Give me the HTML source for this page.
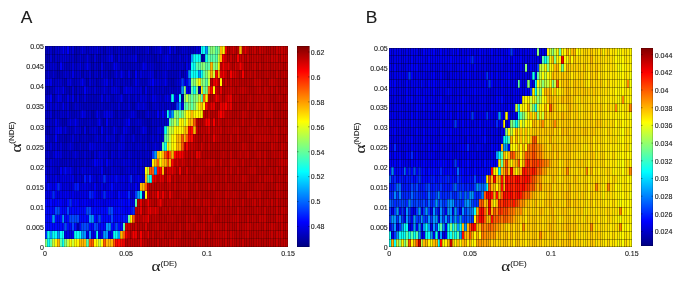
<!DOCTYPE html><html><head><meta charset="utf-8"><style>
*{margin:0;padding:0;box-sizing:border-box}
html,body{width:685px;height:282px;overflow:hidden;background:#fff}
body{position:relative}
.abs{position:absolute}
.txt{position:absolute;left:0;top:0;filter:grayscale(1);font-family:"Liberation Sans",sans-serif;fill:#1a1a1a;stroke:#1a1a1a;stroke-width:0.12px}
</style></head><body><div class="abs hm" style="left:45px;top:46px"><svg width="243.00" height="201.00" viewBox="0 0 243.00 201.00" shape-rendering="crispEdges" style="display:block"><rect x="0.00" y="0.00" width="3.13" height="8.74" fill="#0000b7"/><rect x="2.43" y="0.00" width="5.56" height="8.74" fill="#0000c7"/><rect x="7.29" y="0.00" width="3.13" height="8.74" fill="#0000b7"/><rect x="9.72" y="0.00" width="3.13" height="8.74" fill="#0000c7"/><rect x="12.15" y="0.00" width="3.13" height="8.74" fill="#0000d7"/><rect x="14.58" y="0.00" width="3.13" height="8.74" fill="#0000c7"/><rect x="17.01" y="0.00" width="3.13" height="8.74" fill="#0000f7"/><rect x="19.44" y="0.00" width="3.13" height="8.74" fill="#0000d7"/><rect x="21.87" y="0.00" width="3.13" height="8.74" fill="#0000f7"/><rect x="24.30" y="0.00" width="3.13" height="8.74" fill="#0000c7"/><rect x="26.73" y="0.00" width="3.13" height="8.74" fill="#0000d7"/><rect x="29.16" y="0.00" width="5.56" height="8.74" fill="#0000b7"/><rect x="34.02" y="0.00" width="3.13" height="8.74" fill="#0000c7"/><rect x="36.45" y="0.00" width="3.13" height="8.74" fill="#0000e7"/><rect x="38.88" y="0.00" width="7.99" height="8.74" fill="#0000c7"/><rect x="46.17" y="0.00" width="3.13" height="8.74" fill="#0000d7"/><rect x="48.60" y="0.00" width="3.13" height="8.74" fill="#0000c7"/><rect x="51.03" y="0.00" width="3.13" height="8.74" fill="#0000e7"/><rect x="53.46" y="0.00" width="5.56" height="8.74" fill="#0000c7"/><rect x="58.32" y="0.00" width="3.13" height="8.74" fill="#0000b7"/><rect x="60.75" y="0.00" width="3.13" height="8.74" fill="#0000c7"/><rect x="63.18" y="0.00" width="3.13" height="8.74" fill="#0000d7"/><rect x="65.61" y="0.00" width="3.13" height="8.74" fill="#0000c7"/><rect x="68.04" y="0.00" width="3.13" height="8.74" fill="#0000b7"/><rect x="70.47" y="0.00" width="12.85" height="8.74" fill="#0000c7"/><rect x="82.62" y="0.00" width="3.13" height="8.74" fill="#0000b7"/><rect x="85.05" y="0.00" width="3.13" height="8.74" fill="#0000c7"/><rect x="87.48" y="0.00" width="3.13" height="8.74" fill="#0000b7"/><rect x="89.91" y="0.00" width="5.56" height="8.74" fill="#0000c7"/><rect x="94.77" y="0.00" width="3.13" height="8.74" fill="#0000b7"/><rect x="97.20" y="0.00" width="5.56" height="8.74" fill="#0000c7"/><rect x="102.06" y="0.00" width="3.13" height="8.74" fill="#0000e7"/><rect x="104.49" y="0.00" width="5.56" height="8.74" fill="#0000b7"/><rect x="109.35" y="0.00" width="3.13" height="8.74" fill="#0000d7"/><rect x="111.78" y="0.00" width="3.13" height="8.74" fill="#0000c7"/><rect x="114.21" y="0.00" width="3.13" height="8.74" fill="#0000f7"/><rect x="116.64" y="0.00" width="3.13" height="8.74" fill="#0000b7"/><rect x="119.07" y="0.00" width="3.13" height="8.74" fill="#0000c7"/><rect x="121.50" y="0.00" width="3.13" height="8.74" fill="#0000d7"/><rect x="123.93" y="0.00" width="3.13" height="8.74" fill="#0000f7"/><rect x="126.36" y="0.00" width="3.13" height="8.74" fill="#0000c7"/><rect x="128.79" y="0.00" width="3.13" height="8.74" fill="#0000d7"/><rect x="131.22" y="0.00" width="5.56" height="8.74" fill="#0000b7"/><rect x="136.08" y="0.00" width="5.56" height="8.74" fill="#0000d7"/><rect x="140.94" y="0.00" width="5.56" height="8.74" fill="#0000c7"/><rect x="145.80" y="0.00" width="3.13" height="8.74" fill="#0000b7"/><rect x="148.23" y="0.00" width="3.13" height="8.74" fill="#0000c7"/><rect x="150.66" y="0.00" width="5.56" height="8.74" fill="#0000d7"/><rect x="155.52" y="0.00" width="5.56" height="8.74" fill="#08fff7"/><rect x="160.38" y="0.00" width="3.13" height="8.74" fill="#0097ff"/><rect x="162.81" y="0.00" width="3.13" height="8.74" fill="#58ffa7"/><rect x="165.24" y="0.00" width="5.56" height="8.74" fill="#87ff78"/><rect x="170.10" y="0.00" width="3.13" height="8.74" fill="#58ffa7"/><rect x="172.53" y="0.00" width="3.13" height="8.74" fill="#87ff78"/><rect x="174.96" y="0.00" width="3.13" height="8.74" fill="#ffb700"/><rect x="177.39" y="0.00" width="3.13" height="8.74" fill="#fff700"/><rect x="179.82" y="0.00" width="3.13" height="8.74" fill="#e70000"/><rect x="182.25" y="0.00" width="5.56" height="8.74" fill="#b70000"/><rect x="187.11" y="0.00" width="3.13" height="8.74" fill="#d70000"/><rect x="189.54" y="0.00" width="5.56" height="8.74" fill="#b70000"/><rect x="194.40" y="0.00" width="3.13" height="8.74" fill="#ffb700"/><rect x="196.83" y="0.00" width="3.13" height="8.74" fill="#b70000"/><rect x="199.26" y="0.00" width="3.13" height="8.74" fill="#e70000"/><rect x="201.69" y="0.00" width="5.56" height="8.74" fill="#b70000"/><rect x="206.55" y="0.00" width="5.56" height="8.74" fill="#c70000"/><rect x="211.41" y="0.00" width="3.13" height="8.74" fill="#b70000"/><rect x="213.84" y="0.00" width="5.56" height="8.74" fill="#c70000"/><rect x="218.70" y="0.00" width="12.85" height="8.74" fill="#b70000"/><rect x="230.85" y="0.00" width="10.42" height="8.74" fill="#c70000"/><rect x="240.57" y="0.00" width="3.13" height="8.74" fill="#b70000"/><rect x="0.00" y="8.04" width="5.56" height="8.74" fill="#0000b7"/><rect x="4.86" y="8.04" width="3.13" height="8.74" fill="#0000d7"/><rect x="7.29" y="8.04" width="3.13" height="8.74" fill="#0000b7"/><rect x="9.72" y="8.04" width="7.99" height="8.74" fill="#0000c7"/><rect x="17.01" y="8.04" width="5.56" height="8.74" fill="#0000d7"/><rect x="21.87" y="8.04" width="7.99" height="8.74" fill="#0000c7"/><rect x="29.16" y="8.04" width="5.56" height="8.74" fill="#0000b7"/><rect x="34.02" y="8.04" width="3.13" height="8.74" fill="#0000d7"/><rect x="36.45" y="8.04" width="3.13" height="8.74" fill="#0000c7"/><rect x="38.88" y="8.04" width="3.13" height="8.74" fill="#0000b7"/><rect x="41.31" y="8.04" width="3.13" height="8.74" fill="#0000e7"/><rect x="43.74" y="8.04" width="5.56" height="8.74" fill="#0000b7"/><rect x="48.60" y="8.04" width="3.13" height="8.74" fill="#0000d7"/><rect x="51.03" y="8.04" width="3.13" height="8.74" fill="#0000c7"/><rect x="53.46" y="8.04" width="3.13" height="8.74" fill="#0000b7"/><rect x="55.89" y="8.04" width="7.99" height="8.74" fill="#0000c7"/><rect x="63.18" y="8.04" width="5.56" height="8.74" fill="#0000e7"/><rect x="68.04" y="8.04" width="3.13" height="8.74" fill="#0000c7"/><rect x="70.47" y="8.04" width="3.13" height="8.74" fill="#0000b7"/><rect x="72.90" y="8.04" width="3.13" height="8.74" fill="#0000d7"/><rect x="75.33" y="8.04" width="10.42" height="8.74" fill="#0000c7"/><rect x="85.05" y="8.04" width="5.56" height="8.74" fill="#0000d7"/><rect x="89.91" y="8.04" width="3.13" height="8.74" fill="#0000e7"/><rect x="92.34" y="8.04" width="5.56" height="8.74" fill="#0000b7"/><rect x="97.20" y="8.04" width="10.42" height="8.74" fill="#0000c7"/><rect x="106.92" y="8.04" width="5.56" height="8.74" fill="#0000b7"/><rect x="111.78" y="8.04" width="7.99" height="8.74" fill="#0000c7"/><rect x="119.07" y="8.04" width="3.13" height="8.74" fill="#0000e7"/><rect x="121.50" y="8.04" width="3.13" height="8.74" fill="#0000f7"/><rect x="123.93" y="8.04" width="5.56" height="8.74" fill="#0000c7"/><rect x="128.79" y="8.04" width="3.13" height="8.74" fill="#0000b7"/><rect x="131.22" y="8.04" width="3.13" height="8.74" fill="#0000c7"/><rect x="133.65" y="8.04" width="3.13" height="8.74" fill="#0000d7"/><rect x="136.08" y="8.04" width="3.13" height="8.74" fill="#0000c7"/><rect x="138.51" y="8.04" width="5.56" height="8.74" fill="#0000d7"/><rect x="143.37" y="8.04" width="3.13" height="8.74" fill="#0000c7"/><rect x="145.80" y="8.04" width="3.13" height="8.74" fill="#0097ff"/><rect x="148.23" y="8.04" width="7.99" height="8.74" fill="#08fff7"/><rect x="155.52" y="8.04" width="5.56" height="8.74" fill="#0000a7"/><rect x="160.38" y="8.04" width="3.13" height="8.74" fill="#08fff7"/><rect x="162.81" y="8.04" width="10.42" height="8.74" fill="#58ffa7"/><rect x="172.53" y="8.04" width="3.13" height="8.74" fill="#c7ff38"/><rect x="174.96" y="8.04" width="3.13" height="8.74" fill="#ffb700"/><rect x="177.39" y="8.04" width="3.13" height="8.74" fill="#f70000"/><rect x="179.82" y="8.04" width="3.13" height="8.74" fill="#c70000"/><rect x="182.25" y="8.04" width="3.13" height="8.74" fill="#b70000"/><rect x="184.68" y="8.04" width="3.13" height="8.74" fill="#c70000"/><rect x="187.11" y="8.04" width="5.56" height="8.74" fill="#b70000"/><rect x="191.97" y="8.04" width="3.13" height="8.74" fill="#f70000"/><rect x="194.40" y="8.04" width="5.56" height="8.74" fill="#c70000"/><rect x="199.26" y="8.04" width="3.13" height="8.74" fill="#b70000"/><rect x="201.69" y="8.04" width="3.13" height="8.74" fill="#c70000"/><rect x="204.12" y="8.04" width="3.13" height="8.74" fill="#b70000"/><rect x="206.55" y="8.04" width="3.13" height="8.74" fill="#c70000"/><rect x="208.98" y="8.04" width="3.13" height="8.74" fill="#b70000"/><rect x="211.41" y="8.04" width="3.13" height="8.74" fill="#c70000"/><rect x="213.84" y="8.04" width="7.99" height="8.74" fill="#b70000"/><rect x="221.13" y="8.04" width="3.13" height="8.74" fill="#c70000"/><rect x="223.56" y="8.04" width="3.13" height="8.74" fill="#b70000"/><rect x="225.99" y="8.04" width="7.99" height="8.74" fill="#c70000"/><rect x="233.28" y="8.04" width="3.13" height="8.74" fill="#b70000"/><rect x="235.71" y="8.04" width="7.99" height="8.74" fill="#c70000"/><rect x="0.00" y="16.08" width="7.99" height="8.74" fill="#0000c7"/><rect x="7.29" y="16.08" width="3.13" height="8.74" fill="#0000d7"/><rect x="9.72" y="16.08" width="3.13" height="8.74" fill="#0000c7"/><rect x="12.15" y="16.08" width="3.13" height="8.74" fill="#0000b7"/><rect x="14.58" y="16.08" width="3.13" height="8.74" fill="#0000f7"/><rect x="17.01" y="16.08" width="3.13" height="8.74" fill="#0000d7"/><rect x="19.44" y="16.08" width="3.13" height="8.74" fill="#0000c7"/><rect x="21.87" y="16.08" width="3.13" height="8.74" fill="#0000b7"/><rect x="24.30" y="16.08" width="3.13" height="8.74" fill="#0000c7"/><rect x="26.73" y="16.08" width="3.13" height="8.74" fill="#0000d7"/><rect x="29.16" y="16.08" width="5.56" height="8.74" fill="#0000c7"/><rect x="34.02" y="16.08" width="3.13" height="8.74" fill="#0000e7"/><rect x="36.45" y="16.08" width="5.56" height="8.74" fill="#0000c7"/><rect x="41.31" y="16.08" width="3.13" height="8.74" fill="#0000f7"/><rect x="43.74" y="16.08" width="3.13" height="8.74" fill="#0000c7"/><rect x="46.17" y="16.08" width="3.13" height="8.74" fill="#0000b7"/><rect x="48.60" y="16.08" width="5.56" height="8.74" fill="#0000c7"/><rect x="53.46" y="16.08" width="3.13" height="8.74" fill="#0000b7"/><rect x="55.89" y="16.08" width="3.13" height="8.74" fill="#0000e7"/><rect x="58.32" y="16.08" width="3.13" height="8.74" fill="#0000c7"/><rect x="60.75" y="16.08" width="3.13" height="8.74" fill="#0000b7"/><rect x="63.18" y="16.08" width="3.13" height="8.74" fill="#0000c7"/><rect x="65.61" y="16.08" width="3.13" height="8.74" fill="#0000b7"/><rect x="68.04" y="16.08" width="3.13" height="8.74" fill="#0000f7"/><rect x="70.47" y="16.08" width="3.13" height="8.74" fill="#0000e7"/><rect x="72.90" y="16.08" width="5.56" height="8.74" fill="#0000c7"/><rect x="77.76" y="16.08" width="3.13" height="8.74" fill="#0000b7"/><rect x="80.19" y="16.08" width="3.13" height="8.74" fill="#0000c7"/><rect x="82.62" y="16.08" width="3.13" height="8.74" fill="#0000b7"/><rect x="85.05" y="16.08" width="10.42" height="8.74" fill="#0000c7"/><rect x="94.77" y="16.08" width="3.13" height="8.74" fill="#0000b7"/><rect x="97.20" y="16.08" width="3.13" height="8.74" fill="#0000f7"/><rect x="99.63" y="16.08" width="3.13" height="8.74" fill="#0000d7"/><rect x="102.06" y="16.08" width="3.13" height="8.74" fill="#0000c7"/><rect x="104.49" y="16.08" width="3.13" height="8.74" fill="#0000d7"/><rect x="106.92" y="16.08" width="5.56" height="8.74" fill="#0000c7"/><rect x="111.78" y="16.08" width="3.13" height="8.74" fill="#0000b7"/><rect x="114.21" y="16.08" width="5.56" height="8.74" fill="#0000c7"/><rect x="119.07" y="16.08" width="3.13" height="8.74" fill="#0000d7"/><rect x="121.50" y="16.08" width="3.13" height="8.74" fill="#0000e7"/><rect x="123.93" y="16.08" width="12.85" height="8.74" fill="#0000c7"/><rect x="136.08" y="16.08" width="3.13" height="8.74" fill="#0000d7"/><rect x="138.51" y="16.08" width="3.13" height="8.74" fill="#0000b7"/><rect x="140.94" y="16.08" width="3.13" height="8.74" fill="#0000e7"/><rect x="143.37" y="16.08" width="3.13" height="8.74" fill="#0000d7"/><rect x="145.80" y="16.08" width="5.56" height="8.74" fill="#08fff7"/><rect x="150.66" y="16.08" width="5.56" height="8.74" fill="#58ffa7"/><rect x="155.52" y="16.08" width="5.56" height="8.74" fill="#87ff78"/><rect x="160.38" y="16.08" width="5.56" height="8.74" fill="#58ffa7"/><rect x="165.24" y="16.08" width="3.13" height="8.74" fill="#ffb700"/><rect x="167.67" y="16.08" width="5.56" height="8.74" fill="#87ff78"/><rect x="172.53" y="16.08" width="3.13" height="8.74" fill="#fff700"/><rect x="174.96" y="16.08" width="3.13" height="8.74" fill="#b70000"/><rect x="177.39" y="16.08" width="3.13" height="8.74" fill="#f70000"/><rect x="179.82" y="16.08" width="3.13" height="8.74" fill="#c70000"/><rect x="182.25" y="16.08" width="3.13" height="8.74" fill="#e70000"/><rect x="184.68" y="16.08" width="5.56" height="8.74" fill="#b70000"/><rect x="189.54" y="16.08" width="3.13" height="8.74" fill="#d70000"/><rect x="191.97" y="16.08" width="3.13" height="8.74" fill="#b70000"/><rect x="194.40" y="16.08" width="3.13" height="8.74" fill="#f70000"/><rect x="196.83" y="16.08" width="3.13" height="8.74" fill="#c70000"/><rect x="199.26" y="16.08" width="7.99" height="8.74" fill="#b70000"/><rect x="206.55" y="16.08" width="5.56" height="8.74" fill="#c70000"/><rect x="211.41" y="16.08" width="3.13" height="8.74" fill="#b70000"/><rect x="213.84" y="16.08" width="3.13" height="8.74" fill="#c70000"/><rect x="216.27" y="16.08" width="5.56" height="8.74" fill="#b70000"/><rect x="221.13" y="16.08" width="3.13" height="8.74" fill="#c70000"/><rect x="223.56" y="16.08" width="5.56" height="8.74" fill="#b70000"/><rect x="228.42" y="16.08" width="3.13" height="8.74" fill="#c70000"/><rect x="230.85" y="16.08" width="3.13" height="8.74" fill="#b70000"/><rect x="233.28" y="16.08" width="3.13" height="8.74" fill="#c70000"/><rect x="235.71" y="16.08" width="5.56" height="8.74" fill="#b70000"/><rect x="240.57" y="16.08" width="3.13" height="8.74" fill="#c70000"/><rect x="0.00" y="24.12" width="3.13" height="8.74" fill="#0000b7"/><rect x="2.43" y="24.12" width="3.13" height="8.74" fill="#0000d7"/><rect x="4.86" y="24.12" width="3.13" height="8.74" fill="#0000b7"/><rect x="7.29" y="24.12" width="3.13" height="8.74" fill="#0000d7"/><rect x="9.72" y="24.12" width="7.99" height="8.74" fill="#0000b7"/><rect x="17.01" y="24.12" width="3.13" height="8.74" fill="#0000c7"/><rect x="19.44" y="24.12" width="3.13" height="8.74" fill="#0000d7"/><rect x="21.87" y="24.12" width="5.56" height="8.74" fill="#0000c7"/><rect x="26.73" y="24.12" width="3.13" height="8.74" fill="#0000e7"/><rect x="29.16" y="24.12" width="5.56" height="8.74" fill="#0000c7"/><rect x="34.02" y="24.12" width="3.13" height="8.74" fill="#0000d7"/><rect x="36.45" y="24.12" width="3.13" height="8.74" fill="#0000b7"/><rect x="38.88" y="24.12" width="5.56" height="8.74" fill="#0000c7"/><rect x="43.74" y="24.12" width="3.13" height="8.74" fill="#0000d7"/><rect x="46.17" y="24.12" width="3.13" height="8.74" fill="#0000b7"/><rect x="48.60" y="24.12" width="3.13" height="8.74" fill="#0000c7"/><rect x="51.03" y="24.12" width="3.13" height="8.74" fill="#0000d7"/><rect x="53.46" y="24.12" width="3.13" height="8.74" fill="#0000b7"/><rect x="55.89" y="24.12" width="3.13" height="8.74" fill="#0000d7"/><rect x="58.32" y="24.12" width="5.56" height="8.74" fill="#0000c7"/><rect x="63.18" y="24.12" width="5.56" height="8.74" fill="#0000b7"/><rect x="68.04" y="24.12" width="3.13" height="8.74" fill="#0000c7"/><rect x="70.47" y="24.12" width="3.13" height="8.74" fill="#0000e7"/><rect x="72.90" y="24.12" width="3.13" height="8.74" fill="#0000b7"/><rect x="75.33" y="24.12" width="3.13" height="8.74" fill="#0000f7"/><rect x="77.76" y="24.12" width="5.56" height="8.74" fill="#0000c7"/><rect x="82.62" y="24.12" width="3.13" height="8.74" fill="#0000e7"/><rect x="85.05" y="24.12" width="3.13" height="8.74" fill="#0000c7"/><rect x="87.48" y="24.12" width="3.13" height="8.74" fill="#0000b7"/><rect x="89.91" y="24.12" width="3.13" height="8.74" fill="#0000f7"/><rect x="92.34" y="24.12" width="3.13" height="8.74" fill="#0000c7"/><rect x="94.77" y="24.12" width="5.56" height="8.74" fill="#0000d7"/><rect x="99.63" y="24.12" width="3.13" height="8.74" fill="#0000c7"/><rect x="102.06" y="24.12" width="3.13" height="8.74" fill="#0000d7"/><rect x="104.49" y="24.12" width="3.13" height="8.74" fill="#0000e7"/><rect x="106.92" y="24.12" width="3.13" height="8.74" fill="#0000d7"/><rect x="109.35" y="24.12" width="3.13" height="8.74" fill="#0000b7"/><rect x="111.78" y="24.12" width="7.99" height="8.74" fill="#0000c7"/><rect x="119.07" y="24.12" width="3.13" height="8.74" fill="#0000e7"/><rect x="121.50" y="24.12" width="3.13" height="8.74" fill="#0000c7"/><rect x="123.93" y="24.12" width="3.13" height="8.74" fill="#0000b7"/><rect x="126.36" y="24.12" width="3.13" height="8.74" fill="#0000c7"/><rect x="128.79" y="24.12" width="3.13" height="8.74" fill="#0000b7"/><rect x="131.22" y="24.12" width="3.13" height="8.74" fill="#0000c7"/><rect x="133.65" y="24.12" width="3.13" height="8.74" fill="#0000d7"/><rect x="136.08" y="24.12" width="3.13" height="8.74" fill="#0000b7"/><rect x="138.51" y="24.12" width="3.13" height="8.74" fill="#0000c7"/><rect x="140.94" y="24.12" width="3.13" height="8.74" fill="#0000d7"/><rect x="143.37" y="24.12" width="3.13" height="8.74" fill="#0097ff"/><rect x="145.80" y="24.12" width="7.99" height="8.74" fill="#08fff7"/><rect x="153.09" y="24.12" width="3.13" height="8.74" fill="#0097ff"/><rect x="155.52" y="24.12" width="3.13" height="8.74" fill="#08fff7"/><rect x="157.95" y="24.12" width="3.13" height="8.74" fill="#58ffa7"/><rect x="160.38" y="24.12" width="3.13" height="8.74" fill="#87ff78"/><rect x="162.81" y="24.12" width="3.13" height="8.74" fill="#c7ff38"/><rect x="165.24" y="24.12" width="3.13" height="8.74" fill="#ffb700"/><rect x="167.67" y="24.12" width="3.13" height="8.74" fill="#c7ff38"/><rect x="170.10" y="24.12" width="3.13" height="8.74" fill="#ff0800"/><rect x="172.53" y="24.12" width="3.13" height="8.74" fill="#ffb700"/><rect x="174.96" y="24.12" width="3.13" height="8.74" fill="#d70000"/><rect x="177.39" y="24.12" width="3.13" height="8.74" fill="#f70000"/><rect x="179.82" y="24.12" width="3.13" height="8.74" fill="#c70000"/><rect x="182.25" y="24.12" width="3.13" height="8.74" fill="#b70000"/><rect x="184.68" y="24.12" width="3.13" height="8.74" fill="#f70000"/><rect x="187.11" y="24.12" width="5.56" height="8.74" fill="#d70000"/><rect x="191.97" y="24.12" width="5.56" height="8.74" fill="#b70000"/><rect x="196.83" y="24.12" width="3.13" height="8.74" fill="#f70000"/><rect x="199.26" y="24.12" width="5.56" height="8.74" fill="#b70000"/><rect x="204.12" y="24.12" width="3.13" height="8.74" fill="#c70000"/><rect x="206.55" y="24.12" width="3.13" height="8.74" fill="#b70000"/><rect x="208.98" y="24.12" width="3.13" height="8.74" fill="#c70000"/><rect x="211.41" y="24.12" width="10.42" height="8.74" fill="#b70000"/><rect x="221.13" y="24.12" width="3.13" height="8.74" fill="#c70000"/><rect x="223.56" y="24.12" width="7.99" height="8.74" fill="#b70000"/><rect x="230.85" y="24.12" width="3.13" height="8.74" fill="#c70000"/><rect x="233.28" y="24.12" width="5.56" height="8.74" fill="#b70000"/><rect x="238.14" y="24.12" width="3.13" height="8.74" fill="#c70000"/><rect x="240.57" y="24.12" width="3.13" height="8.74" fill="#b70000"/><rect x="0.00" y="32.16" width="3.13" height="8.74" fill="#0000d7"/><rect x="2.43" y="32.16" width="5.56" height="8.74" fill="#0000e7"/><rect x="7.29" y="32.16" width="5.56" height="8.74" fill="#0000c7"/><rect x="12.15" y="32.16" width="3.13" height="8.74" fill="#0000d7"/><rect x="14.58" y="32.16" width="5.56" height="8.74" fill="#0000c7"/><rect x="19.44" y="32.16" width="3.13" height="8.74" fill="#0000b7"/><rect x="21.87" y="32.16" width="3.13" height="8.74" fill="#0000d7"/><rect x="24.30" y="32.16" width="3.13" height="8.74" fill="#0000e7"/><rect x="26.73" y="32.16" width="3.13" height="8.74" fill="#0000b7"/><rect x="29.16" y="32.16" width="5.56" height="8.74" fill="#0000c7"/><rect x="34.02" y="32.16" width="3.13" height="8.74" fill="#0000d7"/><rect x="36.45" y="32.16" width="3.13" height="8.74" fill="#0000f7"/><rect x="38.88" y="32.16" width="3.13" height="8.74" fill="#0000c7"/><rect x="41.31" y="32.16" width="3.13" height="8.74" fill="#0000b7"/><rect x="43.74" y="32.16" width="3.13" height="8.74" fill="#0000d7"/><rect x="46.17" y="32.16" width="5.56" height="8.74" fill="#0000c7"/><rect x="51.03" y="32.16" width="3.13" height="8.74" fill="#0000b7"/><rect x="53.46" y="32.16" width="5.56" height="8.74" fill="#0000c7"/><rect x="58.32" y="32.16" width="5.56" height="8.74" fill="#0000e7"/><rect x="63.18" y="32.16" width="3.13" height="8.74" fill="#0000c7"/><rect x="65.61" y="32.16" width="3.13" height="8.74" fill="#0000d7"/><rect x="68.04" y="32.16" width="3.13" height="8.74" fill="#0000b7"/><rect x="70.47" y="32.16" width="3.13" height="8.74" fill="#0000d7"/><rect x="72.90" y="32.16" width="12.85" height="8.74" fill="#0000c7"/><rect x="85.05" y="32.16" width="3.13" height="8.74" fill="#0000b7"/><rect x="87.48" y="32.16" width="3.13" height="8.74" fill="#0000c7"/><rect x="89.91" y="32.16" width="3.13" height="8.74" fill="#0000e7"/><rect x="92.34" y="32.16" width="3.13" height="8.74" fill="#0000d7"/><rect x="94.77" y="32.16" width="3.13" height="8.74" fill="#0000b7"/><rect x="97.20" y="32.16" width="3.13" height="8.74" fill="#0000c7"/><rect x="99.63" y="32.16" width="3.13" height="8.74" fill="#0000b7"/><rect x="102.06" y="32.16" width="3.13" height="8.74" fill="#0000d7"/><rect x="104.49" y="32.16" width="3.13" height="8.74" fill="#0000e7"/><rect x="106.92" y="32.16" width="3.13" height="8.74" fill="#0000f7"/><rect x="109.35" y="32.16" width="7.99" height="8.74" fill="#0000d7"/><rect x="116.64" y="32.16" width="3.13" height="8.74" fill="#0000c7"/><rect x="119.07" y="32.16" width="3.13" height="8.74" fill="#0000f7"/><rect x="121.50" y="32.16" width="3.13" height="8.74" fill="#0000c7"/><rect x="123.93" y="32.16" width="7.99" height="8.74" fill="#0000b7"/><rect x="131.22" y="32.16" width="5.56" height="8.74" fill="#0000d7"/><rect x="136.08" y="32.16" width="3.13" height="8.74" fill="#0038ff"/><rect x="138.51" y="32.16" width="5.56" height="8.74" fill="#0000e7"/><rect x="143.37" y="32.16" width="3.13" height="8.74" fill="#0038ff"/><rect x="145.80" y="32.16" width="5.56" height="8.74" fill="#87ff78"/><rect x="150.66" y="32.16" width="3.13" height="8.74" fill="#c7ff38"/><rect x="153.09" y="32.16" width="3.13" height="8.74" fill="#fff700"/><rect x="155.52" y="32.16" width="5.56" height="8.74" fill="#87ff78"/><rect x="160.38" y="32.16" width="3.13" height="8.74" fill="#58ffa7"/><rect x="162.81" y="32.16" width="3.13" height="8.74" fill="#c7ff38"/><rect x="165.24" y="32.16" width="3.13" height="8.74" fill="#b70000"/><rect x="167.67" y="32.16" width="3.13" height="8.74" fill="#e70000"/><rect x="170.10" y="32.16" width="3.13" height="8.74" fill="#f70000"/><rect x="172.53" y="32.16" width="3.13" height="8.74" fill="#b70000"/><rect x="174.96" y="32.16" width="3.13" height="8.74" fill="#fff700"/><rect x="177.39" y="32.16" width="3.13" height="8.74" fill="#b70000"/><rect x="179.82" y="32.16" width="3.13" height="8.74" fill="#c70000"/><rect x="182.25" y="32.16" width="3.13" height="8.74" fill="#b70000"/><rect x="184.68" y="32.16" width="3.13" height="8.74" fill="#c70000"/><rect x="187.11" y="32.16" width="3.13" height="8.74" fill="#b70000"/><rect x="189.54" y="32.16" width="3.13" height="8.74" fill="#c70000"/><rect x="191.97" y="32.16" width="17.71" height="8.74" fill="#b70000"/><rect x="208.98" y="32.16" width="7.99" height="8.74" fill="#c70000"/><rect x="216.27" y="32.16" width="7.99" height="8.74" fill="#b70000"/><rect x="223.56" y="32.16" width="7.99" height="8.74" fill="#c70000"/><rect x="230.85" y="32.16" width="12.85" height="8.74" fill="#b70000"/><rect x="0.00" y="40.20" width="7.99" height="8.74" fill="#0000b7"/><rect x="7.29" y="40.20" width="3.13" height="8.74" fill="#0000c7"/><rect x="9.72" y="40.20" width="3.13" height="8.74" fill="#0000d7"/><rect x="12.15" y="40.20" width="3.13" height="8.74" fill="#0000e7"/><rect x="14.58" y="40.20" width="3.13" height="8.74" fill="#0000c7"/><rect x="17.01" y="40.20" width="3.13" height="8.74" fill="#0000f7"/><rect x="19.44" y="40.20" width="3.13" height="8.74" fill="#0000c7"/><rect x="21.87" y="40.20" width="5.56" height="8.74" fill="#0000b7"/><rect x="26.73" y="40.20" width="3.13" height="8.74" fill="#0000d7"/><rect x="29.16" y="40.20" width="3.13" height="8.74" fill="#0000b7"/><rect x="31.59" y="40.20" width="7.99" height="8.74" fill="#0000c7"/><rect x="38.88" y="40.20" width="3.13" height="8.74" fill="#0000f7"/><rect x="41.31" y="40.20" width="3.13" height="8.74" fill="#0000d7"/><rect x="43.74" y="40.20" width="5.56" height="8.74" fill="#0000c7"/><rect x="48.60" y="40.20" width="3.13" height="8.74" fill="#0000d7"/><rect x="51.03" y="40.20" width="7.99" height="8.74" fill="#0000c7"/><rect x="58.32" y="40.20" width="3.13" height="8.74" fill="#0000e7"/><rect x="60.75" y="40.20" width="5.56" height="8.74" fill="#0000c7"/><rect x="65.61" y="40.20" width="3.13" height="8.74" fill="#0000d7"/><rect x="68.04" y="40.20" width="5.56" height="8.74" fill="#0000e7"/><rect x="72.90" y="40.20" width="3.13" height="8.74" fill="#0000c7"/><rect x="75.33" y="40.20" width="3.13" height="8.74" fill="#0000b7"/><rect x="77.76" y="40.20" width="3.13" height="8.74" fill="#0000d7"/><rect x="80.19" y="40.20" width="3.13" height="8.74" fill="#0000f7"/><rect x="82.62" y="40.20" width="3.13" height="8.74" fill="#0000d7"/><rect x="85.05" y="40.20" width="3.13" height="8.74" fill="#0000e7"/><rect x="87.48" y="40.20" width="10.42" height="8.74" fill="#0000d7"/><rect x="97.20" y="40.20" width="3.13" height="8.74" fill="#0000b7"/><rect x="99.63" y="40.20" width="3.13" height="8.74" fill="#0000e7"/><rect x="102.06" y="40.20" width="5.56" height="8.74" fill="#0000c7"/><rect x="106.92" y="40.20" width="3.13" height="8.74" fill="#0000d7"/><rect x="109.35" y="40.20" width="20.14" height="8.74" fill="#0000c7"/><rect x="128.79" y="40.20" width="3.13" height="8.74" fill="#0000b7"/><rect x="131.22" y="40.20" width="3.13" height="8.74" fill="#0000d7"/><rect x="133.65" y="40.20" width="3.13" height="8.74" fill="#0000c7"/><rect x="136.08" y="40.20" width="3.13" height="8.74" fill="#0097ff"/><rect x="138.51" y="40.20" width="3.13" height="8.74" fill="#87ff78"/><rect x="140.94" y="40.20" width="5.56" height="8.74" fill="#0000e7"/><rect x="145.80" y="40.20" width="3.13" height="8.74" fill="#58ffa7"/><rect x="148.23" y="40.20" width="3.13" height="8.74" fill="#08fff7"/><rect x="150.66" y="40.20" width="3.13" height="8.74" fill="#87ff78"/><rect x="153.09" y="40.20" width="3.13" height="8.74" fill="#0000a7"/><rect x="155.52" y="40.20" width="3.13" height="8.74" fill="#fff700"/><rect x="157.95" y="40.20" width="3.13" height="8.74" fill="#58ffa7"/><rect x="160.38" y="40.20" width="3.13" height="8.74" fill="#87ff78"/><rect x="162.81" y="40.20" width="3.13" height="8.74" fill="#ff5800"/><rect x="165.24" y="40.20" width="3.13" height="8.74" fill="#ff0800"/><rect x="167.67" y="40.20" width="3.13" height="8.74" fill="#fff700"/><rect x="170.10" y="40.20" width="3.13" height="8.74" fill="#d70000"/><rect x="172.53" y="40.20" width="3.13" height="8.74" fill="#b70000"/><rect x="174.96" y="40.20" width="3.13" height="8.74" fill="#e70000"/><rect x="177.39" y="40.20" width="5.56" height="8.74" fill="#b70000"/><rect x="182.25" y="40.20" width="7.99" height="8.74" fill="#c70000"/><rect x="189.54" y="40.20" width="5.56" height="8.74" fill="#b70000"/><rect x="194.40" y="40.20" width="7.99" height="8.74" fill="#c70000"/><rect x="201.69" y="40.20" width="10.42" height="8.74" fill="#b70000"/><rect x="211.41" y="40.20" width="5.56" height="8.74" fill="#c70000"/><rect x="216.27" y="40.20" width="3.13" height="8.74" fill="#b70000"/><rect x="218.70" y="40.20" width="5.56" height="8.74" fill="#c70000"/><rect x="223.56" y="40.20" width="3.13" height="8.74" fill="#b70000"/><rect x="225.99" y="40.20" width="3.13" height="8.74" fill="#c70000"/><rect x="228.42" y="40.20" width="3.13" height="8.74" fill="#b70000"/><rect x="230.85" y="40.20" width="3.13" height="8.74" fill="#c70000"/><rect x="233.28" y="40.20" width="5.56" height="8.74" fill="#b70000"/><rect x="238.14" y="40.20" width="3.13" height="8.74" fill="#c70000"/><rect x="240.57" y="40.20" width="3.13" height="8.74" fill="#b70000"/><rect x="0.00" y="48.24" width="3.13" height="8.74" fill="#0000c7"/><rect x="2.43" y="48.24" width="3.13" height="8.74" fill="#0000d7"/><rect x="4.86" y="48.24" width="3.13" height="8.74" fill="#0000f7"/><rect x="7.29" y="48.24" width="3.13" height="8.74" fill="#0000b7"/><rect x="9.72" y="48.24" width="3.13" height="8.74" fill="#0000c7"/><rect x="12.15" y="48.24" width="3.13" height="8.74" fill="#0000f7"/><rect x="14.58" y="48.24" width="3.13" height="8.74" fill="#0000d7"/><rect x="17.01" y="48.24" width="5.56" height="8.74" fill="#0000c7"/><rect x="21.87" y="48.24" width="3.13" height="8.74" fill="#0000e7"/><rect x="24.30" y="48.24" width="3.13" height="8.74" fill="#0000c7"/><rect x="26.73" y="48.24" width="3.13" height="8.74" fill="#0000e7"/><rect x="29.16" y="48.24" width="3.13" height="8.74" fill="#0000b7"/><rect x="31.59" y="48.24" width="3.13" height="8.74" fill="#0000d7"/><rect x="34.02" y="48.24" width="3.13" height="8.74" fill="#0000b7"/><rect x="36.45" y="48.24" width="3.13" height="8.74" fill="#0000c7"/><rect x="38.88" y="48.24" width="3.13" height="8.74" fill="#0000d7"/><rect x="41.31" y="48.24" width="3.13" height="8.74" fill="#0000c7"/><rect x="43.74" y="48.24" width="3.13" height="8.74" fill="#0000b7"/><rect x="46.17" y="48.24" width="3.13" height="8.74" fill="#0000c7"/><rect x="48.60" y="48.24" width="3.13" height="8.74" fill="#0000b7"/><rect x="51.03" y="48.24" width="5.56" height="8.74" fill="#0000c7"/><rect x="55.89" y="48.24" width="3.13" height="8.74" fill="#0000e7"/><rect x="58.32" y="48.24" width="3.13" height="8.74" fill="#0000c7"/><rect x="60.75" y="48.24" width="5.56" height="8.74" fill="#0000d7"/><rect x="65.61" y="48.24" width="3.13" height="8.74" fill="#0000b7"/><rect x="68.04" y="48.24" width="3.13" height="8.74" fill="#0000c7"/><rect x="70.47" y="48.24" width="3.13" height="8.74" fill="#0000d7"/><rect x="72.90" y="48.24" width="3.13" height="8.74" fill="#0000c7"/><rect x="75.33" y="48.24" width="3.13" height="8.74" fill="#0000f7"/><rect x="77.76" y="48.24" width="3.13" height="8.74" fill="#0000b7"/><rect x="80.19" y="48.24" width="3.13" height="8.74" fill="#0000c7"/><rect x="82.62" y="48.24" width="3.13" height="8.74" fill="#0000d7"/><rect x="85.05" y="48.24" width="5.56" height="8.74" fill="#0000c7"/><rect x="89.91" y="48.24" width="3.13" height="8.74" fill="#0000d7"/><rect x="92.34" y="48.24" width="3.13" height="8.74" fill="#0000c7"/><rect x="94.77" y="48.24" width="7.99" height="8.74" fill="#0000d7"/><rect x="102.06" y="48.24" width="5.56" height="8.74" fill="#0000c7"/><rect x="106.92" y="48.24" width="5.56" height="8.74" fill="#0000e7"/><rect x="111.78" y="48.24" width="3.13" height="8.74" fill="#0000c7"/><rect x="114.21" y="48.24" width="3.13" height="8.74" fill="#0000d7"/><rect x="116.64" y="48.24" width="3.13" height="8.74" fill="#0000b7"/><rect x="119.07" y="48.24" width="3.13" height="8.74" fill="#0000e7"/><rect x="121.50" y="48.24" width="3.13" height="8.74" fill="#0000f7"/><rect x="123.93" y="48.24" width="3.13" height="8.74" fill="#0000c7"/><rect x="126.36" y="48.24" width="3.13" height="8.74" fill="#08fff7"/><rect x="128.79" y="48.24" width="5.56" height="8.74" fill="#0000e7"/><rect x="133.65" y="48.24" width="3.13" height="8.74" fill="#08fff7"/><rect x="136.08" y="48.24" width="3.13" height="8.74" fill="#0000a7"/><rect x="138.51" y="48.24" width="3.13" height="8.74" fill="#87ff78"/><rect x="140.94" y="48.24" width="3.13" height="8.74" fill="#c7ff38"/><rect x="143.37" y="48.24" width="3.13" height="8.74" fill="#87ff78"/><rect x="145.80" y="48.24" width="3.13" height="8.74" fill="#58ffa7"/><rect x="148.23" y="48.24" width="5.56" height="8.74" fill="#87ff78"/><rect x="153.09" y="48.24" width="3.13" height="8.74" fill="#c7ff38"/><rect x="155.52" y="48.24" width="3.13" height="8.74" fill="#58ffa7"/><rect x="157.95" y="48.24" width="3.13" height="8.74" fill="#ff5800"/><rect x="160.38" y="48.24" width="3.13" height="8.74" fill="#fff700"/><rect x="162.81" y="48.24" width="7.99" height="8.74" fill="#b70000"/><rect x="170.10" y="48.24" width="3.13" height="8.74" fill="#f70000"/><rect x="172.53" y="48.24" width="3.13" height="8.74" fill="#d70000"/><rect x="174.96" y="48.24" width="3.13" height="8.74" fill="#c70000"/><rect x="177.39" y="48.24" width="3.13" height="8.74" fill="#b70000"/><rect x="179.82" y="48.24" width="3.13" height="8.74" fill="#c70000"/><rect x="182.25" y="48.24" width="5.56" height="8.74" fill="#e70000"/><rect x="187.11" y="48.24" width="3.13" height="8.74" fill="#b70000"/><rect x="189.54" y="48.24" width="3.13" height="8.74" fill="#c70000"/><rect x="191.97" y="48.24" width="12.85" height="8.74" fill="#b70000"/><rect x="204.12" y="48.24" width="3.13" height="8.74" fill="#c70000"/><rect x="206.55" y="48.24" width="5.56" height="8.74" fill="#b70000"/><rect x="211.41" y="48.24" width="3.13" height="8.74" fill="#c70000"/><rect x="213.84" y="48.24" width="3.13" height="8.74" fill="#b70000"/><rect x="216.27" y="48.24" width="3.13" height="8.74" fill="#c70000"/><rect x="218.70" y="48.24" width="3.13" height="8.74" fill="#b70000"/><rect x="221.13" y="48.24" width="3.13" height="8.74" fill="#c70000"/><rect x="223.56" y="48.24" width="10.42" height="8.74" fill="#b70000"/><rect x="233.28" y="48.24" width="3.13" height="8.74" fill="#c70000"/><rect x="235.71" y="48.24" width="5.56" height="8.74" fill="#b70000"/><rect x="240.57" y="48.24" width="3.13" height="8.74" fill="#c70000"/><rect x="0.00" y="56.28" width="3.13" height="8.74" fill="#0000e7"/><rect x="2.43" y="56.28" width="3.13" height="8.74" fill="#0000c7"/><rect x="4.86" y="56.28" width="3.13" height="8.74" fill="#0000d7"/><rect x="7.29" y="56.28" width="3.13" height="8.74" fill="#0000c7"/><rect x="9.72" y="56.28" width="5.56" height="8.74" fill="#0000d7"/><rect x="14.58" y="56.28" width="3.13" height="8.74" fill="#0000b7"/><rect x="17.01" y="56.28" width="3.13" height="8.74" fill="#0000f7"/><rect x="19.44" y="56.28" width="3.13" height="8.74" fill="#0000c7"/><rect x="21.87" y="56.28" width="3.13" height="8.74" fill="#0000d7"/><rect x="24.30" y="56.28" width="5.56" height="8.74" fill="#0000b7"/><rect x="29.16" y="56.28" width="3.13" height="8.74" fill="#0000d7"/><rect x="31.59" y="56.28" width="7.99" height="8.74" fill="#0000c7"/><rect x="38.88" y="56.28" width="3.13" height="8.74" fill="#0000b7"/><rect x="41.31" y="56.28" width="3.13" height="8.74" fill="#0000c7"/><rect x="43.74" y="56.28" width="3.13" height="8.74" fill="#0000b7"/><rect x="46.17" y="56.28" width="3.13" height="8.74" fill="#0000c7"/><rect x="48.60" y="56.28" width="3.13" height="8.74" fill="#0000b7"/><rect x="51.03" y="56.28" width="10.42" height="8.74" fill="#0000c7"/><rect x="60.75" y="56.28" width="3.13" height="8.74" fill="#0000b7"/><rect x="63.18" y="56.28" width="10.42" height="8.74" fill="#0000c7"/><rect x="72.90" y="56.28" width="3.13" height="8.74" fill="#0000d7"/><rect x="75.33" y="56.28" width="7.99" height="8.74" fill="#0000c7"/><rect x="82.62" y="56.28" width="3.13" height="8.74" fill="#0000d7"/><rect x="85.05" y="56.28" width="3.13" height="8.74" fill="#0000c7"/><rect x="87.48" y="56.28" width="3.13" height="8.74" fill="#0000b7"/><rect x="89.91" y="56.28" width="3.13" height="8.74" fill="#0000c7"/><rect x="92.34" y="56.28" width="3.13" height="8.74" fill="#0000e7"/><rect x="94.77" y="56.28" width="3.13" height="8.74" fill="#0000c7"/><rect x="97.20" y="56.28" width="3.13" height="8.74" fill="#0000e7"/><rect x="99.63" y="56.28" width="5.56" height="8.74" fill="#0000c7"/><rect x="104.49" y="56.28" width="3.13" height="8.74" fill="#0000b7"/><rect x="106.92" y="56.28" width="3.13" height="8.74" fill="#0000c7"/><rect x="109.35" y="56.28" width="3.13" height="8.74" fill="#0000d7"/><rect x="111.78" y="56.28" width="10.42" height="8.74" fill="#0000c7"/><rect x="121.50" y="56.28" width="3.13" height="8.74" fill="#0000d7"/><rect x="123.93" y="56.28" width="5.56" height="8.74" fill="#0000c7"/><rect x="128.79" y="56.28" width="3.13" height="8.74" fill="#0000b7"/><rect x="131.22" y="56.28" width="3.13" height="8.74" fill="#0038ff"/><rect x="133.65" y="56.28" width="3.13" height="8.74" fill="#0097ff"/><rect x="136.08" y="56.28" width="3.13" height="8.74" fill="#0000e7"/><rect x="138.51" y="56.28" width="5.56" height="8.74" fill="#58ffa7"/><rect x="143.37" y="56.28" width="3.13" height="8.74" fill="#87ff78"/><rect x="145.80" y="56.28" width="3.13" height="8.74" fill="#58ffa7"/><rect x="148.23" y="56.28" width="3.13" height="8.74" fill="#87ff78"/><rect x="150.66" y="56.28" width="3.13" height="8.74" fill="#c7ff38"/><rect x="153.09" y="56.28" width="3.13" height="8.74" fill="#fff700"/><rect x="155.52" y="56.28" width="3.13" height="8.74" fill="#ffb700"/><rect x="157.95" y="56.28" width="3.13" height="8.74" fill="#fff700"/><rect x="160.38" y="56.28" width="3.13" height="8.74" fill="#ff0800"/><rect x="162.81" y="56.28" width="3.13" height="8.74" fill="#b70000"/><rect x="165.24" y="56.28" width="5.56" height="8.74" fill="#e70000"/><rect x="170.10" y="56.28" width="5.56" height="8.74" fill="#b70000"/><rect x="174.96" y="56.28" width="5.56" height="8.74" fill="#e70000"/><rect x="179.82" y="56.28" width="3.13" height="8.74" fill="#f70000"/><rect x="182.25" y="56.28" width="3.13" height="8.74" fill="#d70000"/><rect x="184.68" y="56.28" width="3.13" height="8.74" fill="#e70000"/><rect x="187.11" y="56.28" width="15.28" height="8.74" fill="#b70000"/><rect x="201.69" y="56.28" width="3.13" height="8.74" fill="#c70000"/><rect x="204.12" y="56.28" width="7.99" height="8.74" fill="#b70000"/><rect x="211.41" y="56.28" width="3.13" height="8.74" fill="#c70000"/><rect x="213.84" y="56.28" width="5.56" height="8.74" fill="#b70000"/><rect x="218.70" y="56.28" width="5.56" height="8.74" fill="#c70000"/><rect x="223.56" y="56.28" width="3.13" height="8.74" fill="#b70000"/><rect x="225.99" y="56.28" width="3.13" height="8.74" fill="#c70000"/><rect x="228.42" y="56.28" width="10.42" height="8.74" fill="#b70000"/><rect x="238.14" y="56.28" width="5.56" height="8.74" fill="#c70000"/><rect x="0.00" y="64.32" width="5.56" height="8.74" fill="#0000c7"/><rect x="4.86" y="64.32" width="3.13" height="8.74" fill="#0000d7"/><rect x="7.29" y="64.32" width="3.13" height="8.74" fill="#0000b7"/><rect x="9.72" y="64.32" width="7.99" height="8.74" fill="#0000c7"/><rect x="17.01" y="64.32" width="3.13" height="8.74" fill="#0000d7"/><rect x="19.44" y="64.32" width="3.13" height="8.74" fill="#0000c7"/><rect x="21.87" y="64.32" width="3.13" height="8.74" fill="#0000d7"/><rect x="24.30" y="64.32" width="3.13" height="8.74" fill="#0000c7"/><rect x="26.73" y="64.32" width="3.13" height="8.74" fill="#0000b7"/><rect x="29.16" y="64.32" width="7.99" height="8.74" fill="#0000c7"/><rect x="36.45" y="64.32" width="3.13" height="8.74" fill="#0000f7"/><rect x="38.88" y="64.32" width="3.13" height="8.74" fill="#0000d7"/><rect x="41.31" y="64.32" width="5.56" height="8.74" fill="#0000c7"/><rect x="46.17" y="64.32" width="5.56" height="8.74" fill="#0000b7"/><rect x="51.03" y="64.32" width="3.13" height="8.74" fill="#0000f7"/><rect x="53.46" y="64.32" width="3.13" height="8.74" fill="#0000d7"/><rect x="55.89" y="64.32" width="3.13" height="8.74" fill="#0000b7"/><rect x="58.32" y="64.32" width="7.99" height="8.74" fill="#0000e7"/><rect x="65.61" y="64.32" width="3.13" height="8.74" fill="#0000d7"/><rect x="68.04" y="64.32" width="3.13" height="8.74" fill="#0000c7"/><rect x="70.47" y="64.32" width="3.13" height="8.74" fill="#0000b7"/><rect x="72.90" y="64.32" width="5.56" height="8.74" fill="#0000c7"/><rect x="77.76" y="64.32" width="3.13" height="8.74" fill="#0000b7"/><rect x="80.19" y="64.32" width="5.56" height="8.74" fill="#0000c7"/><rect x="85.05" y="64.32" width="5.56" height="8.74" fill="#0000e7"/><rect x="89.91" y="64.32" width="3.13" height="8.74" fill="#0000c7"/><rect x="92.34" y="64.32" width="7.99" height="8.74" fill="#0000b7"/><rect x="99.63" y="64.32" width="3.13" height="8.74" fill="#0000c7"/><rect x="102.06" y="64.32" width="3.13" height="8.74" fill="#0000e7"/><rect x="104.49" y="64.32" width="7.99" height="8.74" fill="#0000c7"/><rect x="111.78" y="64.32" width="3.13" height="8.74" fill="#0000f7"/><rect x="114.21" y="64.32" width="3.13" height="8.74" fill="#0000c7"/><rect x="116.64" y="64.32" width="3.13" height="8.74" fill="#0000f7"/><rect x="119.07" y="64.32" width="3.13" height="8.74" fill="#0000d7"/><rect x="121.50" y="64.32" width="3.13" height="8.74" fill="#08fff7"/><rect x="123.93" y="64.32" width="3.13" height="8.74" fill="#0038ff"/><rect x="126.36" y="64.32" width="3.13" height="8.74" fill="#0097ff"/><rect x="128.79" y="64.32" width="5.56" height="8.74" fill="#87ff78"/><rect x="133.65" y="64.32" width="3.13" height="8.74" fill="#58ffa7"/><rect x="136.08" y="64.32" width="3.13" height="8.74" fill="#87ff78"/><rect x="138.51" y="64.32" width="3.13" height="8.74" fill="#c7ff38"/><rect x="140.94" y="64.32" width="5.56" height="8.74" fill="#fff700"/><rect x="145.80" y="64.32" width="3.13" height="8.74" fill="#ffb700"/><rect x="148.23" y="64.32" width="10.42" height="8.74" fill="#fff700"/><rect x="157.95" y="64.32" width="5.56" height="8.74" fill="#b70000"/><rect x="162.81" y="64.32" width="3.13" height="8.74" fill="#c70000"/><rect x="165.24" y="64.32" width="7.99" height="8.74" fill="#b70000"/><rect x="172.53" y="64.32" width="3.13" height="8.74" fill="#e70000"/><rect x="174.96" y="64.32" width="3.13" height="8.74" fill="#f70000"/><rect x="177.39" y="64.32" width="3.13" height="8.74" fill="#e70000"/><rect x="179.82" y="64.32" width="3.13" height="8.74" fill="#b70000"/><rect x="182.25" y="64.32" width="3.13" height="8.74" fill="#c70000"/><rect x="184.68" y="64.32" width="12.85" height="8.74" fill="#b70000"/><rect x="196.83" y="64.32" width="5.56" height="8.74" fill="#c70000"/><rect x="201.69" y="64.32" width="7.99" height="8.74" fill="#b70000"/><rect x="208.98" y="64.32" width="3.13" height="8.74" fill="#c70000"/><rect x="211.41" y="64.32" width="7.99" height="8.74" fill="#b70000"/><rect x="218.70" y="64.32" width="10.42" height="8.74" fill="#c70000"/><rect x="228.42" y="64.32" width="15.28" height="8.74" fill="#b70000"/><rect x="0.00" y="72.36" width="10.42" height="8.74" fill="#0000c7"/><rect x="9.72" y="72.36" width="3.13" height="8.74" fill="#0000e7"/><rect x="12.15" y="72.36" width="3.13" height="8.74" fill="#0000d7"/><rect x="14.58" y="72.36" width="7.99" height="8.74" fill="#0000b7"/><rect x="21.87" y="72.36" width="3.13" height="8.74" fill="#0000c7"/><rect x="24.30" y="72.36" width="3.13" height="8.74" fill="#0000e7"/><rect x="26.73" y="72.36" width="3.13" height="8.74" fill="#0000c7"/><rect x="29.16" y="72.36" width="3.13" height="8.74" fill="#0000f7"/><rect x="31.59" y="72.36" width="7.99" height="8.74" fill="#0000c7"/><rect x="38.88" y="72.36" width="3.13" height="8.74" fill="#0000b7"/><rect x="41.31" y="72.36" width="7.99" height="8.74" fill="#0000c7"/><rect x="48.60" y="72.36" width="3.13" height="8.74" fill="#0000b7"/><rect x="51.03" y="72.36" width="3.13" height="8.74" fill="#0000d7"/><rect x="53.46" y="72.36" width="3.13" height="8.74" fill="#0000f7"/><rect x="55.89" y="72.36" width="5.56" height="8.74" fill="#0000b7"/><rect x="60.75" y="72.36" width="3.13" height="8.74" fill="#0000f7"/><rect x="63.18" y="72.36" width="17.71" height="8.74" fill="#0000c7"/><rect x="80.19" y="72.36" width="3.13" height="8.74" fill="#0000e7"/><rect x="82.62" y="72.36" width="3.13" height="8.74" fill="#0000f7"/><rect x="85.05" y="72.36" width="7.99" height="8.74" fill="#0000c7"/><rect x="92.34" y="72.36" width="3.13" height="8.74" fill="#0000d7"/><rect x="94.77" y="72.36" width="5.56" height="8.74" fill="#0000c7"/><rect x="99.63" y="72.36" width="7.99" height="8.74" fill="#0000b7"/><rect x="106.92" y="72.36" width="15.28" height="8.74" fill="#0000c7"/><rect x="121.50" y="72.36" width="3.13" height="8.74" fill="#0000e7"/><rect x="123.93" y="72.36" width="3.13" height="8.74" fill="#58ffa7"/><rect x="126.36" y="72.36" width="3.13" height="8.74" fill="#87ff78"/><rect x="128.79" y="72.36" width="3.13" height="8.74" fill="#c7ff38"/><rect x="131.22" y="72.36" width="3.13" height="8.74" fill="#87ff78"/><rect x="133.65" y="72.36" width="5.56" height="8.74" fill="#fff700"/><rect x="138.51" y="72.36" width="3.13" height="8.74" fill="#c7ff38"/><rect x="140.94" y="72.36" width="3.13" height="8.74" fill="#fff700"/><rect x="143.37" y="72.36" width="5.56" height="8.74" fill="#ffb700"/><rect x="148.23" y="72.36" width="3.13" height="8.74" fill="#ff5800"/><rect x="150.66" y="72.36" width="10.42" height="8.74" fill="#b70000"/><rect x="160.38" y="72.36" width="5.56" height="8.74" fill="#f70000"/><rect x="165.24" y="72.36" width="3.13" height="8.74" fill="#b70000"/><rect x="167.67" y="72.36" width="3.13" height="8.74" fill="#f70000"/><rect x="170.10" y="72.36" width="3.13" height="8.74" fill="#b70000"/><rect x="172.53" y="72.36" width="3.13" height="8.74" fill="#d70000"/><rect x="174.96" y="72.36" width="7.99" height="8.74" fill="#b70000"/><rect x="182.25" y="72.36" width="3.13" height="8.74" fill="#c70000"/><rect x="184.68" y="72.36" width="5.56" height="8.74" fill="#b70000"/><rect x="189.54" y="72.36" width="3.13" height="8.74" fill="#c70000"/><rect x="191.97" y="72.36" width="5.56" height="8.74" fill="#b70000"/><rect x="196.83" y="72.36" width="3.13" height="8.74" fill="#c70000"/><rect x="199.26" y="72.36" width="7.99" height="8.74" fill="#b70000"/><rect x="206.55" y="72.36" width="5.56" height="8.74" fill="#c70000"/><rect x="211.41" y="72.36" width="7.99" height="8.74" fill="#b70000"/><rect x="218.70" y="72.36" width="3.13" height="8.74" fill="#c70000"/><rect x="221.13" y="72.36" width="5.56" height="8.74" fill="#b70000"/><rect x="225.99" y="72.36" width="3.13" height="8.74" fill="#c70000"/><rect x="228.42" y="72.36" width="15.28" height="8.74" fill="#b70000"/><rect x="0.00" y="80.40" width="5.56" height="8.74" fill="#0000b7"/><rect x="4.86" y="80.40" width="5.56" height="8.74" fill="#0000c7"/><rect x="9.72" y="80.40" width="3.13" height="8.74" fill="#0000e7"/><rect x="12.15" y="80.40" width="3.13" height="8.74" fill="#0000f7"/><rect x="14.58" y="80.40" width="3.13" height="8.74" fill="#0000e7"/><rect x="17.01" y="80.40" width="3.13" height="8.74" fill="#0000c7"/><rect x="19.44" y="80.40" width="3.13" height="8.74" fill="#0000e7"/><rect x="21.87" y="80.40" width="3.13" height="8.74" fill="#0000b7"/><rect x="24.30" y="80.40" width="3.13" height="8.74" fill="#0000c7"/><rect x="26.73" y="80.40" width="3.13" height="8.74" fill="#0000b7"/><rect x="29.16" y="80.40" width="3.13" height="8.74" fill="#0000e7"/><rect x="31.59" y="80.40" width="3.13" height="8.74" fill="#0000c7"/><rect x="34.02" y="80.40" width="3.13" height="8.74" fill="#0000d7"/><rect x="36.45" y="80.40" width="3.13" height="8.74" fill="#0000b7"/><rect x="38.88" y="80.40" width="3.13" height="8.74" fill="#0000e7"/><rect x="41.31" y="80.40" width="3.13" height="8.74" fill="#0000b7"/><rect x="43.74" y="80.40" width="3.13" height="8.74" fill="#0000c7"/><rect x="46.17" y="80.40" width="7.99" height="8.74" fill="#0000d7"/><rect x="53.46" y="80.40" width="3.13" height="8.74" fill="#0000b7"/><rect x="55.89" y="80.40" width="3.13" height="8.74" fill="#0000f7"/><rect x="58.32" y="80.40" width="3.13" height="8.74" fill="#0000c7"/><rect x="60.75" y="80.40" width="3.13" height="8.74" fill="#0000d7"/><rect x="63.18" y="80.40" width="3.13" height="8.74" fill="#0000c7"/><rect x="65.61" y="80.40" width="3.13" height="8.74" fill="#0000b7"/><rect x="68.04" y="80.40" width="3.13" height="8.74" fill="#0000f7"/><rect x="70.47" y="80.40" width="3.13" height="8.74" fill="#0000d7"/><rect x="72.90" y="80.40" width="3.13" height="8.74" fill="#0000b7"/><rect x="75.33" y="80.40" width="3.13" height="8.74" fill="#0000c7"/><rect x="77.76" y="80.40" width="5.56" height="8.74" fill="#0000e7"/><rect x="82.62" y="80.40" width="5.56" height="8.74" fill="#0000c7"/><rect x="87.48" y="80.40" width="3.13" height="8.74" fill="#0000b7"/><rect x="89.91" y="80.40" width="7.99" height="8.74" fill="#0000c7"/><rect x="97.20" y="80.40" width="3.13" height="8.74" fill="#0000f7"/><rect x="99.63" y="80.40" width="3.13" height="8.74" fill="#0000d7"/><rect x="102.06" y="80.40" width="5.56" height="8.74" fill="#0000b7"/><rect x="106.92" y="80.40" width="5.56" height="8.74" fill="#0000c7"/><rect x="111.78" y="80.40" width="3.13" height="8.74" fill="#0000d7"/><rect x="114.21" y="80.40" width="3.13" height="8.74" fill="#0000e7"/><rect x="116.64" y="80.40" width="3.13" height="8.74" fill="#0000c7"/><rect x="119.07" y="80.40" width="3.13" height="8.74" fill="#08fff7"/><rect x="121.50" y="80.40" width="3.13" height="8.74" fill="#87ff78"/><rect x="123.93" y="80.40" width="5.56" height="8.74" fill="#c7ff38"/><rect x="128.79" y="80.40" width="10.42" height="8.74" fill="#fff700"/><rect x="138.51" y="80.40" width="5.56" height="8.74" fill="#ffb700"/><rect x="143.37" y="80.40" width="5.56" height="8.74" fill="#ff0800"/><rect x="148.23" y="80.40" width="3.13" height="8.74" fill="#ffb700"/><rect x="150.66" y="80.40" width="3.13" height="8.74" fill="#c70000"/><rect x="153.09" y="80.40" width="3.13" height="8.74" fill="#b70000"/><rect x="155.52" y="80.40" width="3.13" height="8.74" fill="#c70000"/><rect x="157.95" y="80.40" width="3.13" height="8.74" fill="#b70000"/><rect x="160.38" y="80.40" width="3.13" height="8.74" fill="#c70000"/><rect x="162.81" y="80.40" width="3.13" height="8.74" fill="#d70000"/><rect x="165.24" y="80.40" width="3.13" height="8.74" fill="#b70000"/><rect x="167.67" y="80.40" width="10.42" height="8.74" fill="#c70000"/><rect x="177.39" y="80.40" width="5.56" height="8.74" fill="#b70000"/><rect x="182.25" y="80.40" width="3.13" height="8.74" fill="#c70000"/><rect x="184.68" y="80.40" width="3.13" height="8.74" fill="#b70000"/><rect x="187.11" y="80.40" width="7.99" height="8.74" fill="#c70000"/><rect x="194.40" y="80.40" width="10.42" height="8.74" fill="#b70000"/><rect x="204.12" y="80.40" width="5.56" height="8.74" fill="#c70000"/><rect x="208.98" y="80.40" width="3.13" height="8.74" fill="#b70000"/><rect x="211.41" y="80.40" width="3.13" height="8.74" fill="#c70000"/><rect x="213.84" y="80.40" width="3.13" height="8.74" fill="#b70000"/><rect x="216.27" y="80.40" width="3.13" height="8.74" fill="#c70000"/><rect x="218.70" y="80.40" width="3.13" height="8.74" fill="#b70000"/><rect x="221.13" y="80.40" width="3.13" height="8.74" fill="#c70000"/><rect x="223.56" y="80.40" width="5.56" height="8.74" fill="#b70000"/><rect x="228.42" y="80.40" width="5.56" height="8.74" fill="#c70000"/><rect x="233.28" y="80.40" width="5.56" height="8.74" fill="#b70000"/><rect x="238.14" y="80.40" width="3.13" height="8.74" fill="#c70000"/><rect x="240.57" y="80.40" width="3.13" height="8.74" fill="#b70000"/><rect x="0.00" y="88.44" width="3.13" height="8.74" fill="#0000d7"/><rect x="2.43" y="88.44" width="3.13" height="8.74" fill="#0000c7"/><rect x="4.86" y="88.44" width="3.13" height="8.74" fill="#0000b7"/><rect x="7.29" y="88.44" width="3.13" height="8.74" fill="#0000c7"/><rect x="9.72" y="88.44" width="3.13" height="8.74" fill="#0000f7"/><rect x="12.15" y="88.44" width="3.13" height="8.74" fill="#0000c7"/><rect x="14.58" y="88.44" width="3.13" height="8.74" fill="#0000b7"/><rect x="17.01" y="88.44" width="3.13" height="8.74" fill="#0000c7"/><rect x="19.44" y="88.44" width="5.56" height="8.74" fill="#0000b7"/><rect x="24.30" y="88.44" width="3.13" height="8.74" fill="#0000c7"/><rect x="26.73" y="88.44" width="3.13" height="8.74" fill="#0000d7"/><rect x="29.16" y="88.44" width="5.56" height="8.74" fill="#0000c7"/><rect x="34.02" y="88.44" width="3.13" height="8.74" fill="#0000b7"/><rect x="36.45" y="88.44" width="7.99" height="8.74" fill="#0000c7"/><rect x="43.74" y="88.44" width="3.13" height="8.74" fill="#0000b7"/><rect x="46.17" y="88.44" width="5.56" height="8.74" fill="#0000c7"/><rect x="51.03" y="88.44" width="3.13" height="8.74" fill="#0000e7"/><rect x="53.46" y="88.44" width="3.13" height="8.74" fill="#0000c7"/><rect x="55.89" y="88.44" width="3.13" height="8.74" fill="#0000d7"/><rect x="58.32" y="88.44" width="3.13" height="8.74" fill="#0000c7"/><rect x="60.75" y="88.44" width="3.13" height="8.74" fill="#0000e7"/><rect x="63.18" y="88.44" width="3.13" height="8.74" fill="#0000d7"/><rect x="65.61" y="88.44" width="3.13" height="8.74" fill="#0000c7"/><rect x="68.04" y="88.44" width="3.13" height="8.74" fill="#0000e7"/><rect x="70.47" y="88.44" width="5.56" height="8.74" fill="#0000b7"/><rect x="75.33" y="88.44" width="3.13" height="8.74" fill="#0000e7"/><rect x="77.76" y="88.44" width="3.13" height="8.74" fill="#0000d7"/><rect x="80.19" y="88.44" width="7.99" height="8.74" fill="#0000c7"/><rect x="87.48" y="88.44" width="3.13" height="8.74" fill="#0000e7"/><rect x="89.91" y="88.44" width="3.13" height="8.74" fill="#0000b7"/><rect x="92.34" y="88.44" width="10.42" height="8.74" fill="#0000c7"/><rect x="102.06" y="88.44" width="3.13" height="8.74" fill="#0000b7"/><rect x="104.49" y="88.44" width="3.13" height="8.74" fill="#0000c7"/><rect x="106.92" y="88.44" width="3.13" height="8.74" fill="#0000d7"/><rect x="109.35" y="88.44" width="3.13" height="8.74" fill="#0000c7"/><rect x="111.78" y="88.44" width="3.13" height="8.74" fill="#0000d7"/><rect x="114.21" y="88.44" width="5.56" height="8.74" fill="#0000c7"/><rect x="119.07" y="88.44" width="3.13" height="8.74" fill="#58ffa7"/><rect x="121.50" y="88.44" width="3.13" height="8.74" fill="#87ff78"/><rect x="123.93" y="88.44" width="3.13" height="8.74" fill="#c7ff38"/><rect x="126.36" y="88.44" width="5.56" height="8.74" fill="#fff700"/><rect x="131.22" y="88.44" width="5.56" height="8.74" fill="#ffb700"/><rect x="136.08" y="88.44" width="3.13" height="8.74" fill="#ff5800"/><rect x="138.51" y="88.44" width="3.13" height="8.74" fill="#ffb700"/><rect x="140.94" y="88.44" width="3.13" height="8.74" fill="#ff5800"/><rect x="143.37" y="88.44" width="5.56" height="8.74" fill="#ff0800"/><rect x="148.23" y="88.44" width="3.13" height="8.74" fill="#c70000"/><rect x="150.66" y="88.44" width="7.99" height="8.74" fill="#b70000"/><rect x="157.95" y="88.44" width="3.13" height="8.74" fill="#c70000"/><rect x="160.38" y="88.44" width="3.13" height="8.74" fill="#b70000"/><rect x="162.81" y="88.44" width="3.13" height="8.74" fill="#c70000"/><rect x="165.24" y="88.44" width="3.13" height="8.74" fill="#b70000"/><rect x="167.67" y="88.44" width="3.13" height="8.74" fill="#e70000"/><rect x="170.10" y="88.44" width="5.56" height="8.74" fill="#c70000"/><rect x="174.96" y="88.44" width="10.42" height="8.74" fill="#b70000"/><rect x="184.68" y="88.44" width="3.13" height="8.74" fill="#c70000"/><rect x="187.11" y="88.44" width="5.56" height="8.74" fill="#b70000"/><rect x="191.97" y="88.44" width="3.13" height="8.74" fill="#c70000"/><rect x="194.40" y="88.44" width="15.28" height="8.74" fill="#b70000"/><rect x="208.98" y="88.44" width="17.71" height="8.74" fill="#c70000"/><rect x="225.99" y="88.44" width="3.13" height="8.74" fill="#b70000"/><rect x="228.42" y="88.44" width="5.56" height="8.74" fill="#c70000"/><rect x="233.28" y="88.44" width="7.99" height="8.74" fill="#b70000"/><rect x="240.57" y="88.44" width="3.13" height="8.74" fill="#c70000"/><rect x="0.00" y="96.48" width="5.56" height="8.74" fill="#0000c7"/><rect x="4.86" y="96.48" width="3.13" height="8.74" fill="#0000d7"/><rect x="7.29" y="96.48" width="3.13" height="8.74" fill="#0000c7"/><rect x="9.72" y="96.48" width="3.13" height="8.74" fill="#0000d7"/><rect x="12.15" y="96.48" width="3.13" height="8.74" fill="#0000c7"/><rect x="14.58" y="96.48" width="3.13" height="8.74" fill="#0000d7"/><rect x="17.01" y="96.48" width="7.99" height="8.74" fill="#0000c7"/><rect x="24.30" y="96.48" width="3.13" height="8.74" fill="#0000e7"/><rect x="26.73" y="96.48" width="5.56" height="8.74" fill="#0000c7"/><rect x="31.59" y="96.48" width="3.13" height="8.74" fill="#0000b7"/><rect x="34.02" y="96.48" width="3.13" height="8.74" fill="#0000d7"/><rect x="36.45" y="96.48" width="7.99" height="8.74" fill="#0000c7"/><rect x="43.74" y="96.48" width="5.56" height="8.74" fill="#0000e7"/><rect x="48.60" y="96.48" width="12.85" height="8.74" fill="#0000d7"/><rect x="60.75" y="96.48" width="7.99" height="8.74" fill="#0000c7"/><rect x="68.04" y="96.48" width="3.13" height="8.74" fill="#0000d7"/><rect x="70.47" y="96.48" width="3.13" height="8.74" fill="#0000c7"/><rect x="72.90" y="96.48" width="3.13" height="8.74" fill="#0000d7"/><rect x="75.33" y="96.48" width="3.13" height="8.74" fill="#0000e7"/><rect x="77.76" y="96.48" width="3.13" height="8.74" fill="#0000d7"/><rect x="80.19" y="96.48" width="5.56" height="8.74" fill="#0000c7"/><rect x="85.05" y="96.48" width="3.13" height="8.74" fill="#0000d7"/><rect x="87.48" y="96.48" width="5.56" height="8.74" fill="#0000c7"/><rect x="92.34" y="96.48" width="3.13" height="8.74" fill="#0000d7"/><rect x="94.77" y="96.48" width="5.56" height="8.74" fill="#0000c7"/><rect x="99.63" y="96.48" width="3.13" height="8.74" fill="#0000d7"/><rect x="102.06" y="96.48" width="7.99" height="8.74" fill="#0000c7"/><rect x="109.35" y="96.48" width="3.13" height="8.74" fill="#0000e7"/><rect x="111.78" y="96.48" width="3.13" height="8.74" fill="#0000c7"/><rect x="114.21" y="96.48" width="3.13" height="8.74" fill="#0000d7"/><rect x="116.64" y="96.48" width="3.13" height="8.74" fill="#58ffa7"/><rect x="119.07" y="96.48" width="3.13" height="8.74" fill="#08fff7"/><rect x="121.50" y="96.48" width="3.13" height="8.74" fill="#fff700"/><rect x="123.93" y="96.48" width="3.13" height="8.74" fill="#c7ff38"/><rect x="126.36" y="96.48" width="5.56" height="8.74" fill="#fff700"/><rect x="131.22" y="96.48" width="5.56" height="8.74" fill="#ffb700"/><rect x="136.08" y="96.48" width="3.13" height="8.74" fill="#ff5800"/><rect x="138.51" y="96.48" width="3.13" height="8.74" fill="#c70000"/><rect x="140.94" y="96.48" width="3.13" height="8.74" fill="#f70000"/><rect x="143.37" y="96.48" width="7.99" height="8.74" fill="#c70000"/><rect x="150.66" y="96.48" width="5.56" height="8.74" fill="#b70000"/><rect x="155.52" y="96.48" width="3.13" height="8.74" fill="#d70000"/><rect x="157.95" y="96.48" width="5.56" height="8.74" fill="#b70000"/><rect x="162.81" y="96.48" width="3.13" height="8.74" fill="#c70000"/><rect x="165.24" y="96.48" width="32.29" height="8.74" fill="#b70000"/><rect x="196.83" y="96.48" width="5.56" height="8.74" fill="#c70000"/><rect x="201.69" y="96.48" width="7.99" height="8.74" fill="#b70000"/><rect x="208.98" y="96.48" width="3.13" height="8.74" fill="#c70000"/><rect x="211.41" y="96.48" width="15.28" height="8.74" fill="#b70000"/><rect x="225.99" y="96.48" width="5.56" height="8.74" fill="#c70000"/><rect x="230.85" y="96.48" width="5.56" height="8.74" fill="#b70000"/><rect x="235.71" y="96.48" width="5.56" height="8.74" fill="#c70000"/><rect x="240.57" y="96.48" width="3.13" height="8.74" fill="#b70000"/><rect x="0.00" y="104.52" width="3.13" height="8.74" fill="#0000c7"/><rect x="2.43" y="104.52" width="3.13" height="8.74" fill="#0000d7"/><rect x="4.86" y="104.52" width="3.13" height="8.74" fill="#0000b7"/><rect x="7.29" y="104.52" width="3.13" height="8.74" fill="#0000d7"/><rect x="9.72" y="104.52" width="5.56" height="8.74" fill="#0000e7"/><rect x="14.58" y="104.52" width="3.13" height="8.74" fill="#0000d7"/><rect x="17.01" y="104.52" width="12.85" height="8.74" fill="#0000c7"/><rect x="29.16" y="104.52" width="3.13" height="8.74" fill="#0000e7"/><rect x="31.59" y="104.52" width="7.99" height="8.74" fill="#0000c7"/><rect x="38.88" y="104.52" width="3.13" height="8.74" fill="#0000d7"/><rect x="41.31" y="104.52" width="5.56" height="8.74" fill="#0000c7"/><rect x="46.17" y="104.52" width="3.13" height="8.74" fill="#0000b7"/><rect x="48.60" y="104.52" width="3.13" height="8.74" fill="#0000d7"/><rect x="51.03" y="104.52" width="3.13" height="8.74" fill="#0000c7"/><rect x="53.46" y="104.52" width="3.13" height="8.74" fill="#0000e7"/><rect x="55.89" y="104.52" width="7.99" height="8.74" fill="#0000d7"/><rect x="63.18" y="104.52" width="3.13" height="8.74" fill="#0000b7"/><rect x="65.61" y="104.52" width="5.56" height="8.74" fill="#0000d7"/><rect x="70.47" y="104.52" width="3.13" height="8.74" fill="#0000c7"/><rect x="72.90" y="104.52" width="5.56" height="8.74" fill="#0000d7"/><rect x="77.76" y="104.52" width="5.56" height="8.74" fill="#0000c7"/><rect x="82.62" y="104.52" width="5.56" height="8.74" fill="#0000d7"/><rect x="87.48" y="104.52" width="15.28" height="8.74" fill="#0000c7"/><rect x="102.06" y="104.52" width="3.13" height="8.74" fill="#0000d7"/><rect x="104.49" y="104.52" width="3.13" height="8.74" fill="#0000c7"/><rect x="106.92" y="104.52" width="3.13" height="8.74" fill="#0038ff"/><rect x="109.35" y="104.52" width="3.13" height="8.74" fill="#0097ff"/><rect x="111.78" y="104.52" width="3.13" height="8.74" fill="#ffb700"/><rect x="114.21" y="104.52" width="3.13" height="8.74" fill="#fff700"/><rect x="116.64" y="104.52" width="3.13" height="8.74" fill="#ffb700"/><rect x="119.07" y="104.52" width="3.13" height="8.74" fill="#ff5800"/><rect x="121.50" y="104.52" width="3.13" height="8.74" fill="#ff0800"/><rect x="123.93" y="104.52" width="3.13" height="8.74" fill="#ff5800"/><rect x="126.36" y="104.52" width="3.13" height="8.74" fill="#ffb700"/><rect x="128.79" y="104.52" width="3.13" height="8.74" fill="#ff0800"/><rect x="131.22" y="104.52" width="7.99" height="8.74" fill="#f70000"/><rect x="138.51" y="104.52" width="5.56" height="8.74" fill="#c70000"/><rect x="143.37" y="104.52" width="3.13" height="8.74" fill="#b70000"/><rect x="145.80" y="104.52" width="3.13" height="8.74" fill="#c70000"/><rect x="148.23" y="104.52" width="3.13" height="8.74" fill="#b70000"/><rect x="150.66" y="104.52" width="5.56" height="8.74" fill="#e70000"/><rect x="155.52" y="104.52" width="22.57" height="8.74" fill="#b70000"/><rect x="177.39" y="104.52" width="3.13" height="8.74" fill="#c70000"/><rect x="179.82" y="104.52" width="5.56" height="8.74" fill="#b70000"/><rect x="184.68" y="104.52" width="3.13" height="8.74" fill="#c70000"/><rect x="187.11" y="104.52" width="7.99" height="8.74" fill="#b70000"/><rect x="194.40" y="104.52" width="3.13" height="8.74" fill="#c70000"/><rect x="196.83" y="104.52" width="3.13" height="8.74" fill="#b70000"/><rect x="199.26" y="104.52" width="5.56" height="8.74" fill="#c70000"/><rect x="204.12" y="104.52" width="7.99" height="8.74" fill="#b70000"/><rect x="211.41" y="104.52" width="5.56" height="8.74" fill="#c70000"/><rect x="216.27" y="104.52" width="3.13" height="8.74" fill="#b70000"/><rect x="218.70" y="104.52" width="3.13" height="8.74" fill="#c70000"/><rect x="221.13" y="104.52" width="7.99" height="8.74" fill="#b70000"/><rect x="228.42" y="104.52" width="3.13" height="8.74" fill="#c70000"/><rect x="230.85" y="104.52" width="3.13" height="8.74" fill="#b70000"/><rect x="233.28" y="104.52" width="5.56" height="8.74" fill="#c70000"/><rect x="238.14" y="104.52" width="5.56" height="8.74" fill="#b70000"/><rect x="0.00" y="112.56" width="5.56" height="8.74" fill="#0000c7"/><rect x="4.86" y="112.56" width="5.56" height="8.74" fill="#0000d7"/><rect x="9.72" y="112.56" width="3.13" height="8.74" fill="#0000c7"/><rect x="12.15" y="112.56" width="3.13" height="8.74" fill="#0000d7"/><rect x="14.58" y="112.56" width="3.13" height="8.74" fill="#0000b7"/><rect x="17.01" y="112.56" width="22.57" height="8.74" fill="#0000c7"/><rect x="38.88" y="112.56" width="3.13" height="8.74" fill="#0000d7"/><rect x="41.31" y="112.56" width="5.56" height="8.74" fill="#0000c7"/><rect x="46.17" y="112.56" width="3.13" height="8.74" fill="#0000d7"/><rect x="48.60" y="112.56" width="5.56" height="8.74" fill="#0000f7"/><rect x="53.46" y="112.56" width="5.56" height="8.74" fill="#0000e7"/><rect x="58.32" y="112.56" width="3.13" height="8.74" fill="#0000c7"/><rect x="60.75" y="112.56" width="3.13" height="8.74" fill="#0000f7"/><rect x="63.18" y="112.56" width="5.56" height="8.74" fill="#0000d7"/><rect x="68.04" y="112.56" width="3.13" height="8.74" fill="#0000c7"/><rect x="70.47" y="112.56" width="3.13" height="8.74" fill="#0000d7"/><rect x="72.90" y="112.56" width="3.13" height="8.74" fill="#0000c7"/><rect x="75.33" y="112.56" width="12.85" height="8.74" fill="#0000d7"/><rect x="87.48" y="112.56" width="3.13" height="8.74" fill="#0000c7"/><rect x="89.91" y="112.56" width="3.13" height="8.74" fill="#0000d7"/><rect x="92.34" y="112.56" width="3.13" height="8.74" fill="#0000c7"/><rect x="94.77" y="112.56" width="3.13" height="8.74" fill="#0000d7"/><rect x="97.20" y="112.56" width="10.42" height="8.74" fill="#0000c7"/><rect x="106.92" y="112.56" width="3.13" height="8.74" fill="#fff700"/><rect x="109.35" y="112.56" width="3.13" height="8.74" fill="#ffb700"/><rect x="111.78" y="112.56" width="3.13" height="8.74" fill="#ff5800"/><rect x="114.21" y="112.56" width="3.13" height="8.74" fill="#fff700"/><rect x="116.64" y="112.56" width="5.56" height="8.74" fill="#ffb700"/><rect x="121.50" y="112.56" width="3.13" height="8.74" fill="#ff5800"/><rect x="123.93" y="112.56" width="3.13" height="8.74" fill="#ffb700"/><rect x="126.36" y="112.56" width="3.13" height="8.74" fill="#ff0800"/><rect x="128.79" y="112.56" width="3.13" height="8.74" fill="#b70000"/><rect x="131.22" y="112.56" width="3.13" height="8.74" fill="#d70000"/><rect x="133.65" y="112.56" width="3.13" height="8.74" fill="#b70000"/><rect x="136.08" y="112.56" width="3.13" height="8.74" fill="#d70000"/><rect x="138.51" y="112.56" width="3.13" height="8.74" fill="#c70000"/><rect x="140.94" y="112.56" width="5.56" height="8.74" fill="#b70000"/><rect x="145.80" y="112.56" width="3.13" height="8.74" fill="#c70000"/><rect x="148.23" y="112.56" width="5.56" height="8.74" fill="#b70000"/><rect x="153.09" y="112.56" width="5.56" height="8.74" fill="#c70000"/><rect x="157.95" y="112.56" width="3.13" height="8.74" fill="#b70000"/><rect x="160.38" y="112.56" width="10.42" height="8.74" fill="#c70000"/><rect x="170.10" y="112.56" width="5.56" height="8.74" fill="#b70000"/><rect x="174.96" y="112.56" width="3.13" height="8.74" fill="#c70000"/><rect x="177.39" y="112.56" width="7.99" height="8.74" fill="#b70000"/><rect x="184.68" y="112.56" width="7.99" height="8.74" fill="#c70000"/><rect x="191.97" y="112.56" width="5.56" height="8.74" fill="#b70000"/><rect x="196.83" y="112.56" width="3.13" height="8.74" fill="#c70000"/><rect x="199.26" y="112.56" width="7.99" height="8.74" fill="#b70000"/><rect x="206.55" y="112.56" width="3.13" height="8.74" fill="#c70000"/><rect x="208.98" y="112.56" width="5.56" height="8.74" fill="#b70000"/><rect x="213.84" y="112.56" width="3.13" height="8.74" fill="#c70000"/><rect x="216.27" y="112.56" width="3.13" height="8.74" fill="#b70000"/><rect x="218.70" y="112.56" width="3.13" height="8.74" fill="#c70000"/><rect x="221.13" y="112.56" width="12.85" height="8.74" fill="#b70000"/><rect x="233.28" y="112.56" width="10.42" height="8.74" fill="#c70000"/><rect x="0.00" y="120.60" width="3.13" height="8.74" fill="#0000d7"/><rect x="2.43" y="120.60" width="3.13" height="8.74" fill="#0000c7"/><rect x="4.86" y="120.60" width="5.56" height="8.74" fill="#0000d7"/><rect x="9.72" y="120.60" width="5.56" height="8.74" fill="#0000c7"/><rect x="14.58" y="120.60" width="3.13" height="8.74" fill="#0000f7"/><rect x="17.01" y="120.60" width="3.13" height="8.74" fill="#0000d7"/><rect x="19.44" y="120.60" width="3.13" height="8.74" fill="#0008ff"/><rect x="21.87" y="120.60" width="3.13" height="8.74" fill="#0000d7"/><rect x="24.30" y="120.60" width="3.13" height="8.74" fill="#0000f7"/><rect x="26.73" y="120.60" width="5.56" height="8.74" fill="#0000c7"/><rect x="31.59" y="120.60" width="3.13" height="8.74" fill="#0000d7"/><rect x="34.02" y="120.60" width="3.13" height="8.74" fill="#0000c7"/><rect x="36.45" y="120.60" width="3.13" height="8.74" fill="#0000e7"/><rect x="38.88" y="120.60" width="10.42" height="8.74" fill="#0000d7"/><rect x="48.60" y="120.60" width="3.13" height="8.74" fill="#0000c7"/><rect x="51.03" y="120.60" width="5.56" height="8.74" fill="#0000d7"/><rect x="55.89" y="120.60" width="3.13" height="8.74" fill="#0000f7"/><rect x="58.32" y="120.60" width="7.99" height="8.74" fill="#0000c7"/><rect x="65.61" y="120.60" width="7.99" height="8.74" fill="#0000d7"/><rect x="72.90" y="120.60" width="7.99" height="8.74" fill="#0000c7"/><rect x="80.19" y="120.60" width="12.85" height="8.74" fill="#0000d7"/><rect x="92.34" y="120.60" width="3.13" height="8.74" fill="#0000c7"/><rect x="94.77" y="120.60" width="5.56" height="8.74" fill="#0000d7"/><rect x="99.63" y="120.60" width="3.13" height="8.74" fill="#fff700"/><rect x="102.06" y="120.60" width="3.13" height="8.74" fill="#c7ff38"/><rect x="104.49" y="120.60" width="5.56" height="8.74" fill="#ff5800"/><rect x="109.35" y="120.60" width="3.13" height="8.74" fill="#0097ff"/><rect x="111.78" y="120.60" width="5.56" height="8.74" fill="#ff0800"/><rect x="116.64" y="120.60" width="3.13" height="8.74" fill="#ffb700"/><rect x="119.07" y="120.60" width="3.13" height="8.74" fill="#b70000"/><rect x="121.50" y="120.60" width="3.13" height="8.74" fill="#e70000"/><rect x="123.93" y="120.60" width="3.13" height="8.74" fill="#d70000"/><rect x="126.36" y="120.60" width="3.13" height="8.74" fill="#e70000"/><rect x="128.79" y="120.60" width="3.13" height="8.74" fill="#c70000"/><rect x="131.22" y="120.60" width="3.13" height="8.74" fill="#b70000"/><rect x="133.65" y="120.60" width="3.13" height="8.74" fill="#f70000"/><rect x="136.08" y="120.60" width="5.56" height="8.74" fill="#b70000"/><rect x="140.94" y="120.60" width="3.13" height="8.74" fill="#d70000"/><rect x="143.37" y="120.60" width="7.99" height="8.74" fill="#b70000"/><rect x="150.66" y="120.60" width="7.99" height="8.74" fill="#c70000"/><rect x="157.95" y="120.60" width="22.57" height="8.74" fill="#b70000"/><rect x="179.82" y="120.60" width="3.13" height="8.74" fill="#c70000"/><rect x="182.25" y="120.60" width="3.13" height="8.74" fill="#b70000"/><rect x="184.68" y="120.60" width="3.13" height="8.74" fill="#c70000"/><rect x="187.11" y="120.60" width="5.56" height="8.74" fill="#b70000"/><rect x="191.97" y="120.60" width="3.13" height="8.74" fill="#c70000"/><rect x="194.40" y="120.60" width="10.42" height="8.74" fill="#b70000"/><rect x="204.12" y="120.60" width="7.99" height="8.74" fill="#c70000"/><rect x="211.41" y="120.60" width="12.85" height="8.74" fill="#b70000"/><rect x="223.56" y="120.60" width="3.13" height="8.74" fill="#c70000"/><rect x="225.99" y="120.60" width="5.56" height="8.74" fill="#b70000"/><rect x="230.85" y="120.60" width="3.13" height="8.74" fill="#c70000"/><rect x="233.28" y="120.60" width="3.13" height="8.74" fill="#b70000"/><rect x="235.71" y="120.60" width="3.13" height="8.74" fill="#c70000"/><rect x="238.14" y="120.60" width="5.56" height="8.74" fill="#b70000"/><rect x="0.00" y="128.64" width="3.13" height="8.74" fill="#0000f7"/><rect x="2.43" y="128.64" width="3.13" height="8.74" fill="#0000c7"/><rect x="4.86" y="128.64" width="5.56" height="8.74" fill="#0000d7"/><rect x="9.72" y="128.64" width="3.13" height="8.74" fill="#0000e7"/><rect x="12.15" y="128.64" width="5.56" height="8.74" fill="#0000d7"/><rect x="17.01" y="128.64" width="5.56" height="8.74" fill="#0000e7"/><rect x="21.87" y="128.64" width="3.13" height="8.74" fill="#0000d7"/><rect x="24.30" y="128.64" width="5.56" height="8.74" fill="#0000e7"/><rect x="29.16" y="128.64" width="3.13" height="8.74" fill="#0000c7"/><rect x="31.59" y="128.64" width="5.56" height="8.74" fill="#0000d7"/><rect x="36.45" y="128.64" width="3.13" height="8.74" fill="#0000c7"/><rect x="38.88" y="128.64" width="3.13" height="8.74" fill="#0018ff"/><rect x="41.31" y="128.64" width="3.13" height="8.74" fill="#0000e7"/><rect x="43.74" y="128.64" width="3.13" height="8.74" fill="#0018ff"/><rect x="46.17" y="128.64" width="3.13" height="8.74" fill="#0000e7"/><rect x="48.60" y="128.64" width="3.13" height="8.74" fill="#0000d7"/><rect x="51.03" y="128.64" width="3.13" height="8.74" fill="#0000c7"/><rect x="53.46" y="128.64" width="3.13" height="8.74" fill="#0000e7"/><rect x="55.89" y="128.64" width="3.13" height="8.74" fill="#0000d7"/><rect x="58.32" y="128.64" width="3.13" height="8.74" fill="#0028ff"/><rect x="60.75" y="128.64" width="3.13" height="8.74" fill="#0000d7"/><rect x="63.18" y="128.64" width="7.99" height="8.74" fill="#0000e7"/><rect x="70.47" y="128.64" width="3.13" height="8.74" fill="#0008ff"/><rect x="72.90" y="128.64" width="3.13" height="8.74" fill="#0000d7"/><rect x="75.33" y="128.64" width="5.56" height="8.74" fill="#0000e7"/><rect x="80.19" y="128.64" width="3.13" height="8.74" fill="#0000d7"/><rect x="82.62" y="128.64" width="3.13" height="8.74" fill="#0000e7"/><rect x="85.05" y="128.64" width="3.13" height="8.74" fill="#0028ff"/><rect x="87.48" y="128.64" width="5.56" height="8.74" fill="#0000d7"/><rect x="92.34" y="128.64" width="3.13" height="8.74" fill="#0000f7"/><rect x="94.77" y="128.64" width="5.56" height="8.74" fill="#0000d7"/><rect x="99.63" y="128.64" width="3.13" height="8.74" fill="#ffb700"/><rect x="102.06" y="128.64" width="3.13" height="8.74" fill="#58ffa7"/><rect x="104.49" y="128.64" width="3.13" height="8.74" fill="#08fff7"/><rect x="106.92" y="128.64" width="5.56" height="8.74" fill="#e70000"/><rect x="111.78" y="128.64" width="3.13" height="8.74" fill="#b70000"/><rect x="114.21" y="128.64" width="3.13" height="8.74" fill="#e70000"/><rect x="116.64" y="128.64" width="3.13" height="8.74" fill="#d70000"/><rect x="119.07" y="128.64" width="3.13" height="8.74" fill="#b70000"/><rect x="121.50" y="128.64" width="5.56" height="8.74" fill="#e70000"/><rect x="126.36" y="128.64" width="3.13" height="8.74" fill="#b70000"/><rect x="128.79" y="128.64" width="3.13" height="8.74" fill="#c70000"/><rect x="131.22" y="128.64" width="5.56" height="8.74" fill="#b70000"/><rect x="136.08" y="128.64" width="7.99" height="8.74" fill="#c70000"/><rect x="143.37" y="128.64" width="3.13" height="8.74" fill="#b70000"/><rect x="145.80" y="128.64" width="3.13" height="8.74" fill="#c70000"/><rect x="148.23" y="128.64" width="22.57" height="8.74" fill="#b70000"/><rect x="170.10" y="128.64" width="3.13" height="8.74" fill="#c70000"/><rect x="172.53" y="128.64" width="7.99" height="8.74" fill="#b70000"/><rect x="179.82" y="128.64" width="3.13" height="8.74" fill="#c70000"/><rect x="182.25" y="128.64" width="7.99" height="8.74" fill="#b70000"/><rect x="189.54" y="128.64" width="3.13" height="8.74" fill="#c70000"/><rect x="191.97" y="128.64" width="5.56" height="8.74" fill="#b70000"/><rect x="196.83" y="128.64" width="5.56" height="8.74" fill="#c70000"/><rect x="201.69" y="128.64" width="12.85" height="8.74" fill="#b70000"/><rect x="213.84" y="128.64" width="3.13" height="8.74" fill="#c70000"/><rect x="216.27" y="128.64" width="3.13" height="8.74" fill="#b70000"/><rect x="218.70" y="128.64" width="10.42" height="8.74" fill="#c70000"/><rect x="228.42" y="128.64" width="5.56" height="8.74" fill="#b70000"/><rect x="233.28" y="128.64" width="3.13" height="8.74" fill="#c70000"/><rect x="235.71" y="128.64" width="5.56" height="8.74" fill="#b70000"/><rect x="240.57" y="128.64" width="3.13" height="8.74" fill="#c70000"/><rect x="0.00" y="136.68" width="3.13" height="8.74" fill="#0000d7"/><rect x="2.43" y="136.68" width="3.13" height="8.74" fill="#0008ff"/><rect x="4.86" y="136.68" width="5.56" height="8.74" fill="#0000e7"/><rect x="9.72" y="136.68" width="3.13" height="8.74" fill="#0000f7"/><rect x="12.15" y="136.68" width="3.13" height="8.74" fill="#0028ff"/><rect x="14.58" y="136.68" width="3.13" height="8.74" fill="#0000e7"/><rect x="17.01" y="136.68" width="3.13" height="8.74" fill="#0000d7"/><rect x="19.44" y="136.68" width="3.13" height="8.74" fill="#0000e7"/><rect x="21.87" y="136.68" width="7.99" height="8.74" fill="#0000d7"/><rect x="29.16" y="136.68" width="5.56" height="8.74" fill="#0018ff"/><rect x="34.02" y="136.68" width="3.13" height="8.74" fill="#0000d7"/><rect x="36.45" y="136.68" width="7.99" height="8.74" fill="#0000e7"/><rect x="43.74" y="136.68" width="5.56" height="8.74" fill="#0000d7"/><rect x="48.60" y="136.68" width="3.13" height="8.74" fill="#0000f7"/><rect x="51.03" y="136.68" width="5.56" height="8.74" fill="#0000d7"/><rect x="55.89" y="136.68" width="3.13" height="8.74" fill="#0000e7"/><rect x="58.32" y="136.68" width="5.56" height="8.74" fill="#0000d7"/><rect x="63.18" y="136.68" width="3.13" height="8.74" fill="#0000e7"/><rect x="65.61" y="136.68" width="3.13" height="8.74" fill="#0008ff"/><rect x="68.04" y="136.68" width="5.56" height="8.74" fill="#0000e7"/><rect x="72.90" y="136.68" width="3.13" height="8.74" fill="#0000d7"/><rect x="75.33" y="136.68" width="3.13" height="8.74" fill="#0000e7"/><rect x="77.76" y="136.68" width="5.56" height="8.74" fill="#0000d7"/><rect x="82.62" y="136.68" width="5.56" height="8.74" fill="#0000e7"/><rect x="87.48" y="136.68" width="3.13" height="8.74" fill="#0000d7"/><rect x="89.91" y="136.68" width="3.13" height="8.74" fill="#0000f7"/><rect x="92.34" y="136.68" width="3.13" height="8.74" fill="#0000d7"/><rect x="94.77" y="136.68" width="5.56" height="8.74" fill="#ffb700"/><rect x="99.63" y="136.68" width="3.13" height="8.74" fill="#ff5800"/><rect x="102.06" y="136.68" width="3.13" height="8.74" fill="#c70000"/><rect x="104.49" y="136.68" width="10.42" height="8.74" fill="#b70000"/><rect x="114.21" y="136.68" width="3.13" height="8.74" fill="#c70000"/><rect x="116.64" y="136.68" width="5.56" height="8.74" fill="#b70000"/><rect x="121.50" y="136.68" width="5.56" height="8.74" fill="#c70000"/><rect x="126.36" y="136.68" width="3.13" height="8.74" fill="#b70000"/><rect x="128.79" y="136.68" width="3.13" height="8.74" fill="#c70000"/><rect x="131.22" y="136.68" width="5.56" height="8.74" fill="#b70000"/><rect x="136.08" y="136.68" width="7.99" height="8.74" fill="#c70000"/><rect x="143.37" y="136.68" width="7.99" height="8.74" fill="#b70000"/><rect x="150.66" y="136.68" width="3.13" height="8.74" fill="#c70000"/><rect x="153.09" y="136.68" width="10.42" height="8.74" fill="#b70000"/><rect x="162.81" y="136.68" width="3.13" height="8.74" fill="#c70000"/><rect x="165.24" y="136.68" width="3.13" height="8.74" fill="#b70000"/><rect x="167.67" y="136.68" width="3.13" height="8.74" fill="#c70000"/><rect x="170.10" y="136.68" width="12.85" height="8.74" fill="#b70000"/><rect x="182.25" y="136.68" width="3.13" height="8.74" fill="#c70000"/><rect x="184.68" y="136.68" width="27.43" height="8.74" fill="#b70000"/><rect x="211.41" y="136.68" width="3.13" height="8.74" fill="#c70000"/><rect x="213.84" y="136.68" width="3.13" height="8.74" fill="#b70000"/><rect x="216.27" y="136.68" width="3.13" height="8.74" fill="#c70000"/><rect x="218.70" y="136.68" width="12.85" height="8.74" fill="#b70000"/><rect x="230.85" y="136.68" width="5.56" height="8.74" fill="#c70000"/><rect x="235.71" y="136.68" width="7.99" height="8.74" fill="#b70000"/><rect x="0.00" y="144.72" width="7.99" height="8.74" fill="#0000e7"/><rect x="7.29" y="144.72" width="3.13" height="8.74" fill="#0028ff"/><rect x="9.72" y="144.72" width="10.42" height="8.74" fill="#0000e7"/><rect x="19.44" y="144.72" width="3.13" height="8.74" fill="#0000f7"/><rect x="21.87" y="144.72" width="10.42" height="8.74" fill="#0000e7"/><rect x="31.59" y="144.72" width="3.13" height="8.74" fill="#0000d7"/><rect x="34.02" y="144.72" width="10.42" height="8.74" fill="#0000e7"/><rect x="43.74" y="144.72" width="3.13" height="8.74" fill="#0028ff"/><rect x="46.17" y="144.72" width="3.13" height="8.74" fill="#0018ff"/><rect x="48.60" y="144.72" width="3.13" height="8.74" fill="#0000f7"/><rect x="51.03" y="144.72" width="3.13" height="8.74" fill="#0000e7"/><rect x="53.46" y="144.72" width="3.13" height="8.74" fill="#0000d7"/><rect x="55.89" y="144.72" width="3.13" height="8.74" fill="#0000e7"/><rect x="58.32" y="144.72" width="3.13" height="8.74" fill="#0028ff"/><rect x="60.75" y="144.72" width="3.13" height="8.74" fill="#0000e7"/><rect x="63.18" y="144.72" width="3.13" height="8.74" fill="#0000f7"/><rect x="65.61" y="144.72" width="5.56" height="8.74" fill="#0000e7"/><rect x="70.47" y="144.72" width="3.13" height="8.74" fill="#0000d7"/><rect x="72.90" y="144.72" width="3.13" height="8.74" fill="#0008ff"/><rect x="75.33" y="144.72" width="3.13" height="8.74" fill="#0000f7"/><rect x="77.76" y="144.72" width="3.13" height="8.74" fill="#0000e7"/><rect x="80.19" y="144.72" width="3.13" height="8.74" fill="#0000f7"/><rect x="82.62" y="144.72" width="3.13" height="8.74" fill="#0028ff"/><rect x="85.05" y="144.72" width="5.56" height="8.74" fill="#0000d7"/><rect x="89.91" y="144.72" width="3.13" height="8.74" fill="#0038ff"/><rect x="92.34" y="144.72" width="3.13" height="8.74" fill="#0097ff"/><rect x="94.77" y="144.72" width="3.13" height="8.74" fill="#08fff7"/><rect x="97.20" y="144.72" width="3.13" height="8.74" fill="#0000a7"/><rect x="99.63" y="144.72" width="3.13" height="8.74" fill="#fff700"/><rect x="102.06" y="144.72" width="3.13" height="8.74" fill="#d70000"/><rect x="104.49" y="144.72" width="3.13" height="8.74" fill="#b70000"/><rect x="106.92" y="144.72" width="5.56" height="8.74" fill="#c70000"/><rect x="111.78" y="144.72" width="3.13" height="8.74" fill="#f70000"/><rect x="114.21" y="144.72" width="3.13" height="8.74" fill="#c70000"/><rect x="116.64" y="144.72" width="3.13" height="8.74" fill="#e70000"/><rect x="119.07" y="144.72" width="3.13" height="8.74" fill="#c70000"/><rect x="121.50" y="144.72" width="3.13" height="8.74" fill="#b70000"/><rect x="123.93" y="144.72" width="3.13" height="8.74" fill="#e70000"/><rect x="126.36" y="144.72" width="3.13" height="8.74" fill="#c70000"/><rect x="128.79" y="144.72" width="7.99" height="8.74" fill="#b70000"/><rect x="136.08" y="144.72" width="7.99" height="8.74" fill="#c70000"/><rect x="143.37" y="144.72" width="10.42" height="8.74" fill="#b70000"/><rect x="153.09" y="144.72" width="3.13" height="8.74" fill="#c70000"/><rect x="155.52" y="144.72" width="15.28" height="8.74" fill="#b70000"/><rect x="170.10" y="144.72" width="5.56" height="8.74" fill="#c70000"/><rect x="174.96" y="144.72" width="5.56" height="8.74" fill="#b70000"/><rect x="179.82" y="144.72" width="5.56" height="8.74" fill="#c70000"/><rect x="184.68" y="144.72" width="3.13" height="8.74" fill="#b70000"/><rect x="187.11" y="144.72" width="5.56" height="8.74" fill="#c70000"/><rect x="191.97" y="144.72" width="10.42" height="8.74" fill="#b70000"/><rect x="201.69" y="144.72" width="7.99" height="8.74" fill="#c70000"/><rect x="208.98" y="144.72" width="3.13" height="8.74" fill="#b70000"/><rect x="211.41" y="144.72" width="5.56" height="8.74" fill="#c70000"/><rect x="216.27" y="144.72" width="7.99" height="8.74" fill="#b70000"/><rect x="223.56" y="144.72" width="3.13" height="8.74" fill="#c70000"/><rect x="225.99" y="144.72" width="5.56" height="8.74" fill="#b70000"/><rect x="230.85" y="144.72" width="5.56" height="8.74" fill="#c70000"/><rect x="235.71" y="144.72" width="7.99" height="8.74" fill="#b70000"/><rect x="0.00" y="152.76" width="3.13" height="8.74" fill="#0008ff"/><rect x="2.43" y="152.76" width="3.13" height="8.74" fill="#0000f7"/><rect x="4.86" y="152.76" width="3.13" height="8.74" fill="#0008ff"/><rect x="7.29" y="152.76" width="5.56" height="8.74" fill="#0000f7"/><rect x="12.15" y="152.76" width="3.13" height="8.74" fill="#0008ff"/><rect x="14.58" y="152.76" width="5.56" height="8.74" fill="#0000f7"/><rect x="19.44" y="152.76" width="3.13" height="8.74" fill="#0000e7"/><rect x="21.87" y="152.76" width="3.13" height="8.74" fill="#0008ff"/><rect x="24.30" y="152.76" width="3.13" height="8.74" fill="#0028ff"/><rect x="26.73" y="152.76" width="3.13" height="8.74" fill="#0000e7"/><rect x="29.16" y="152.76" width="3.13" height="8.74" fill="#0008ff"/><rect x="31.59" y="152.76" width="3.13" height="8.74" fill="#0000f7"/><rect x="34.02" y="152.76" width="3.13" height="8.74" fill="#0000e7"/><rect x="36.45" y="152.76" width="7.99" height="8.74" fill="#0000f7"/><rect x="43.74" y="152.76" width="5.56" height="8.74" fill="#0000e7"/><rect x="48.60" y="152.76" width="7.99" height="8.74" fill="#0000f7"/><rect x="55.89" y="152.76" width="7.99" height="8.74" fill="#0000e7"/><rect x="63.18" y="152.76" width="3.13" height="8.74" fill="#0000f7"/><rect x="65.61" y="152.76" width="3.13" height="8.74" fill="#0000e7"/><rect x="68.04" y="152.76" width="7.99" height="8.74" fill="#0000f7"/><rect x="75.33" y="152.76" width="3.13" height="8.74" fill="#0008ff"/><rect x="77.76" y="152.76" width="5.56" height="8.74" fill="#0000f7"/><rect x="82.62" y="152.76" width="3.13" height="8.74" fill="#0008ff"/><rect x="85.05" y="152.76" width="5.56" height="8.74" fill="#0000e7"/><rect x="89.91" y="152.76" width="3.13" height="8.74" fill="#58ffa7"/><rect x="92.34" y="152.76" width="3.13" height="8.74" fill="#b70000"/><rect x="94.77" y="152.76" width="3.13" height="8.74" fill="#e70000"/><rect x="97.20" y="152.76" width="5.56" height="8.74" fill="#b70000"/><rect x="102.06" y="152.76" width="3.13" height="8.74" fill="#f70000"/><rect x="104.49" y="152.76" width="3.13" height="8.74" fill="#c70000"/><rect x="106.92" y="152.76" width="5.56" height="8.74" fill="#b70000"/><rect x="111.78" y="152.76" width="3.13" height="8.74" fill="#c70000"/><rect x="114.21" y="152.76" width="3.13" height="8.74" fill="#f70000"/><rect x="116.64" y="152.76" width="5.56" height="8.74" fill="#b70000"/><rect x="121.50" y="152.76" width="3.13" height="8.74" fill="#c70000"/><rect x="123.93" y="152.76" width="3.13" height="8.74" fill="#b70000"/><rect x="126.36" y="152.76" width="3.13" height="8.74" fill="#c70000"/><rect x="128.79" y="152.76" width="3.13" height="8.74" fill="#b70000"/><rect x="131.22" y="152.76" width="5.56" height="8.74" fill="#c70000"/><rect x="136.08" y="152.76" width="10.42" height="8.74" fill="#b70000"/><rect x="145.80" y="152.76" width="3.13" height="8.74" fill="#c70000"/><rect x="148.23" y="152.76" width="3.13" height="8.74" fill="#b70000"/><rect x="150.66" y="152.76" width="5.56" height="8.74" fill="#c70000"/><rect x="155.52" y="152.76" width="3.13" height="8.74" fill="#b70000"/><rect x="157.95" y="152.76" width="7.99" height="8.74" fill="#c70000"/><rect x="165.24" y="152.76" width="5.56" height="8.74" fill="#b70000"/><rect x="170.10" y="152.76" width="5.56" height="8.74" fill="#c70000"/><rect x="174.96" y="152.76" width="5.56" height="8.74" fill="#b70000"/><rect x="179.82" y="152.76" width="3.13" height="8.74" fill="#c70000"/><rect x="182.25" y="152.76" width="3.13" height="8.74" fill="#b70000"/><rect x="184.68" y="152.76" width="3.13" height="8.74" fill="#c70000"/><rect x="187.11" y="152.76" width="3.13" height="8.74" fill="#b70000"/><rect x="189.54" y="152.76" width="3.13" height="8.74" fill="#c70000"/><rect x="191.97" y="152.76" width="5.56" height="8.74" fill="#b70000"/><rect x="196.83" y="152.76" width="3.13" height="8.74" fill="#c70000"/><rect x="199.26" y="152.76" width="7.99" height="8.74" fill="#b70000"/><rect x="206.55" y="152.76" width="5.56" height="8.74" fill="#c70000"/><rect x="211.41" y="152.76" width="3.13" height="8.74" fill="#b70000"/><rect x="213.84" y="152.76" width="3.13" height="8.74" fill="#c70000"/><rect x="216.27" y="152.76" width="5.56" height="8.74" fill="#b70000"/><rect x="221.13" y="152.76" width="3.13" height="8.74" fill="#c70000"/><rect x="223.56" y="152.76" width="3.13" height="8.74" fill="#b70000"/><rect x="225.99" y="152.76" width="3.13" height="8.74" fill="#c70000"/><rect x="228.42" y="152.76" width="3.13" height="8.74" fill="#b70000"/><rect x="230.85" y="152.76" width="3.13" height="8.74" fill="#c70000"/><rect x="233.28" y="152.76" width="10.42" height="8.74" fill="#b70000"/><rect x="0.00" y="160.80" width="10.42" height="8.74" fill="#0008ff"/><rect x="9.72" y="160.80" width="5.56" height="8.74" fill="#0048ff"/><rect x="14.58" y="160.80" width="7.99" height="8.74" fill="#0008ff"/><rect x="21.87" y="160.80" width="3.13" height="8.74" fill="#0048ff"/><rect x="24.30" y="160.80" width="17.71" height="8.74" fill="#0008ff"/><rect x="41.31" y="160.80" width="5.56" height="8.74" fill="#0048ff"/><rect x="46.17" y="160.80" width="17.71" height="8.74" fill="#0008ff"/><rect x="63.18" y="160.80" width="5.56" height="8.74" fill="#0048ff"/><rect x="68.04" y="160.80" width="10.42" height="8.74" fill="#0008ff"/><rect x="77.76" y="160.80" width="7.99" height="8.74" fill="#0000f7"/><rect x="85.05" y="160.80" width="3.13" height="8.74" fill="#0008ff"/><rect x="87.48" y="160.80" width="3.13" height="8.74" fill="#0028ff"/><rect x="89.91" y="160.80" width="3.13" height="8.74" fill="#b70000"/><rect x="92.34" y="160.80" width="3.13" height="8.74" fill="#c70000"/><rect x="94.77" y="160.80" width="3.13" height="8.74" fill="#e70000"/><rect x="97.20" y="160.80" width="5.56" height="8.74" fill="#b70000"/><rect x="102.06" y="160.80" width="5.56" height="8.74" fill="#e70000"/><rect x="106.92" y="160.80" width="3.13" height="8.74" fill="#c70000"/><rect x="109.35" y="160.80" width="3.13" height="8.74" fill="#e70000"/><rect x="111.78" y="160.80" width="3.13" height="8.74" fill="#c70000"/><rect x="114.21" y="160.80" width="5.56" height="8.74" fill="#b70000"/><rect x="119.07" y="160.80" width="3.13" height="8.74" fill="#c70000"/><rect x="121.50" y="160.80" width="3.13" height="8.74" fill="#b70000"/><rect x="123.93" y="160.80" width="3.13" height="8.74" fill="#c70000"/><rect x="126.36" y="160.80" width="5.56" height="8.74" fill="#b70000"/><rect x="131.22" y="160.80" width="3.13" height="8.74" fill="#c70000"/><rect x="133.65" y="160.80" width="22.57" height="8.74" fill="#b70000"/><rect x="155.52" y="160.80" width="3.13" height="8.74" fill="#c70000"/><rect x="157.95" y="160.80" width="5.56" height="8.74" fill="#b70000"/><rect x="162.81" y="160.80" width="3.13" height="8.74" fill="#c70000"/><rect x="165.24" y="160.80" width="3.13" height="8.74" fill="#b70000"/><rect x="167.67" y="160.80" width="5.56" height="8.74" fill="#c70000"/><rect x="172.53" y="160.80" width="20.14" height="8.74" fill="#b70000"/><rect x="191.97" y="160.80" width="3.13" height="8.74" fill="#c70000"/><rect x="194.40" y="160.80" width="17.71" height="8.74" fill="#b70000"/><rect x="211.41" y="160.80" width="3.13" height="8.74" fill="#c70000"/><rect x="213.84" y="160.80" width="5.56" height="8.74" fill="#b70000"/><rect x="218.70" y="160.80" width="3.13" height="8.74" fill="#c70000"/><rect x="221.13" y="160.80" width="10.42" height="8.74" fill="#b70000"/><rect x="230.85" y="160.80" width="3.13" height="8.74" fill="#c70000"/><rect x="233.28" y="160.80" width="3.13" height="8.74" fill="#b70000"/><rect x="235.71" y="160.80" width="5.56" height="8.74" fill="#c70000"/><rect x="240.57" y="160.80" width="3.13" height="8.74" fill="#b70000"/><rect x="0.00" y="168.84" width="7.99" height="8.74" fill="#0008ff"/><rect x="7.29" y="168.84" width="3.13" height="8.74" fill="#0097ff"/><rect x="9.72" y="168.84" width="7.99" height="8.74" fill="#0008ff"/><rect x="17.01" y="168.84" width="3.13" height="8.74" fill="#0097ff"/><rect x="19.44" y="168.84" width="5.56" height="8.74" fill="#0008ff"/><rect x="24.30" y="168.84" width="10.42" height="8.74" fill="#0048ff"/><rect x="34.02" y="168.84" width="10.42" height="8.74" fill="#0008ff"/><rect x="43.74" y="168.84" width="5.56" height="8.74" fill="#0097ff"/><rect x="48.60" y="168.84" width="5.56" height="8.74" fill="#0008ff"/><rect x="53.46" y="168.84" width="3.13" height="8.74" fill="#0048ff"/><rect x="55.89" y="168.84" width="10.42" height="8.74" fill="#0008ff"/><rect x="65.61" y="168.84" width="3.13" height="8.74" fill="#0048ff"/><rect x="68.04" y="168.84" width="10.42" height="8.74" fill="#0008ff"/><rect x="77.76" y="168.84" width="5.56" height="8.74" fill="#0018ff"/><rect x="82.62" y="168.84" width="3.13" height="8.74" fill="#58ffa7"/><rect x="85.05" y="168.84" width="3.13" height="8.74" fill="#fff700"/><rect x="87.48" y="168.84" width="3.13" height="8.74" fill="#ff5800"/><rect x="89.91" y="168.84" width="3.13" height="8.74" fill="#b70000"/><rect x="92.34" y="168.84" width="3.13" height="8.74" fill="#c70000"/><rect x="94.77" y="168.84" width="3.13" height="8.74" fill="#b70000"/><rect x="97.20" y="168.84" width="3.13" height="8.74" fill="#d70000"/><rect x="99.63" y="168.84" width="3.13" height="8.74" fill="#c70000"/><rect x="102.06" y="168.84" width="3.13" height="8.74" fill="#f70000"/><rect x="104.49" y="168.84" width="5.56" height="8.74" fill="#b70000"/><rect x="109.35" y="168.84" width="3.13" height="8.74" fill="#c70000"/><rect x="111.78" y="168.84" width="10.42" height="8.74" fill="#b70000"/><rect x="121.50" y="168.84" width="3.13" height="8.74" fill="#c70000"/><rect x="123.93" y="168.84" width="3.13" height="8.74" fill="#b70000"/><rect x="126.36" y="168.84" width="3.13" height="8.74" fill="#c70000"/><rect x="128.79" y="168.84" width="12.85" height="8.74" fill="#b70000"/><rect x="140.94" y="168.84" width="3.13" height="8.74" fill="#c70000"/><rect x="143.37" y="168.84" width="3.13" height="8.74" fill="#b70000"/><rect x="145.80" y="168.84" width="5.56" height="8.74" fill="#c70000"/><rect x="150.66" y="168.84" width="7.99" height="8.74" fill="#b70000"/><rect x="157.95" y="168.84" width="3.13" height="8.74" fill="#c70000"/><rect x="160.38" y="168.84" width="3.13" height="8.74" fill="#b70000"/><rect x="162.81" y="168.84" width="5.56" height="8.74" fill="#c70000"/><rect x="167.67" y="168.84" width="20.14" height="8.74" fill="#b70000"/><rect x="187.11" y="168.84" width="7.99" height="8.74" fill="#c70000"/><rect x="194.40" y="168.84" width="7.99" height="8.74" fill="#b70000"/><rect x="201.69" y="168.84" width="3.13" height="8.74" fill="#c70000"/><rect x="204.12" y="168.84" width="3.13" height="8.74" fill="#b70000"/><rect x="206.55" y="168.84" width="3.13" height="8.74" fill="#c70000"/><rect x="208.98" y="168.84" width="5.56" height="8.74" fill="#b70000"/><rect x="213.84" y="168.84" width="7.99" height="8.74" fill="#c70000"/><rect x="221.13" y="168.84" width="10.42" height="8.74" fill="#b70000"/><rect x="230.85" y="168.84" width="7.99" height="8.74" fill="#c70000"/><rect x="238.14" y="168.84" width="5.56" height="8.74" fill="#b70000"/><rect x="0.00" y="176.88" width="20.14" height="8.74" fill="#0008ff"/><rect x="19.44" y="176.88" width="3.13" height="8.74" fill="#0048ff"/><rect x="21.87" y="176.88" width="5.56" height="8.74" fill="#0008ff"/><rect x="26.73" y="176.88" width="3.13" height="8.74" fill="#0048ff"/><rect x="29.16" y="176.88" width="3.13" height="8.74" fill="#0008ff"/><rect x="31.59" y="176.88" width="3.13" height="8.74" fill="#0000a7"/><rect x="34.02" y="176.88" width="3.13" height="8.74" fill="#0008ff"/><rect x="36.45" y="176.88" width="7.99" height="8.74" fill="#0048ff"/><rect x="43.74" y="176.88" width="5.56" height="8.74" fill="#0008ff"/><rect x="48.60" y="176.88" width="5.56" height="8.74" fill="#0048ff"/><rect x="53.46" y="176.88" width="7.99" height="8.74" fill="#0008ff"/><rect x="60.75" y="176.88" width="5.56" height="8.74" fill="#0097ff"/><rect x="65.61" y="176.88" width="5.56" height="8.74" fill="#0008ff"/><rect x="70.47" y="176.88" width="3.13" height="8.74" fill="#0048ff"/><rect x="72.90" y="176.88" width="5.56" height="8.74" fill="#0008ff"/><rect x="77.76" y="176.88" width="3.13" height="8.74" fill="#58ffa7"/><rect x="80.19" y="176.88" width="3.13" height="8.74" fill="#d70000"/><rect x="82.62" y="176.88" width="5.56" height="8.74" fill="#c70000"/><rect x="87.48" y="176.88" width="3.13" height="8.74" fill="#b70000"/><rect x="89.91" y="176.88" width="3.13" height="8.74" fill="#c70000"/><rect x="92.34" y="176.88" width="7.99" height="8.74" fill="#b70000"/><rect x="99.63" y="176.88" width="3.13" height="8.74" fill="#d70000"/><rect x="102.06" y="176.88" width="7.99" height="8.74" fill="#b70000"/><rect x="109.35" y="176.88" width="5.56" height="8.74" fill="#c70000"/><rect x="114.21" y="176.88" width="5.56" height="8.74" fill="#b70000"/><rect x="119.07" y="176.88" width="3.13" height="8.74" fill="#c70000"/><rect x="121.50" y="176.88" width="12.85" height="8.74" fill="#b70000"/><rect x="133.65" y="176.88" width="3.13" height="8.74" fill="#c70000"/><rect x="136.08" y="176.88" width="5.56" height="8.74" fill="#b70000"/><rect x="140.94" y="176.88" width="5.56" height="8.74" fill="#c70000"/><rect x="145.80" y="176.88" width="5.56" height="8.74" fill="#b70000"/><rect x="150.66" y="176.88" width="10.42" height="8.74" fill="#c70000"/><rect x="160.38" y="176.88" width="7.99" height="8.74" fill="#b70000"/><rect x="167.67" y="176.88" width="7.99" height="8.74" fill="#c70000"/><rect x="174.96" y="176.88" width="5.56" height="8.74" fill="#b70000"/><rect x="179.82" y="176.88" width="3.13" height="8.74" fill="#c70000"/><rect x="182.25" y="176.88" width="10.42" height="8.74" fill="#b70000"/><rect x="191.97" y="176.88" width="3.13" height="8.74" fill="#c70000"/><rect x="194.40" y="176.88" width="5.56" height="8.74" fill="#b70000"/><rect x="199.26" y="176.88" width="7.99" height="8.74" fill="#c70000"/><rect x="206.55" y="176.88" width="5.56" height="8.74" fill="#b70000"/><rect x="211.41" y="176.88" width="3.13" height="8.74" fill="#c70000"/><rect x="213.84" y="176.88" width="5.56" height="8.74" fill="#b70000"/><rect x="218.70" y="176.88" width="3.13" height="8.74" fill="#c70000"/><rect x="221.13" y="176.88" width="3.13" height="8.74" fill="#b70000"/><rect x="223.56" y="176.88" width="7.99" height="8.74" fill="#c70000"/><rect x="230.85" y="176.88" width="5.56" height="8.74" fill="#b70000"/><rect x="235.71" y="176.88" width="3.13" height="8.74" fill="#c70000"/><rect x="238.14" y="176.88" width="3.13" height="8.74" fill="#b70000"/><rect x="240.57" y="176.88" width="3.13" height="8.74" fill="#c70000"/><rect x="0.00" y="184.92" width="3.13" height="8.74" fill="#0038ff"/><rect x="2.43" y="184.92" width="3.13" height="8.74" fill="#08fff7"/><rect x="4.86" y="184.92" width="3.13" height="8.74" fill="#0097ff"/><rect x="7.29" y="184.92" width="5.56" height="8.74" fill="#08fff7"/><rect x="12.15" y="184.92" width="3.13" height="8.74" fill="#0097ff"/><rect x="14.58" y="184.92" width="5.56" height="8.74" fill="#08fff7"/><rect x="19.44" y="184.92" width="10.42" height="8.74" fill="#0000e7"/><rect x="29.16" y="184.92" width="7.99" height="8.74" fill="#08fff7"/><rect x="36.45" y="184.92" width="5.56" height="8.74" fill="#0097ff"/><rect x="41.31" y="184.92" width="3.13" height="8.74" fill="#0000e7"/><rect x="43.74" y="184.92" width="3.13" height="8.74" fill="#0097ff"/><rect x="46.17" y="184.92" width="5.56" height="8.74" fill="#0000e7"/><rect x="51.03" y="184.92" width="3.13" height="8.74" fill="#08fff7"/><rect x="53.46" y="184.92" width="5.56" height="8.74" fill="#0000e7"/><rect x="58.32" y="184.92" width="5.56" height="8.74" fill="#0097ff"/><rect x="63.18" y="184.92" width="5.56" height="8.74" fill="#0000e7"/><rect x="68.04" y="184.92" width="5.56" height="8.74" fill="#08fff7"/><rect x="72.90" y="184.92" width="3.13" height="8.74" fill="#0097ff"/><rect x="75.33" y="184.92" width="3.13" height="8.74" fill="#ffb700"/><rect x="77.76" y="184.92" width="3.13" height="8.74" fill="#ff5800"/><rect x="80.19" y="184.92" width="3.13" height="8.74" fill="#f70000"/><rect x="82.62" y="184.92" width="3.13" height="8.74" fill="#c70000"/><rect x="85.05" y="184.92" width="3.13" height="8.74" fill="#b70000"/><rect x="87.48" y="184.92" width="3.13" height="8.74" fill="#f70000"/><rect x="89.91" y="184.92" width="3.13" height="8.74" fill="#e70000"/><rect x="92.34" y="184.92" width="3.13" height="8.74" fill="#b70000"/><rect x="94.77" y="184.92" width="3.13" height="8.74" fill="#f70000"/><rect x="97.20" y="184.92" width="3.13" height="8.74" fill="#c70000"/><rect x="99.63" y="184.92" width="3.13" height="8.74" fill="#b70000"/><rect x="102.06" y="184.92" width="3.13" height="8.74" fill="#e70000"/><rect x="104.49" y="184.92" width="3.13" height="8.74" fill="#b70000"/><rect x="106.92" y="184.92" width="3.13" height="8.74" fill="#c70000"/><rect x="109.35" y="184.92" width="5.56" height="8.74" fill="#b70000"/><rect x="114.21" y="184.92" width="5.56" height="8.74" fill="#c70000"/><rect x="119.07" y="184.92" width="3.13" height="8.74" fill="#b70000"/><rect x="121.50" y="184.92" width="3.13" height="8.74" fill="#c70000"/><rect x="123.93" y="184.92" width="5.56" height="8.74" fill="#b70000"/><rect x="128.79" y="184.92" width="7.99" height="8.74" fill="#c70000"/><rect x="136.08" y="184.92" width="12.85" height="8.74" fill="#b70000"/><rect x="148.23" y="184.92" width="3.13" height="8.74" fill="#c70000"/><rect x="150.66" y="184.92" width="5.56" height="8.74" fill="#b70000"/><rect x="155.52" y="184.92" width="5.56" height="8.74" fill="#c70000"/><rect x="160.38" y="184.92" width="3.13" height="8.74" fill="#b70000"/><rect x="162.81" y="184.92" width="3.13" height="8.74" fill="#c70000"/><rect x="165.24" y="184.92" width="5.56" height="8.74" fill="#b70000"/><rect x="170.10" y="184.92" width="5.56" height="8.74" fill="#c70000"/><rect x="174.96" y="184.92" width="3.13" height="8.74" fill="#b70000"/><rect x="177.39" y="184.92" width="5.56" height="8.74" fill="#c70000"/><rect x="182.25" y="184.92" width="3.13" height="8.74" fill="#b70000"/><rect x="184.68" y="184.92" width="5.56" height="8.74" fill="#c70000"/><rect x="189.54" y="184.92" width="10.42" height="8.74" fill="#b70000"/><rect x="199.26" y="184.92" width="5.56" height="8.74" fill="#c70000"/><rect x="204.12" y="184.92" width="12.85" height="8.74" fill="#b70000"/><rect x="216.27" y="184.92" width="3.13" height="8.74" fill="#c70000"/><rect x="218.70" y="184.92" width="5.56" height="8.74" fill="#b70000"/><rect x="223.56" y="184.92" width="5.56" height="8.74" fill="#c70000"/><rect x="228.42" y="184.92" width="3.13" height="8.74" fill="#b70000"/><rect x="230.85" y="184.92" width="7.99" height="8.74" fill="#c70000"/><rect x="238.14" y="184.92" width="5.56" height="8.74" fill="#b70000"/><rect x="0.00" y="192.96" width="3.13" height="8.74" fill="#87ff78"/><rect x="2.43" y="192.96" width="3.13" height="8.74" fill="#08fff7"/><rect x="4.86" y="192.96" width="3.13" height="8.74" fill="#58ffa7"/><rect x="7.29" y="192.96" width="3.13" height="8.74" fill="#c7ff38"/><rect x="9.72" y="192.96" width="3.13" height="8.74" fill="#fff700"/><rect x="12.15" y="192.96" width="3.13" height="8.74" fill="#ffb700"/><rect x="14.58" y="192.96" width="3.13" height="8.74" fill="#58ffa7"/><rect x="17.01" y="192.96" width="3.13" height="8.74" fill="#08fff7"/><rect x="19.44" y="192.96" width="3.13" height="8.74" fill="#87ff78"/><rect x="21.87" y="192.96" width="3.13" height="8.74" fill="#c7ff38"/><rect x="24.30" y="192.96" width="3.13" height="8.74" fill="#fff700"/><rect x="26.73" y="192.96" width="3.13" height="8.74" fill="#c7ff38"/><rect x="29.16" y="192.96" width="5.56" height="8.74" fill="#fff700"/><rect x="34.02" y="192.96" width="7.99" height="8.74" fill="#ffb700"/><rect x="41.31" y="192.96" width="3.13" height="8.74" fill="#58ffa7"/><rect x="43.74" y="192.96" width="5.56" height="8.74" fill="#ff5800"/><rect x="48.60" y="192.96" width="5.56" height="8.74" fill="#fff700"/><rect x="53.46" y="192.96" width="3.13" height="8.74" fill="#c7ff38"/><rect x="55.89" y="192.96" width="3.13" height="8.74" fill="#fff700"/><rect x="58.32" y="192.96" width="3.13" height="8.74" fill="#ff5800"/><rect x="60.75" y="192.96" width="7.99" height="8.74" fill="#ffb700"/><rect x="68.04" y="192.96" width="3.13" height="8.74" fill="#ff5800"/><rect x="70.47" y="192.96" width="7.99" height="8.74" fill="#ff0800"/><rect x="77.76" y="192.96" width="3.13" height="8.74" fill="#e70000"/><rect x="80.19" y="192.96" width="5.56" height="8.74" fill="#b70000"/><rect x="85.05" y="192.96" width="5.56" height="8.74" fill="#c70000"/><rect x="89.91" y="192.96" width="3.13" height="8.74" fill="#b70000"/><rect x="92.34" y="192.96" width="3.13" height="8.74" fill="#c70000"/><rect x="94.77" y="192.96" width="3.13" height="8.74" fill="#e70000"/><rect x="97.20" y="192.96" width="3.13" height="8.74" fill="#c70000"/><rect x="99.63" y="192.96" width="12.85" height="8.74" fill="#b70000"/><rect x="111.78" y="192.96" width="3.13" height="8.74" fill="#c70000"/><rect x="114.21" y="192.96" width="5.56" height="8.74" fill="#b70000"/><rect x="119.07" y="192.96" width="3.13" height="8.74" fill="#c70000"/><rect x="121.50" y="192.96" width="3.13" height="8.74" fill="#b70000"/><rect x="123.93" y="192.96" width="10.42" height="8.74" fill="#c70000"/><rect x="133.65" y="192.96" width="20.14" height="8.74" fill="#b70000"/><rect x="153.09" y="192.96" width="5.56" height="8.74" fill="#c70000"/><rect x="157.95" y="192.96" width="12.85" height="8.74" fill="#b70000"/><rect x="170.10" y="192.96" width="5.56" height="8.74" fill="#c70000"/><rect x="174.96" y="192.96" width="5.56" height="8.74" fill="#b70000"/><rect x="179.82" y="192.96" width="3.13" height="8.74" fill="#c70000"/><rect x="182.25" y="192.96" width="3.13" height="8.74" fill="#b70000"/><rect x="184.68" y="192.96" width="5.56" height="8.74" fill="#c70000"/><rect x="189.54" y="192.96" width="7.99" height="8.74" fill="#b70000"/><rect x="196.83" y="192.96" width="3.13" height="8.74" fill="#c70000"/><rect x="199.26" y="192.96" width="12.85" height="8.74" fill="#b70000"/><rect x="211.41" y="192.96" width="3.13" height="8.74" fill="#c70000"/><rect x="213.84" y="192.96" width="10.42" height="8.74" fill="#b70000"/><rect x="223.56" y="192.96" width="3.13" height="8.74" fill="#c70000"/><rect x="225.99" y="192.96" width="5.56" height="8.74" fill="#b70000"/><rect x="230.85" y="192.96" width="3.13" height="8.74" fill="#c70000"/><rect x="233.28" y="192.96" width="5.56" height="8.74" fill="#b70000"/><rect x="238.14" y="192.96" width="3.13" height="8.74" fill="#c70000"/><rect x="240.57" y="192.96" width="3.13" height="8.74" fill="#b70000"/><path d="M0.30 0V201.00M2.43 0V201.00M4.86 0V201.00M7.29 0V201.00M9.72 0V201.00M12.15 0V201.00M14.58 0V201.00M17.01 0V201.00M19.44 0V201.00M21.87 0V201.00M24.30 0V201.00M26.73 0V201.00M29.16 0V201.00M31.59 0V201.00M34.02 0V201.00M36.45 0V201.00M38.88 0V201.00M41.31 0V201.00M43.74 0V201.00M46.17 0V201.00M48.60 0V201.00M51.03 0V201.00M53.46 0V201.00M55.89 0V201.00M58.32 0V201.00M60.75 0V201.00M63.18 0V201.00M65.61 0V201.00M68.04 0V201.00M70.47 0V201.00M72.90 0V201.00M75.33 0V201.00M77.76 0V201.00M80.19 0V201.00M82.62 0V201.00M85.05 0V201.00M87.48 0V201.00M89.91 0V201.00M92.34 0V201.00M94.77 0V201.00M97.20 0V201.00M99.63 0V201.00M102.06 0V201.00M104.49 0V201.00M106.92 0V201.00M109.35 0V201.00M111.78 0V201.00M114.21 0V201.00M116.64 0V201.00M119.07 0V201.00M121.50 0V201.00M123.93 0V201.00M126.36 0V201.00M128.79 0V201.00M131.22 0V201.00M133.65 0V201.00M136.08 0V201.00M138.51 0V201.00M140.94 0V201.00M143.37 0V201.00M145.80 0V201.00M148.23 0V201.00M150.66 0V201.00M153.09 0V201.00M155.52 0V201.00M157.95 0V201.00M160.38 0V201.00M162.81 0V201.00M165.24 0V201.00M167.67 0V201.00M170.10 0V201.00M172.53 0V201.00M174.96 0V201.00M177.39 0V201.00M179.82 0V201.00M182.25 0V201.00M184.68 0V201.00M187.11 0V201.00M189.54 0V201.00M191.97 0V201.00M194.40 0V201.00M196.83 0V201.00M199.26 0V201.00M201.69 0V201.00M204.12 0V201.00M206.55 0V201.00M208.98 0V201.00M211.41 0V201.00M213.84 0V201.00M216.27 0V201.00M218.70 0V201.00M221.13 0V201.00M223.56 0V201.00M225.99 0V201.00M228.42 0V201.00M230.85 0V201.00M233.28 0V201.00M235.71 0V201.00M238.14 0V201.00M240.57 0V201.00M242.70 0V201.00M0 0.30H243.00M0 8.04H243.00M0 16.08H243.00M0 24.12H243.00M0 32.16H243.00M0 40.20H243.00M0 48.24H243.00M0 56.28H243.00M0 64.32H243.00M0 72.36H243.00M0 80.40H243.00M0 88.44H243.00M0 96.48H243.00M0 104.52H243.00M0 112.56H243.00M0 120.60H243.00M0 128.64H243.00M0 136.68H243.00M0 144.72H243.00M0 152.76H243.00M0 160.80H243.00M0 168.84H243.00M0 176.88H243.00M0 184.92H243.00M0 192.96H243.00M0 200.70H243.00" stroke="#000" stroke-opacity="0.25" stroke-width="0.8" fill="none" shape-rendering="crispEdges"/></svg></div><div class="abs hm" style="left:389.2px;top:47.5px"><svg width="242.60" height="199.00" viewBox="0 0 242.60 199.00" shape-rendering="crispEdges" style="display:block"><rect x="0.00" y="0.00" width="3.13" height="8.66" fill="#0000f7"/><rect x="2.43" y="0.00" width="5.55" height="8.66" fill="#0000e7"/><rect x="7.28" y="0.00" width="3.13" height="8.66" fill="#0000f7"/><rect x="9.70" y="0.00" width="15.26" height="8.66" fill="#0000e7"/><rect x="24.26" y="0.00" width="3.13" height="8.66" fill="#0000f7"/><rect x="26.69" y="0.00" width="3.13" height="8.66" fill="#0000e7"/><rect x="29.11" y="0.00" width="3.13" height="8.66" fill="#0000d7"/><rect x="31.54" y="0.00" width="3.13" height="8.66" fill="#0000e7"/><rect x="33.96" y="0.00" width="5.55" height="8.66" fill="#0000f7"/><rect x="38.82" y="0.00" width="3.13" height="8.66" fill="#0000e7"/><rect x="41.24" y="0.00" width="5.55" height="8.66" fill="#0000f7"/><rect x="46.09" y="0.00" width="5.55" height="8.66" fill="#0000e7"/><rect x="50.95" y="0.00" width="3.13" height="8.66" fill="#0000f7"/><rect x="53.37" y="0.00" width="7.98" height="8.66" fill="#0000e7"/><rect x="60.65" y="0.00" width="3.13" height="8.66" fill="#0000d7"/><rect x="63.08" y="0.00" width="3.13" height="8.66" fill="#0008ff"/><rect x="65.50" y="0.00" width="3.13" height="8.66" fill="#0000e7"/><rect x="67.93" y="0.00" width="3.13" height="8.66" fill="#0000f7"/><rect x="70.35" y="0.00" width="3.13" height="8.66" fill="#0000d7"/><rect x="72.78" y="0.00" width="7.98" height="8.66" fill="#0000e7"/><rect x="80.06" y="0.00" width="3.13" height="8.66" fill="#0000f7"/><rect x="82.48" y="0.00" width="7.98" height="8.66" fill="#0000e7"/><rect x="89.76" y="0.00" width="5.55" height="8.66" fill="#0000f7"/><rect x="94.61" y="0.00" width="5.55" height="8.66" fill="#0000e7"/><rect x="99.47" y="0.00" width="5.55" height="8.66" fill="#0000f7"/><rect x="104.32" y="0.00" width="12.83" height="8.66" fill="#0000e7"/><rect x="116.45" y="0.00" width="5.55" height="8.66" fill="#0000f7"/><rect x="121.30" y="0.00" width="3.13" height="8.66" fill="#0038ff"/><rect x="123.73" y="0.00" width="15.26" height="8.66" fill="#0000e7"/><rect x="138.28" y="0.00" width="3.13" height="8.66" fill="#0000f7"/><rect x="140.71" y="0.00" width="3.13" height="8.66" fill="#0000e7"/><rect x="143.13" y="0.00" width="5.55" height="8.66" fill="#0000f7"/><rect x="147.99" y="0.00" width="3.13" height="8.66" fill="#87ff78"/><rect x="150.41" y="0.00" width="7.98" height="8.66" fill="#0000e7"/><rect x="157.69" y="0.00" width="3.13" height="8.66" fill="#fff700"/><rect x="160.12" y="0.00" width="3.13" height="8.66" fill="#c7ff38"/><rect x="162.54" y="0.00" width="3.13" height="8.66" fill="#87ff78"/><rect x="164.97" y="0.00" width="3.13" height="8.66" fill="#c7ff38"/><rect x="167.39" y="0.00" width="3.13" height="8.66" fill="#fff700"/><rect x="169.82" y="0.00" width="3.13" height="8.66" fill="#58ffa7"/><rect x="172.25" y="0.00" width="5.55" height="8.66" fill="#fff700"/><rect x="177.10" y="0.00" width="3.13" height="8.66" fill="#ffb700"/><rect x="179.52" y="0.00" width="3.13" height="8.66" fill="#fff700"/><rect x="181.95" y="0.00" width="5.55" height="8.66" fill="#ffb700"/><rect x="186.80" y="0.00" width="5.55" height="8.66" fill="#fff700"/><rect x="191.65" y="0.00" width="10.40" height="8.66" fill="#ffd700"/><rect x="201.36" y="0.00" width="3.13" height="8.66" fill="#ffc700"/><rect x="203.78" y="0.00" width="5.55" height="8.66" fill="#ffd700"/><rect x="208.64" y="0.00" width="3.13" height="8.66" fill="#ffe700"/><rect x="211.06" y="0.00" width="3.13" height="8.66" fill="#ffc700"/><rect x="213.49" y="0.00" width="3.13" height="8.66" fill="#fff700"/><rect x="215.91" y="0.00" width="5.55" height="8.66" fill="#ffd700"/><rect x="220.77" y="0.00" width="7.98" height="8.66" fill="#ffe700"/><rect x="228.04" y="0.00" width="3.13" height="8.66" fill="#f7ff08"/><rect x="230.47" y="0.00" width="3.13" height="8.66" fill="#fff700"/><rect x="232.90" y="0.00" width="7.98" height="8.66" fill="#ffe700"/><rect x="240.17" y="0.00" width="3.13" height="8.66" fill="#fff700"/><rect x="0.00" y="7.96" width="7.98" height="8.66" fill="#0000e7"/><rect x="7.28" y="7.96" width="3.13" height="8.66" fill="#0000f7"/><rect x="9.70" y="7.96" width="5.55" height="8.66" fill="#0000e7"/><rect x="14.56" y="7.96" width="3.13" height="8.66" fill="#0000f7"/><rect x="16.98" y="7.96" width="5.55" height="8.66" fill="#0000e7"/><rect x="21.83" y="7.96" width="3.13" height="8.66" fill="#0000f7"/><rect x="24.26" y="7.96" width="5.55" height="8.66" fill="#0000e7"/><rect x="29.11" y="7.96" width="5.55" height="8.66" fill="#0000f7"/><rect x="33.96" y="7.96" width="5.55" height="8.66" fill="#0000e7"/><rect x="38.82" y="7.96" width="5.55" height="8.66" fill="#0000f7"/><rect x="43.67" y="7.96" width="3.13" height="8.66" fill="#0000e7"/><rect x="46.09" y="7.96" width="5.55" height="8.66" fill="#0000f7"/><rect x="50.95" y="7.96" width="3.13" height="8.66" fill="#0000e7"/><rect x="53.37" y="7.96" width="3.13" height="8.66" fill="#0000f7"/><rect x="55.80" y="7.96" width="3.13" height="8.66" fill="#0000e7"/><rect x="58.22" y="7.96" width="10.40" height="8.66" fill="#0000f7"/><rect x="67.93" y="7.96" width="3.13" height="8.66" fill="#0000e7"/><rect x="70.35" y="7.96" width="3.13" height="8.66" fill="#0000f7"/><rect x="72.78" y="7.96" width="3.13" height="8.66" fill="#0000e7"/><rect x="75.21" y="7.96" width="5.55" height="8.66" fill="#0000f7"/><rect x="80.06" y="7.96" width="3.13" height="8.66" fill="#0008ff"/><rect x="82.48" y="7.96" width="3.13" height="8.66" fill="#0028ff"/><rect x="84.91" y="7.96" width="3.13" height="8.66" fill="#0000e7"/><rect x="87.34" y="7.96" width="5.55" height="8.66" fill="#0000f7"/><rect x="92.19" y="7.96" width="12.83" height="8.66" fill="#0000e7"/><rect x="104.32" y="7.96" width="3.13" height="8.66" fill="#0000f7"/><rect x="106.74" y="7.96" width="3.13" height="8.66" fill="#0000e7"/><rect x="109.17" y="7.96" width="7.98" height="8.66" fill="#0000f7"/><rect x="116.45" y="7.96" width="3.13" height="8.66" fill="#0000e7"/><rect x="118.87" y="7.96" width="3.13" height="8.66" fill="#0000f7"/><rect x="121.30" y="7.96" width="3.13" height="8.66" fill="#0000e7"/><rect x="123.73" y="7.96" width="10.40" height="8.66" fill="#0000f7"/><rect x="133.43" y="7.96" width="10.40" height="8.66" fill="#0000e7"/><rect x="143.13" y="7.96" width="3.13" height="8.66" fill="#0000f7"/><rect x="145.56" y="7.96" width="7.98" height="8.66" fill="#0000e7"/><rect x="152.84" y="7.96" width="3.13" height="8.66" fill="#58ffa7"/><rect x="155.26" y="7.96" width="3.13" height="8.66" fill="#08fff7"/><rect x="157.69" y="7.96" width="3.13" height="8.66" fill="#58ffa7"/><rect x="160.12" y="7.96" width="3.13" height="8.66" fill="#fff700"/><rect x="162.54" y="7.96" width="3.13" height="8.66" fill="#ffb700"/><rect x="164.97" y="7.96" width="3.13" height="8.66" fill="#87ff78"/><rect x="167.39" y="7.96" width="5.55" height="8.66" fill="#fff700"/><rect x="172.25" y="7.96" width="3.13" height="8.66" fill="#ff0800"/><rect x="174.67" y="7.96" width="5.55" height="8.66" fill="#fff700"/><rect x="179.52" y="7.96" width="3.13" height="8.66" fill="#ffb700"/><rect x="181.95" y="7.96" width="3.13" height="8.66" fill="#fff700"/><rect x="184.38" y="7.96" width="3.13" height="8.66" fill="#ffc700"/><rect x="186.80" y="7.96" width="15.26" height="8.66" fill="#ffd700"/><rect x="201.36" y="7.96" width="3.13" height="8.66" fill="#ffb700"/><rect x="203.78" y="7.96" width="10.40" height="8.66" fill="#ffd700"/><rect x="213.49" y="7.96" width="3.13" height="8.66" fill="#ffe700"/><rect x="215.91" y="7.96" width="3.13" height="8.66" fill="#ffd700"/><rect x="218.34" y="7.96" width="3.13" height="8.66" fill="#ffe700"/><rect x="220.77" y="7.96" width="3.13" height="8.66" fill="#ffd700"/><rect x="223.19" y="7.96" width="3.13" height="8.66" fill="#ffe700"/><rect x="225.62" y="7.96" width="10.40" height="8.66" fill="#fff700"/><rect x="235.32" y="7.96" width="5.55" height="8.66" fill="#ffe700"/><rect x="240.17" y="7.96" width="3.13" height="8.66" fill="#fff700"/><rect x="0.00" y="15.92" width="3.13" height="8.66" fill="#0000f7"/><rect x="2.43" y="15.92" width="3.13" height="8.66" fill="#0000e7"/><rect x="4.85" y="15.92" width="3.13" height="8.66" fill="#0000f7"/><rect x="7.28" y="15.92" width="12.83" height="8.66" fill="#0000e7"/><rect x="19.41" y="15.92" width="10.40" height="8.66" fill="#0000f7"/><rect x="29.11" y="15.92" width="7.98" height="8.66" fill="#0000e7"/><rect x="36.39" y="15.92" width="3.13" height="8.66" fill="#0000f7"/><rect x="38.82" y="15.92" width="17.68" height="8.66" fill="#0000e7"/><rect x="55.80" y="15.92" width="3.13" height="8.66" fill="#0000d7"/><rect x="58.22" y="15.92" width="3.13" height="8.66" fill="#0000f7"/><rect x="60.65" y="15.92" width="10.40" height="8.66" fill="#0000e7"/><rect x="70.35" y="15.92" width="5.55" height="8.66" fill="#0000f7"/><rect x="75.21" y="15.92" width="3.13" height="8.66" fill="#0000e7"/><rect x="77.63" y="15.92" width="5.55" height="8.66" fill="#0000f7"/><rect x="82.48" y="15.92" width="3.13" height="8.66" fill="#0000e7"/><rect x="84.91" y="15.92" width="3.13" height="8.66" fill="#0000f7"/><rect x="87.34" y="15.92" width="37.09" height="8.66" fill="#0000e7"/><rect x="123.73" y="15.92" width="3.13" height="8.66" fill="#0000f7"/><rect x="126.15" y="15.92" width="5.55" height="8.66" fill="#0000e7"/><rect x="131.00" y="15.92" width="3.13" height="8.66" fill="#0000f7"/><rect x="133.43" y="15.92" width="3.13" height="8.66" fill="#0000e7"/><rect x="135.86" y="15.92" width="3.13" height="8.66" fill="#87ff78"/><rect x="138.28" y="15.92" width="3.13" height="8.66" fill="#0000e7"/><rect x="140.71" y="15.92" width="5.55" height="8.66" fill="#0000f7"/><rect x="145.56" y="15.92" width="3.13" height="8.66" fill="#0000e7"/><rect x="147.99" y="15.92" width="3.13" height="8.66" fill="#0038ff"/><rect x="150.41" y="15.92" width="5.55" height="8.66" fill="#c7ff38"/><rect x="155.26" y="15.92" width="3.13" height="8.66" fill="#fff700"/><rect x="157.69" y="15.92" width="3.13" height="8.66" fill="#87ff78"/><rect x="160.12" y="15.92" width="5.55" height="8.66" fill="#fff700"/><rect x="164.97" y="15.92" width="5.55" height="8.66" fill="#ffb700"/><rect x="169.82" y="15.92" width="3.13" height="8.66" fill="#fff700"/><rect x="172.25" y="15.92" width="3.13" height="8.66" fill="#87ff78"/><rect x="174.67" y="15.92" width="3.13" height="8.66" fill="#fff700"/><rect x="177.10" y="15.92" width="3.13" height="8.66" fill="#ffb700"/><rect x="179.52" y="15.92" width="3.13" height="8.66" fill="#ffd700"/><rect x="181.95" y="15.92" width="3.13" height="8.66" fill="#ffc700"/><rect x="184.38" y="15.92" width="3.13" height="8.66" fill="#ffd700"/><rect x="186.80" y="15.92" width="3.13" height="8.66" fill="#ffc700"/><rect x="189.23" y="15.92" width="5.55" height="8.66" fill="#ffd700"/><rect x="194.08" y="15.92" width="3.13" height="8.66" fill="#ffc700"/><rect x="196.51" y="15.92" width="3.13" height="8.66" fill="#ffe700"/><rect x="198.93" y="15.92" width="3.13" height="8.66" fill="#ffd700"/><rect x="201.36" y="15.92" width="3.13" height="8.66" fill="#ffc700"/><rect x="203.78" y="15.92" width="3.13" height="8.66" fill="#ffd700"/><rect x="206.21" y="15.92" width="3.13" height="8.66" fill="#ffc700"/><rect x="208.64" y="15.92" width="5.55" height="8.66" fill="#ffd700"/><rect x="213.49" y="15.92" width="7.98" height="8.66" fill="#ffe700"/><rect x="220.77" y="15.92" width="3.13" height="8.66" fill="#ffd700"/><rect x="223.19" y="15.92" width="5.55" height="8.66" fill="#ffe700"/><rect x="228.04" y="15.92" width="5.55" height="8.66" fill="#f7ff08"/><rect x="232.90" y="15.92" width="5.55" height="8.66" fill="#fff700"/><rect x="237.75" y="15.92" width="3.13" height="8.66" fill="#ffe700"/><rect x="240.17" y="15.92" width="3.13" height="8.66" fill="#fff700"/><rect x="0.00" y="23.88" width="7.98" height="8.66" fill="#0000e7"/><rect x="7.28" y="23.88" width="3.13" height="8.66" fill="#0000f7"/><rect x="9.70" y="23.88" width="3.13" height="8.66" fill="#0000e7"/><rect x="12.13" y="23.88" width="3.13" height="8.66" fill="#0000f7"/><rect x="14.56" y="23.88" width="5.55" height="8.66" fill="#0000e7"/><rect x="19.41" y="23.88" width="3.13" height="8.66" fill="#0038ff"/><rect x="21.83" y="23.88" width="3.13" height="8.66" fill="#0000f7"/><rect x="24.26" y="23.88" width="5.55" height="8.66" fill="#0000e7"/><rect x="29.11" y="23.88" width="3.13" height="8.66" fill="#0000f7"/><rect x="31.54" y="23.88" width="7.98" height="8.66" fill="#0000e7"/><rect x="38.82" y="23.88" width="3.13" height="8.66" fill="#0000d7"/><rect x="41.24" y="23.88" width="5.55" height="8.66" fill="#0000f7"/><rect x="46.09" y="23.88" width="5.55" height="8.66" fill="#0000e7"/><rect x="50.95" y="23.88" width="3.13" height="8.66" fill="#0000f7"/><rect x="53.37" y="23.88" width="3.13" height="8.66" fill="#0000e7"/><rect x="55.80" y="23.88" width="5.55" height="8.66" fill="#0000d7"/><rect x="60.65" y="23.88" width="5.55" height="8.66" fill="#0000e7"/><rect x="65.50" y="23.88" width="3.13" height="8.66" fill="#0000f7"/><rect x="67.93" y="23.88" width="7.98" height="8.66" fill="#0000e7"/><rect x="75.21" y="23.88" width="7.98" height="8.66" fill="#0000f7"/><rect x="82.48" y="23.88" width="15.26" height="8.66" fill="#0000e7"/><rect x="97.04" y="23.88" width="3.13" height="8.66" fill="#0038ff"/><rect x="99.47" y="23.88" width="5.55" height="8.66" fill="#0000f7"/><rect x="104.32" y="23.88" width="3.13" height="8.66" fill="#0000e7"/><rect x="106.74" y="23.88" width="3.13" height="8.66" fill="#0000f7"/><rect x="109.17" y="23.88" width="5.55" height="8.66" fill="#0000e7"/><rect x="114.02" y="23.88" width="7.98" height="8.66" fill="#0000f7"/><rect x="121.30" y="23.88" width="22.53" height="8.66" fill="#0000e7"/><rect x="143.13" y="23.88" width="3.13" height="8.66" fill="#08fff7"/><rect x="145.56" y="23.88" width="3.13" height="8.66" fill="#0000f7"/><rect x="147.99" y="23.88" width="3.13" height="8.66" fill="#58ffa7"/><rect x="150.41" y="23.88" width="3.13" height="8.66" fill="#c7ff38"/><rect x="152.84" y="23.88" width="3.13" height="8.66" fill="#fff700"/><rect x="155.26" y="23.88" width="3.13" height="8.66" fill="#c7ff38"/><rect x="157.69" y="23.88" width="5.55" height="8.66" fill="#fff700"/><rect x="162.54" y="23.88" width="3.13" height="8.66" fill="#ffb700"/><rect x="164.97" y="23.88" width="5.55" height="8.66" fill="#ffc700"/><rect x="169.82" y="23.88" width="3.13" height="8.66" fill="#ffd700"/><rect x="172.25" y="23.88" width="7.98" height="8.66" fill="#ffc700"/><rect x="179.52" y="23.88" width="3.13" height="8.66" fill="#ffd700"/><rect x="181.95" y="23.88" width="3.13" height="8.66" fill="#ffe700"/><rect x="184.38" y="23.88" width="7.98" height="8.66" fill="#ffd700"/><rect x="191.65" y="23.88" width="3.13" height="8.66" fill="#ffc700"/><rect x="194.08" y="23.88" width="5.55" height="8.66" fill="#ffd700"/><rect x="198.93" y="23.88" width="3.13" height="8.66" fill="#ffe700"/><rect x="201.36" y="23.88" width="3.13" height="8.66" fill="#ffc700"/><rect x="203.78" y="23.88" width="3.13" height="8.66" fill="#ffd700"/><rect x="206.21" y="23.88" width="3.13" height="8.66" fill="#ffc700"/><rect x="208.64" y="23.88" width="3.13" height="8.66" fill="#ffe700"/><rect x="211.06" y="23.88" width="3.13" height="8.66" fill="#ffd700"/><rect x="213.49" y="23.88" width="15.26" height="8.66" fill="#ffe700"/><rect x="228.04" y="23.88" width="7.98" height="8.66" fill="#fff700"/><rect x="235.32" y="23.88" width="5.55" height="8.66" fill="#ffe700"/><rect x="240.17" y="23.88" width="3.13" height="8.66" fill="#f7ff08"/><rect x="0.00" y="31.84" width="7.98" height="8.66" fill="#0000f7"/><rect x="7.28" y="31.84" width="10.40" height="8.66" fill="#0000e7"/><rect x="16.98" y="31.84" width="3.13" height="8.66" fill="#0000f7"/><rect x="19.41" y="31.84" width="5.55" height="8.66" fill="#0000e7"/><rect x="24.26" y="31.84" width="3.13" height="8.66" fill="#0000f7"/><rect x="26.69" y="31.84" width="5.55" height="8.66" fill="#0000e7"/><rect x="31.54" y="31.84" width="3.13" height="8.66" fill="#0008ff"/><rect x="33.96" y="31.84" width="5.55" height="8.66" fill="#0000e7"/><rect x="38.82" y="31.84" width="10.40" height="8.66" fill="#0000f7"/><rect x="48.52" y="31.84" width="5.55" height="8.66" fill="#0000e7"/><rect x="53.37" y="31.84" width="3.13" height="8.66" fill="#0000f7"/><rect x="55.80" y="31.84" width="7.98" height="8.66" fill="#0000e7"/><rect x="63.08" y="31.84" width="3.13" height="8.66" fill="#0000f7"/><rect x="65.50" y="31.84" width="12.83" height="8.66" fill="#0000e7"/><rect x="77.63" y="31.84" width="3.13" height="8.66" fill="#0000f7"/><rect x="80.06" y="31.84" width="3.13" height="8.66" fill="#0000e7"/><rect x="82.48" y="31.84" width="3.13" height="8.66" fill="#0000f7"/><rect x="84.91" y="31.84" width="3.13" height="8.66" fill="#0000e7"/><rect x="87.34" y="31.84" width="3.13" height="8.66" fill="#0000f7"/><rect x="89.76" y="31.84" width="5.55" height="8.66" fill="#0000e7"/><rect x="94.61" y="31.84" width="3.13" height="8.66" fill="#0000f7"/><rect x="97.04" y="31.84" width="3.13" height="8.66" fill="#0000e7"/><rect x="99.47" y="31.84" width="3.13" height="8.66" fill="#0038ff"/><rect x="101.89" y="31.84" width="3.13" height="8.66" fill="#0000f7"/><rect x="104.32" y="31.84" width="7.98" height="8.66" fill="#0000e7"/><rect x="111.60" y="31.84" width="5.55" height="8.66" fill="#0000f7"/><rect x="116.45" y="31.84" width="3.13" height="8.66" fill="#0000e7"/><rect x="118.87" y="31.84" width="3.13" height="8.66" fill="#0000f7"/><rect x="121.30" y="31.84" width="7.98" height="8.66" fill="#0000e7"/><rect x="128.58" y="31.84" width="3.13" height="8.66" fill="#58ffa7"/><rect x="131.00" y="31.84" width="7.98" height="8.66" fill="#0000e7"/><rect x="138.28" y="31.84" width="3.13" height="8.66" fill="#87ff78"/><rect x="140.71" y="31.84" width="5.55" height="8.66" fill="#0000e7"/><rect x="145.56" y="31.84" width="3.13" height="8.66" fill="#08fff7"/><rect x="147.99" y="31.84" width="3.13" height="8.66" fill="#fff700"/><rect x="150.41" y="31.84" width="3.13" height="8.66" fill="#c7ff38"/><rect x="152.84" y="31.84" width="3.13" height="8.66" fill="#87ff78"/><rect x="155.26" y="31.84" width="5.55" height="8.66" fill="#c7ff38"/><rect x="160.12" y="31.84" width="3.13" height="8.66" fill="#fff700"/><rect x="162.54" y="31.84" width="3.13" height="8.66" fill="#87ff78"/><rect x="164.97" y="31.84" width="3.13" height="8.66" fill="#c7ff38"/><rect x="167.39" y="31.84" width="3.13" height="8.66" fill="#ff5800"/><rect x="169.82" y="31.84" width="3.13" height="8.66" fill="#ffe700"/><rect x="172.25" y="31.84" width="5.55" height="8.66" fill="#ffc700"/><rect x="177.10" y="31.84" width="3.13" height="8.66" fill="#ffb700"/><rect x="179.52" y="31.84" width="5.55" height="8.66" fill="#ffd700"/><rect x="184.38" y="31.84" width="5.55" height="8.66" fill="#ffc700"/><rect x="189.23" y="31.84" width="3.13" height="8.66" fill="#ffd700"/><rect x="191.65" y="31.84" width="3.13" height="8.66" fill="#ffc700"/><rect x="194.08" y="31.84" width="3.13" height="8.66" fill="#ffd700"/><rect x="196.51" y="31.84" width="5.55" height="8.66" fill="#ffe700"/><rect x="201.36" y="31.84" width="3.13" height="8.66" fill="#ffc700"/><rect x="203.78" y="31.84" width="7.98" height="8.66" fill="#ffd700"/><rect x="211.06" y="31.84" width="3.13" height="8.66" fill="#ffc700"/><rect x="213.49" y="31.84" width="5.55" height="8.66" fill="#ffe700"/><rect x="218.34" y="31.84" width="3.13" height="8.66" fill="#ffd700"/><rect x="220.77" y="31.84" width="7.98" height="8.66" fill="#ffe700"/><rect x="228.04" y="31.84" width="7.98" height="8.66" fill="#fff700"/><rect x="235.32" y="31.84" width="3.13" height="8.66" fill="#ffe700"/><rect x="237.75" y="31.84" width="3.13" height="8.66" fill="#ff8700"/><rect x="240.17" y="31.84" width="3.13" height="8.66" fill="#f7ff08"/><rect x="0.00" y="39.80" width="3.13" height="8.66" fill="#0000e7"/><rect x="2.43" y="39.80" width="3.13" height="8.66" fill="#0000f7"/><rect x="4.85" y="39.80" width="12.83" height="8.66" fill="#0000e7"/><rect x="16.98" y="39.80" width="3.13" height="8.66" fill="#0000f7"/><rect x="19.41" y="39.80" width="7.98" height="8.66" fill="#0000e7"/><rect x="26.69" y="39.80" width="5.55" height="8.66" fill="#0000f7"/><rect x="31.54" y="39.80" width="5.55" height="8.66" fill="#0000e7"/><rect x="36.39" y="39.80" width="3.13" height="8.66" fill="#0000f7"/><rect x="38.82" y="39.80" width="5.55" height="8.66" fill="#0000e7"/><rect x="43.67" y="39.80" width="3.13" height="8.66" fill="#0000f7"/><rect x="46.09" y="39.80" width="12.83" height="8.66" fill="#0000e7"/><rect x="58.22" y="39.80" width="3.13" height="8.66" fill="#0008ff"/><rect x="60.65" y="39.80" width="20.11" height="8.66" fill="#0000e7"/><rect x="80.06" y="39.80" width="10.40" height="8.66" fill="#0000f7"/><rect x="89.76" y="39.80" width="3.13" height="8.66" fill="#0000e7"/><rect x="92.19" y="39.80" width="3.13" height="8.66" fill="#0000f7"/><rect x="94.61" y="39.80" width="3.13" height="8.66" fill="#0000e7"/><rect x="97.04" y="39.80" width="3.13" height="8.66" fill="#0000f7"/><rect x="99.47" y="39.80" width="3.13" height="8.66" fill="#0000e7"/><rect x="101.89" y="39.80" width="3.13" height="8.66" fill="#0000d7"/><rect x="104.32" y="39.80" width="10.40" height="8.66" fill="#0000e7"/><rect x="114.02" y="39.80" width="3.13" height="8.66" fill="#0000f7"/><rect x="116.45" y="39.80" width="10.40" height="8.66" fill="#0000e7"/><rect x="126.15" y="39.80" width="5.55" height="8.66" fill="#0000f7"/><rect x="131.00" y="39.80" width="5.55" height="8.66" fill="#0000e7"/><rect x="135.86" y="39.80" width="5.55" height="8.66" fill="#0000f7"/><rect x="140.71" y="39.80" width="3.13" height="8.66" fill="#0038ff"/><rect x="143.13" y="39.80" width="3.13" height="8.66" fill="#fff700"/><rect x="145.56" y="39.80" width="3.13" height="8.66" fill="#08fff7"/><rect x="147.99" y="39.80" width="3.13" height="8.66" fill="#c7ff38"/><rect x="150.41" y="39.80" width="3.13" height="8.66" fill="#87ff78"/><rect x="152.84" y="39.80" width="3.13" height="8.66" fill="#fff700"/><rect x="155.26" y="39.80" width="7.98" height="8.66" fill="#ffb700"/><rect x="162.54" y="39.80" width="3.13" height="8.66" fill="#fff700"/><rect x="164.97" y="39.80" width="3.13" height="8.66" fill="#ffb700"/><rect x="167.39" y="39.80" width="3.13" height="8.66" fill="#fff700"/><rect x="169.82" y="39.80" width="3.13" height="8.66" fill="#ffe700"/><rect x="172.25" y="39.80" width="3.13" height="8.66" fill="#ffd700"/><rect x="174.67" y="39.80" width="3.13" height="8.66" fill="#ffc700"/><rect x="177.10" y="39.80" width="3.13" height="8.66" fill="#ffb700"/><rect x="179.52" y="39.80" width="3.13" height="8.66" fill="#ffc700"/><rect x="181.95" y="39.80" width="3.13" height="8.66" fill="#ffd700"/><rect x="184.38" y="39.80" width="5.55" height="8.66" fill="#ffc700"/><rect x="189.23" y="39.80" width="3.13" height="8.66" fill="#ffd700"/><rect x="191.65" y="39.80" width="5.55" height="8.66" fill="#ffc700"/><rect x="196.51" y="39.80" width="3.13" height="8.66" fill="#ffd700"/><rect x="198.93" y="39.80" width="3.13" height="8.66" fill="#ffc700"/><rect x="201.36" y="39.80" width="3.13" height="8.66" fill="#ffd700"/><rect x="203.78" y="39.80" width="3.13" height="8.66" fill="#ffc700"/><rect x="206.21" y="39.80" width="7.98" height="8.66" fill="#ffd700"/><rect x="213.49" y="39.80" width="3.13" height="8.66" fill="#ffe700"/><rect x="215.91" y="39.80" width="3.13" height="8.66" fill="#ffd700"/><rect x="218.34" y="39.80" width="7.98" height="8.66" fill="#ffe700"/><rect x="225.62" y="39.80" width="10.40" height="8.66" fill="#fff700"/><rect x="235.32" y="39.80" width="5.55" height="8.66" fill="#ffe700"/><rect x="240.17" y="39.80" width="3.13" height="8.66" fill="#fff700"/><rect x="0.00" y="47.76" width="17.68" height="8.66" fill="#0000e7"/><rect x="16.98" y="47.76" width="7.98" height="8.66" fill="#0000f7"/><rect x="24.26" y="47.76" width="5.55" height="8.66" fill="#0000e7"/><rect x="29.11" y="47.76" width="7.98" height="8.66" fill="#0000f7"/><rect x="36.39" y="47.76" width="5.55" height="8.66" fill="#0000e7"/><rect x="41.24" y="47.76" width="3.13" height="8.66" fill="#0000f7"/><rect x="43.67" y="47.76" width="5.55" height="8.66" fill="#0000e7"/><rect x="48.52" y="47.76" width="5.55" height="8.66" fill="#0000f7"/><rect x="53.37" y="47.76" width="3.13" height="8.66" fill="#0000e7"/><rect x="55.80" y="47.76" width="3.13" height="8.66" fill="#0000d7"/><rect x="58.22" y="47.76" width="15.26" height="8.66" fill="#0000e7"/><rect x="72.78" y="47.76" width="5.55" height="8.66" fill="#0000f7"/><rect x="77.63" y="47.76" width="15.26" height="8.66" fill="#0000e7"/><rect x="92.19" y="47.76" width="3.13" height="8.66" fill="#0000f7"/><rect x="94.61" y="47.76" width="12.83" height="8.66" fill="#0000e7"/><rect x="106.74" y="47.76" width="5.55" height="8.66" fill="#0000f7"/><rect x="111.60" y="47.76" width="3.13" height="8.66" fill="#0008ff"/><rect x="114.02" y="47.76" width="3.13" height="8.66" fill="#0000f7"/><rect x="116.45" y="47.76" width="10.40" height="8.66" fill="#0000e7"/><rect x="126.15" y="47.76" width="5.55" height="8.66" fill="#0000f7"/><rect x="131.00" y="47.76" width="3.13" height="8.66" fill="#0000e7"/><rect x="133.43" y="47.76" width="7.98" height="8.66" fill="#fff700"/><rect x="140.71" y="47.76" width="3.13" height="8.66" fill="#c7ff38"/><rect x="143.13" y="47.76" width="3.13" height="8.66" fill="#fff700"/><rect x="145.56" y="47.76" width="3.13" height="8.66" fill="#c7ff38"/><rect x="147.99" y="47.76" width="3.13" height="8.66" fill="#87ff78"/><rect x="150.41" y="47.76" width="3.13" height="8.66" fill="#c7ff38"/><rect x="152.84" y="47.76" width="5.55" height="8.66" fill="#fff700"/><rect x="157.69" y="47.76" width="5.55" height="8.66" fill="#ffb700"/><rect x="162.54" y="47.76" width="5.55" height="8.66" fill="#ffc700"/><rect x="167.39" y="47.76" width="5.55" height="8.66" fill="#ffd700"/><rect x="172.25" y="47.76" width="3.13" height="8.66" fill="#ffb700"/><rect x="174.67" y="47.76" width="3.13" height="8.66" fill="#ffc700"/><rect x="177.10" y="47.76" width="3.13" height="8.66" fill="#ffb700"/><rect x="179.52" y="47.76" width="5.55" height="8.66" fill="#ffc700"/><rect x="184.38" y="47.76" width="5.55" height="8.66" fill="#ffd700"/><rect x="189.23" y="47.76" width="3.13" height="8.66" fill="#ffe700"/><rect x="191.65" y="47.76" width="3.13" height="8.66" fill="#ffc700"/><rect x="194.08" y="47.76" width="15.26" height="8.66" fill="#ffd700"/><rect x="208.64" y="47.76" width="3.13" height="8.66" fill="#ffe700"/><rect x="211.06" y="47.76" width="3.13" height="8.66" fill="#ffd700"/><rect x="213.49" y="47.76" width="15.26" height="8.66" fill="#ffe700"/><rect x="228.04" y="47.76" width="3.13" height="8.66" fill="#f7ff08"/><rect x="230.47" y="47.76" width="3.13" height="8.66" fill="#fff700"/><rect x="232.90" y="47.76" width="3.13" height="8.66" fill="#ff8700"/><rect x="235.32" y="47.76" width="3.13" height="8.66" fill="#fff700"/><rect x="237.75" y="47.76" width="3.13" height="8.66" fill="#ffe700"/><rect x="240.17" y="47.76" width="3.13" height="8.66" fill="#fff700"/><rect x="0.00" y="55.72" width="7.98" height="8.66" fill="#0000e7"/><rect x="7.28" y="55.72" width="3.13" height="8.66" fill="#0000f7"/><rect x="9.70" y="55.72" width="3.13" height="8.66" fill="#0000e7"/><rect x="12.13" y="55.72" width="3.13" height="8.66" fill="#0000f7"/><rect x="14.56" y="55.72" width="12.83" height="8.66" fill="#0000e7"/><rect x="26.69" y="55.72" width="5.55" height="8.66" fill="#0000f7"/><rect x="31.54" y="55.72" width="3.13" height="8.66" fill="#0000e7"/><rect x="33.96" y="55.72" width="3.13" height="8.66" fill="#0000f7"/><rect x="36.39" y="55.72" width="5.55" height="8.66" fill="#0000e7"/><rect x="41.24" y="55.72" width="5.55" height="8.66" fill="#0000f7"/><rect x="46.09" y="55.72" width="3.13" height="8.66" fill="#0000e7"/><rect x="48.52" y="55.72" width="3.13" height="8.66" fill="#0000f7"/><rect x="50.95" y="55.72" width="5.55" height="8.66" fill="#0000e7"/><rect x="55.80" y="55.72" width="5.55" height="8.66" fill="#0000f7"/><rect x="60.65" y="55.72" width="7.98" height="8.66" fill="#0000e7"/><rect x="67.93" y="55.72" width="3.13" height="8.66" fill="#0000f7"/><rect x="70.35" y="55.72" width="3.13" height="8.66" fill="#0000e7"/><rect x="72.78" y="55.72" width="3.13" height="8.66" fill="#0000f7"/><rect x="75.21" y="55.72" width="3.13" height="8.66" fill="#0000e7"/><rect x="77.63" y="55.72" width="5.55" height="8.66" fill="#0000f7"/><rect x="82.48" y="55.72" width="10.40" height="8.66" fill="#0000e7"/><rect x="92.19" y="55.72" width="3.13" height="8.66" fill="#0000f7"/><rect x="94.61" y="55.72" width="7.98" height="8.66" fill="#0000e7"/><rect x="101.89" y="55.72" width="5.55" height="8.66" fill="#0000f7"/><rect x="106.74" y="55.72" width="3.13" height="8.66" fill="#0000e7"/><rect x="109.17" y="55.72" width="3.13" height="8.66" fill="#0000f7"/><rect x="111.60" y="55.72" width="3.13" height="8.66" fill="#0000e7"/><rect x="114.02" y="55.72" width="3.13" height="8.66" fill="#0000f7"/><rect x="116.45" y="55.72" width="3.13" height="8.66" fill="#0000e7"/><rect x="118.87" y="55.72" width="3.13" height="8.66" fill="#0000f7"/><rect x="121.30" y="55.72" width="5.55" height="8.66" fill="#0000e7"/><rect x="126.15" y="55.72" width="3.13" height="8.66" fill="#c7ff38"/><rect x="128.58" y="55.72" width="3.13" height="8.66" fill="#08fff7"/><rect x="131.00" y="55.72" width="7.98" height="8.66" fill="#fff700"/><rect x="138.28" y="55.72" width="3.13" height="8.66" fill="#ffb700"/><rect x="140.71" y="55.72" width="3.13" height="8.66" fill="#c7ff38"/><rect x="143.13" y="55.72" width="3.13" height="8.66" fill="#87ff78"/><rect x="145.56" y="55.72" width="3.13" height="8.66" fill="#08fff7"/><rect x="147.99" y="55.72" width="3.13" height="8.66" fill="#c7ff38"/><rect x="150.41" y="55.72" width="5.55" height="8.66" fill="#fff700"/><rect x="155.26" y="55.72" width="3.13" height="8.66" fill="#ffb700"/><rect x="157.69" y="55.72" width="3.13" height="8.66" fill="#fff700"/><rect x="160.12" y="55.72" width="3.13" height="8.66" fill="#ff5800"/><rect x="162.54" y="55.72" width="3.13" height="8.66" fill="#ffb700"/><rect x="164.97" y="55.72" width="3.13" height="8.66" fill="#ffc700"/><rect x="167.39" y="55.72" width="3.13" height="8.66" fill="#ffd700"/><rect x="169.82" y="55.72" width="3.13" height="8.66" fill="#ffe700"/><rect x="172.25" y="55.72" width="5.55" height="8.66" fill="#ffd700"/><rect x="177.10" y="55.72" width="3.13" height="8.66" fill="#ffc700"/><rect x="179.52" y="55.72" width="3.13" height="8.66" fill="#ffb700"/><rect x="181.95" y="55.72" width="3.13" height="8.66" fill="#ffc700"/><rect x="184.38" y="55.72" width="3.13" height="8.66" fill="#ffd700"/><rect x="186.80" y="55.72" width="3.13" height="8.66" fill="#ffc700"/><rect x="189.23" y="55.72" width="3.13" height="8.66" fill="#ffe700"/><rect x="191.65" y="55.72" width="10.40" height="8.66" fill="#ffd700"/><rect x="201.36" y="55.72" width="3.13" height="8.66" fill="#ffc700"/><rect x="203.78" y="55.72" width="7.98" height="8.66" fill="#ffd700"/><rect x="211.06" y="55.72" width="3.13" height="8.66" fill="#ffc700"/><rect x="213.49" y="55.72" width="5.55" height="8.66" fill="#ffe700"/><rect x="218.34" y="55.72" width="5.55" height="8.66" fill="#ffd700"/><rect x="223.19" y="55.72" width="3.13" height="8.66" fill="#ffe700"/><rect x="225.62" y="55.72" width="3.13" height="8.66" fill="#ff8700"/><rect x="228.04" y="55.72" width="5.55" height="8.66" fill="#fff700"/><rect x="232.90" y="55.72" width="5.55" height="8.66" fill="#ffe700"/><rect x="237.75" y="55.72" width="3.13" height="8.66" fill="#ffd700"/><rect x="240.17" y="55.72" width="3.13" height="8.66" fill="#ff8700"/><rect x="0.00" y="63.68" width="3.13" height="8.66" fill="#0000e7"/><rect x="2.43" y="63.68" width="3.13" height="8.66" fill="#0000f7"/><rect x="4.85" y="63.68" width="7.98" height="8.66" fill="#0000e7"/><rect x="12.13" y="63.68" width="3.13" height="8.66" fill="#0000f7"/><rect x="14.56" y="63.68" width="7.98" height="8.66" fill="#0000e7"/><rect x="21.83" y="63.68" width="3.13" height="8.66" fill="#0000f7"/><rect x="24.26" y="63.68" width="3.13" height="8.66" fill="#0000e7"/><rect x="26.69" y="63.68" width="3.13" height="8.66" fill="#0000f7"/><rect x="29.11" y="63.68" width="32.24" height="8.66" fill="#0000e7"/><rect x="60.65" y="63.68" width="3.13" height="8.66" fill="#0000f7"/><rect x="63.08" y="63.68" width="3.13" height="8.66" fill="#0000d7"/><rect x="65.50" y="63.68" width="3.13" height="8.66" fill="#0000e7"/><rect x="67.93" y="63.68" width="3.13" height="8.66" fill="#0000f7"/><rect x="70.35" y="63.68" width="7.98" height="8.66" fill="#0000e7"/><rect x="77.63" y="63.68" width="3.13" height="8.66" fill="#0000f7"/><rect x="80.06" y="63.68" width="3.13" height="8.66" fill="#0000e7"/><rect x="82.48" y="63.68" width="3.13" height="8.66" fill="#0038ff"/><rect x="84.91" y="63.68" width="7.98" height="8.66" fill="#0000e7"/><rect x="92.19" y="63.68" width="3.13" height="8.66" fill="#0000f7"/><rect x="94.61" y="63.68" width="3.13" height="8.66" fill="#0000e7"/><rect x="97.04" y="63.68" width="3.13" height="8.66" fill="#0038ff"/><rect x="99.47" y="63.68" width="3.13" height="8.66" fill="#0000f7"/><rect x="101.89" y="63.68" width="7.98" height="8.66" fill="#0000e7"/><rect x="109.17" y="63.68" width="3.13" height="8.66" fill="#0097ff"/><rect x="111.60" y="63.68" width="3.13" height="8.66" fill="#0000f7"/><rect x="114.02" y="63.68" width="3.13" height="8.66" fill="#0000e7"/><rect x="116.45" y="63.68" width="3.13" height="8.66" fill="#fff700"/><rect x="118.87" y="63.68" width="10.40" height="8.66" fill="#0000e7"/><rect x="128.58" y="63.68" width="3.13" height="8.66" fill="#08fff7"/><rect x="131.00" y="63.68" width="3.13" height="8.66" fill="#58ffa7"/><rect x="133.43" y="63.68" width="3.13" height="8.66" fill="#87ff78"/><rect x="135.86" y="63.68" width="3.13" height="8.66" fill="#c7ff38"/><rect x="138.28" y="63.68" width="3.13" height="8.66" fill="#fff700"/><rect x="140.71" y="63.68" width="3.13" height="8.66" fill="#ffb700"/><rect x="143.13" y="63.68" width="3.13" height="8.66" fill="#fff700"/><rect x="145.56" y="63.68" width="3.13" height="8.66" fill="#ffb700"/><rect x="147.99" y="63.68" width="3.13" height="8.66" fill="#87ff78"/><rect x="150.41" y="63.68" width="3.13" height="8.66" fill="#fff700"/><rect x="152.84" y="63.68" width="3.13" height="8.66" fill="#c7ff38"/><rect x="155.26" y="63.68" width="3.13" height="8.66" fill="#ffb700"/><rect x="157.69" y="63.68" width="3.13" height="8.66" fill="#ffd700"/><rect x="160.12" y="63.68" width="5.55" height="8.66" fill="#ffc700"/><rect x="164.97" y="63.68" width="3.13" height="8.66" fill="#ffd700"/><rect x="167.39" y="63.68" width="3.13" height="8.66" fill="#ffc700"/><rect x="169.82" y="63.68" width="3.13" height="8.66" fill="#ffd700"/><rect x="172.25" y="63.68" width="3.13" height="8.66" fill="#ffb700"/><rect x="174.67" y="63.68" width="7.98" height="8.66" fill="#ffc700"/><rect x="181.95" y="63.68" width="5.55" height="8.66" fill="#ffd700"/><rect x="186.80" y="63.68" width="3.13" height="8.66" fill="#ffc700"/><rect x="189.23" y="63.68" width="3.13" height="8.66" fill="#ffe700"/><rect x="191.65" y="63.68" width="10.40" height="8.66" fill="#ffd700"/><rect x="201.36" y="63.68" width="3.13" height="8.66" fill="#ffc700"/><rect x="203.78" y="63.68" width="3.13" height="8.66" fill="#ffe700"/><rect x="206.21" y="63.68" width="7.98" height="8.66" fill="#ffd700"/><rect x="213.49" y="63.68" width="15.26" height="8.66" fill="#ffe700"/><rect x="228.04" y="63.68" width="7.98" height="8.66" fill="#fff700"/><rect x="235.32" y="63.68" width="5.55" height="8.66" fill="#ffe700"/><rect x="240.17" y="63.68" width="3.13" height="8.66" fill="#f7ff08"/><rect x="0.00" y="71.64" width="3.13" height="8.66" fill="#0000e7"/><rect x="2.43" y="71.64" width="3.13" height="8.66" fill="#0000f7"/><rect x="4.85" y="71.64" width="3.13" height="8.66" fill="#0000e7"/><rect x="7.28" y="71.64" width="5.55" height="8.66" fill="#0000f7"/><rect x="12.13" y="71.64" width="3.13" height="8.66" fill="#0000e7"/><rect x="14.56" y="71.64" width="3.13" height="8.66" fill="#0000f7"/><rect x="16.98" y="71.64" width="5.55" height="8.66" fill="#0000e7"/><rect x="21.83" y="71.64" width="5.55" height="8.66" fill="#0000f7"/><rect x="26.69" y="71.64" width="15.26" height="8.66" fill="#0000e7"/><rect x="41.24" y="71.64" width="3.13" height="8.66" fill="#0000f7"/><rect x="43.67" y="71.64" width="3.13" height="8.66" fill="#0000e7"/><rect x="46.09" y="71.64" width="3.13" height="8.66" fill="#0000f7"/><rect x="48.52" y="71.64" width="3.13" height="8.66" fill="#0000e7"/><rect x="50.95" y="71.64" width="3.13" height="8.66" fill="#0000f7"/><rect x="53.37" y="71.64" width="5.55" height="8.66" fill="#0000e7"/><rect x="58.22" y="71.64" width="3.13" height="8.66" fill="#0000f7"/><rect x="60.65" y="71.64" width="5.55" height="8.66" fill="#0000e7"/><rect x="65.50" y="71.64" width="3.13" height="8.66" fill="#0038ff"/><rect x="67.93" y="71.64" width="5.55" height="8.66" fill="#0000e7"/><rect x="72.78" y="71.64" width="3.13" height="8.66" fill="#0000f7"/><rect x="75.21" y="71.64" width="3.13" height="8.66" fill="#0000e7"/><rect x="77.63" y="71.64" width="3.13" height="8.66" fill="#0000f7"/><rect x="80.06" y="71.64" width="10.40" height="8.66" fill="#0000e7"/><rect x="89.76" y="71.64" width="3.13" height="8.66" fill="#0000f7"/><rect x="92.19" y="71.64" width="5.55" height="8.66" fill="#0000e7"/><rect x="97.04" y="71.64" width="5.55" height="8.66" fill="#0000f7"/><rect x="101.89" y="71.64" width="5.55" height="8.66" fill="#0000e7"/><rect x="106.74" y="71.64" width="3.13" height="8.66" fill="#0028ff"/><rect x="109.17" y="71.64" width="3.13" height="8.66" fill="#0000f7"/><rect x="111.60" y="71.64" width="3.13" height="8.66" fill="#0000e7"/><rect x="114.02" y="71.64" width="3.13" height="8.66" fill="#fff700"/><rect x="116.45" y="71.64" width="5.55" height="8.66" fill="#0000e7"/><rect x="121.30" y="71.64" width="3.13" height="8.66" fill="#87ff78"/><rect x="123.73" y="71.64" width="3.13" height="8.66" fill="#58ffa7"/><rect x="126.15" y="71.64" width="3.13" height="8.66" fill="#08fff7"/><rect x="128.58" y="71.64" width="3.13" height="8.66" fill="#87ff78"/><rect x="131.00" y="71.64" width="3.13" height="8.66" fill="#fff700"/><rect x="133.43" y="71.64" width="3.13" height="8.66" fill="#c7ff38"/><rect x="135.86" y="71.64" width="7.98" height="8.66" fill="#fff700"/><rect x="143.13" y="71.64" width="3.13" height="8.66" fill="#ffb700"/><rect x="145.56" y="71.64" width="3.13" height="8.66" fill="#ffc700"/><rect x="147.99" y="71.64" width="3.13" height="8.66" fill="#ffd700"/><rect x="150.41" y="71.64" width="3.13" height="8.66" fill="#ffb700"/><rect x="152.84" y="71.64" width="3.13" height="8.66" fill="#ff8700"/><rect x="155.26" y="71.64" width="5.55" height="8.66" fill="#ffd700"/><rect x="160.12" y="71.64" width="3.13" height="8.66" fill="#ffc700"/><rect x="162.54" y="71.64" width="3.13" height="8.66" fill="#ffb700"/><rect x="164.97" y="71.64" width="3.13" height="8.66" fill="#ff8700"/><rect x="167.39" y="71.64" width="3.13" height="8.66" fill="#ffc700"/><rect x="169.82" y="71.64" width="3.13" height="8.66" fill="#ffd700"/><rect x="172.25" y="71.64" width="10.40" height="8.66" fill="#ffc700"/><rect x="181.95" y="71.64" width="3.13" height="8.66" fill="#ffd700"/><rect x="184.38" y="71.64" width="5.55" height="8.66" fill="#ffc700"/><rect x="189.23" y="71.64" width="12.83" height="8.66" fill="#ffd700"/><rect x="201.36" y="71.64" width="3.13" height="8.66" fill="#ffc700"/><rect x="203.78" y="71.64" width="3.13" height="8.66" fill="#ffd700"/><rect x="206.21" y="71.64" width="7.98" height="8.66" fill="#ffc700"/><rect x="213.49" y="71.64" width="3.13" height="8.66" fill="#ffe700"/><rect x="215.91" y="71.64" width="3.13" height="8.66" fill="#ffd700"/><rect x="218.34" y="71.64" width="3.13" height="8.66" fill="#ffe700"/><rect x="220.77" y="71.64" width="5.55" height="8.66" fill="#ffd700"/><rect x="225.62" y="71.64" width="3.13" height="8.66" fill="#fff700"/><rect x="228.04" y="71.64" width="5.55" height="8.66" fill="#ffe700"/><rect x="232.90" y="71.64" width="5.55" height="8.66" fill="#fff700"/><rect x="237.75" y="71.64" width="3.13" height="8.66" fill="#ffe700"/><rect x="240.17" y="71.64" width="3.13" height="8.66" fill="#fff700"/><rect x="0.00" y="79.60" width="3.13" height="8.66" fill="#0000e7"/><rect x="2.43" y="79.60" width="5.55" height="8.66" fill="#0000f7"/><rect x="7.28" y="79.60" width="7.98" height="8.66" fill="#0000e7"/><rect x="14.56" y="79.60" width="3.13" height="8.66" fill="#0000f7"/><rect x="16.98" y="79.60" width="3.13" height="8.66" fill="#0000d7"/><rect x="19.41" y="79.60" width="7.98" height="8.66" fill="#0000e7"/><rect x="26.69" y="79.60" width="3.13" height="8.66" fill="#0000f7"/><rect x="29.11" y="79.60" width="5.55" height="8.66" fill="#0000e7"/><rect x="33.96" y="79.60" width="3.13" height="8.66" fill="#0000f7"/><rect x="36.39" y="79.60" width="5.55" height="8.66" fill="#0000e7"/><rect x="41.24" y="79.60" width="3.13" height="8.66" fill="#0000f7"/><rect x="43.67" y="79.60" width="3.13" height="8.66" fill="#0000e7"/><rect x="46.09" y="79.60" width="3.13" height="8.66" fill="#0000f7"/><rect x="48.52" y="79.60" width="3.13" height="8.66" fill="#0000d7"/><rect x="50.95" y="79.60" width="5.55" height="8.66" fill="#0000f7"/><rect x="55.80" y="79.60" width="3.13" height="8.66" fill="#0000e7"/><rect x="58.22" y="79.60" width="5.55" height="8.66" fill="#0000f7"/><rect x="63.08" y="79.60" width="3.13" height="8.66" fill="#0000e7"/><rect x="65.50" y="79.60" width="3.13" height="8.66" fill="#0000f7"/><rect x="67.93" y="79.60" width="7.98" height="8.66" fill="#0000e7"/><rect x="75.21" y="79.60" width="5.55" height="8.66" fill="#0000f7"/><rect x="80.06" y="79.60" width="3.13" height="8.66" fill="#0000e7"/><rect x="82.48" y="79.60" width="3.13" height="8.66" fill="#0000f7"/><rect x="84.91" y="79.60" width="3.13" height="8.66" fill="#0000e7"/><rect x="87.34" y="79.60" width="5.55" height="8.66" fill="#0000f7"/><rect x="92.19" y="79.60" width="3.13" height="8.66" fill="#0000e7"/><rect x="94.61" y="79.60" width="3.13" height="8.66" fill="#0000f7"/><rect x="97.04" y="79.60" width="12.83" height="8.66" fill="#0000e7"/><rect x="109.17" y="79.60" width="3.13" height="8.66" fill="#0000d7"/><rect x="111.60" y="79.60" width="3.13" height="8.66" fill="#0000e7"/><rect x="114.02" y="79.60" width="3.13" height="8.66" fill="#0000f7"/><rect x="116.45" y="79.60" width="3.13" height="8.66" fill="#87ff78"/><rect x="118.87" y="79.60" width="3.13" height="8.66" fill="#fff700"/><rect x="121.30" y="79.60" width="3.13" height="8.66" fill="#c7ff38"/><rect x="123.73" y="79.60" width="3.13" height="8.66" fill="#fff700"/><rect x="126.15" y="79.60" width="3.13" height="8.66" fill="#ffb700"/><rect x="128.58" y="79.60" width="3.13" height="8.66" fill="#fff700"/><rect x="131.00" y="79.60" width="3.13" height="8.66" fill="#ffb700"/><rect x="133.43" y="79.60" width="3.13" height="8.66" fill="#fff700"/><rect x="135.86" y="79.60" width="3.13" height="8.66" fill="#ffb700"/><rect x="138.28" y="79.60" width="3.13" height="8.66" fill="#fff700"/><rect x="140.71" y="79.60" width="3.13" height="8.66" fill="#ffc700"/><rect x="143.13" y="79.60" width="3.13" height="8.66" fill="#ffd700"/><rect x="145.56" y="79.60" width="17.68" height="8.66" fill="#ffc700"/><rect x="162.54" y="79.60" width="3.13" height="8.66" fill="#ffb700"/><rect x="164.97" y="79.60" width="3.13" height="8.66" fill="#ffd700"/><rect x="167.39" y="79.60" width="3.13" height="8.66" fill="#ffc700"/><rect x="169.82" y="79.60" width="3.13" height="8.66" fill="#ffe700"/><rect x="172.25" y="79.60" width="3.13" height="8.66" fill="#ffb700"/><rect x="174.67" y="79.60" width="3.13" height="8.66" fill="#ffc700"/><rect x="177.10" y="79.60" width="3.13" height="8.66" fill="#ffb700"/><rect x="179.52" y="79.60" width="3.13" height="8.66" fill="#ffd700"/><rect x="181.95" y="79.60" width="7.98" height="8.66" fill="#ffc700"/><rect x="189.23" y="79.60" width="3.13" height="8.66" fill="#ffd700"/><rect x="191.65" y="79.60" width="7.98" height="8.66" fill="#ffc700"/><rect x="198.93" y="79.60" width="3.13" height="8.66" fill="#ffd700"/><rect x="201.36" y="79.60" width="5.55" height="8.66" fill="#ffc700"/><rect x="206.21" y="79.60" width="7.98" height="8.66" fill="#ffd700"/><rect x="213.49" y="79.60" width="5.55" height="8.66" fill="#ffe700"/><rect x="218.34" y="79.60" width="5.55" height="8.66" fill="#ffd700"/><rect x="223.19" y="79.60" width="7.98" height="8.66" fill="#ffe700"/><rect x="230.47" y="79.60" width="3.13" height="8.66" fill="#fff700"/><rect x="232.90" y="79.60" width="3.13" height="8.66" fill="#f7ff08"/><rect x="235.32" y="79.60" width="3.13" height="8.66" fill="#ffe700"/><rect x="237.75" y="79.60" width="3.13" height="8.66" fill="#ffd700"/><rect x="240.17" y="79.60" width="3.13" height="8.66" fill="#fff700"/><rect x="0.00" y="87.56" width="20.11" height="8.66" fill="#0000e7"/><rect x="19.41" y="87.56" width="5.55" height="8.66" fill="#0000f7"/><rect x="24.26" y="87.56" width="10.40" height="8.66" fill="#0000e7"/><rect x="33.96" y="87.56" width="3.13" height="8.66" fill="#0000f7"/><rect x="36.39" y="87.56" width="17.68" height="8.66" fill="#0000e7"/><rect x="53.37" y="87.56" width="7.98" height="8.66" fill="#0000f7"/><rect x="60.65" y="87.56" width="5.55" height="8.66" fill="#0000e7"/><rect x="65.50" y="87.56" width="3.13" height="8.66" fill="#0000f7"/><rect x="67.93" y="87.56" width="7.98" height="8.66" fill="#0000e7"/><rect x="75.21" y="87.56" width="3.13" height="8.66" fill="#0000d7"/><rect x="77.63" y="87.56" width="5.55" height="8.66" fill="#0000f7"/><rect x="82.48" y="87.56" width="10.40" height="8.66" fill="#0000e7"/><rect x="92.19" y="87.56" width="3.13" height="8.66" fill="#0000f7"/><rect x="94.61" y="87.56" width="3.13" height="8.66" fill="#0008ff"/><rect x="97.04" y="87.56" width="17.68" height="8.66" fill="#0000e7"/><rect x="114.02" y="87.56" width="5.55" height="8.66" fill="#08fff7"/><rect x="118.87" y="87.56" width="3.13" height="8.66" fill="#58ffa7"/><rect x="121.30" y="87.56" width="3.13" height="8.66" fill="#ffb700"/><rect x="123.73" y="87.56" width="3.13" height="8.66" fill="#fff700"/><rect x="126.15" y="87.56" width="3.13" height="8.66" fill="#ffb700"/><rect x="128.58" y="87.56" width="3.13" height="8.66" fill="#fff700"/><rect x="131.00" y="87.56" width="3.13" height="8.66" fill="#ffb700"/><rect x="133.43" y="87.56" width="3.13" height="8.66" fill="#fff700"/><rect x="135.86" y="87.56" width="3.13" height="8.66" fill="#ffb700"/><rect x="138.28" y="87.56" width="3.13" height="8.66" fill="#fff700"/><rect x="140.71" y="87.56" width="3.13" height="8.66" fill="#ffb700"/><rect x="143.13" y="87.56" width="5.55" height="8.66" fill="#ff5800"/><rect x="147.99" y="87.56" width="7.98" height="8.66" fill="#ffc700"/><rect x="155.26" y="87.56" width="5.55" height="8.66" fill="#ffd700"/><rect x="160.12" y="87.56" width="3.13" height="8.66" fill="#ffb700"/><rect x="162.54" y="87.56" width="3.13" height="8.66" fill="#ffd700"/><rect x="164.97" y="87.56" width="3.13" height="8.66" fill="#ffc700"/><rect x="167.39" y="87.56" width="5.55" height="8.66" fill="#ffd700"/><rect x="172.25" y="87.56" width="3.13" height="8.66" fill="#ffc700"/><rect x="174.67" y="87.56" width="3.13" height="8.66" fill="#ffd700"/><rect x="177.10" y="87.56" width="12.83" height="8.66" fill="#ffc700"/><rect x="189.23" y="87.56" width="12.83" height="8.66" fill="#ffd700"/><rect x="201.36" y="87.56" width="3.13" height="8.66" fill="#ffc700"/><rect x="203.78" y="87.56" width="3.13" height="8.66" fill="#ffe700"/><rect x="206.21" y="87.56" width="7.98" height="8.66" fill="#ffd700"/><rect x="213.49" y="87.56" width="7.98" height="8.66" fill="#ffe700"/><rect x="220.77" y="87.56" width="3.13" height="8.66" fill="#ffd700"/><rect x="223.19" y="87.56" width="3.13" height="8.66" fill="#ffe700"/><rect x="225.62" y="87.56" width="3.13" height="8.66" fill="#ffd700"/><rect x="228.04" y="87.56" width="7.98" height="8.66" fill="#fff700"/><rect x="235.32" y="87.56" width="5.55" height="8.66" fill="#ffe700"/><rect x="240.17" y="87.56" width="3.13" height="8.66" fill="#fff700"/><rect x="0.00" y="95.52" width="5.55" height="8.66" fill="#0000e7"/><rect x="4.85" y="95.52" width="3.13" height="8.66" fill="#0028ff"/><rect x="7.28" y="95.52" width="7.98" height="8.66" fill="#0000e7"/><rect x="14.56" y="95.52" width="3.13" height="8.66" fill="#0000f7"/><rect x="16.98" y="95.52" width="5.55" height="8.66" fill="#0000e7"/><rect x="21.83" y="95.52" width="5.55" height="8.66" fill="#0000f7"/><rect x="26.69" y="95.52" width="5.55" height="8.66" fill="#0000e7"/><rect x="31.54" y="95.52" width="3.13" height="8.66" fill="#0000f7"/><rect x="33.96" y="95.52" width="5.55" height="8.66" fill="#0000e7"/><rect x="38.82" y="95.52" width="3.13" height="8.66" fill="#0000f7"/><rect x="41.24" y="95.52" width="3.13" height="8.66" fill="#0000e7"/><rect x="43.67" y="95.52" width="5.55" height="8.66" fill="#0000f7"/><rect x="48.52" y="95.52" width="15.26" height="8.66" fill="#0000e7"/><rect x="63.08" y="95.52" width="3.13" height="8.66" fill="#0000d7"/><rect x="65.50" y="95.52" width="5.55" height="8.66" fill="#0000e7"/><rect x="70.35" y="95.52" width="7.98" height="8.66" fill="#0000f7"/><rect x="77.63" y="95.52" width="3.13" height="8.66" fill="#0028ff"/><rect x="80.06" y="95.52" width="3.13" height="8.66" fill="#0000e7"/><rect x="82.48" y="95.52" width="3.13" height="8.66" fill="#0000f7"/><rect x="84.91" y="95.52" width="3.13" height="8.66" fill="#0000d7"/><rect x="87.34" y="95.52" width="3.13" height="8.66" fill="#0008ff"/><rect x="89.76" y="95.52" width="3.13" height="8.66" fill="#0000e7"/><rect x="92.19" y="95.52" width="3.13" height="8.66" fill="#0000f7"/><rect x="94.61" y="95.52" width="3.13" height="8.66" fill="#0000d7"/><rect x="97.04" y="95.52" width="5.55" height="8.66" fill="#0000e7"/><rect x="101.89" y="95.52" width="7.98" height="8.66" fill="#0000f7"/><rect x="109.17" y="95.52" width="3.13" height="8.66" fill="#0000e7"/><rect x="111.60" y="95.52" width="3.13" height="8.66" fill="#ffb700"/><rect x="114.02" y="95.52" width="5.55" height="8.66" fill="#0097ff"/><rect x="118.87" y="95.52" width="3.13" height="8.66" fill="#0000e7"/><rect x="121.30" y="95.52" width="7.98" height="8.66" fill="#fff700"/><rect x="128.58" y="95.52" width="3.13" height="8.66" fill="#ffb700"/><rect x="131.00" y="95.52" width="3.13" height="8.66" fill="#fff700"/><rect x="133.43" y="95.52" width="3.13" height="8.66" fill="#ffb700"/><rect x="135.86" y="95.52" width="3.13" height="8.66" fill="#fff700"/><rect x="138.28" y="95.52" width="5.55" height="8.66" fill="#ff7800"/><rect x="143.13" y="95.52" width="3.13" height="8.66" fill="#ff5800"/><rect x="145.56" y="95.52" width="3.13" height="8.66" fill="#ff7800"/><rect x="147.99" y="95.52" width="3.13" height="8.66" fill="#ff8700"/><rect x="150.41" y="95.52" width="3.13" height="8.66" fill="#ff9700"/><rect x="152.84" y="95.52" width="3.13" height="8.66" fill="#ffb700"/><rect x="155.26" y="95.52" width="3.13" height="8.66" fill="#ffc700"/><rect x="157.69" y="95.52" width="5.55" height="8.66" fill="#ffd700"/><rect x="162.54" y="95.52" width="3.13" height="8.66" fill="#ffb700"/><rect x="164.97" y="95.52" width="5.55" height="8.66" fill="#ffc700"/><rect x="169.82" y="95.52" width="3.13" height="8.66" fill="#ffd700"/><rect x="172.25" y="95.52" width="12.83" height="8.66" fill="#ffc700"/><rect x="184.38" y="95.52" width="3.13" height="8.66" fill="#ffd700"/><rect x="186.80" y="95.52" width="3.13" height="8.66" fill="#ffc700"/><rect x="189.23" y="95.52" width="5.55" height="8.66" fill="#ffd700"/><rect x="194.08" y="95.52" width="5.55" height="8.66" fill="#ffe700"/><rect x="198.93" y="95.52" width="3.13" height="8.66" fill="#ffd700"/><rect x="201.36" y="95.52" width="3.13" height="8.66" fill="#ffc700"/><rect x="203.78" y="95.52" width="3.13" height="8.66" fill="#ffe700"/><rect x="206.21" y="95.52" width="3.13" height="8.66" fill="#ffd700"/><rect x="208.64" y="95.52" width="3.13" height="8.66" fill="#ffe700"/><rect x="211.06" y="95.52" width="3.13" height="8.66" fill="#ffd700"/><rect x="213.49" y="95.52" width="15.26" height="8.66" fill="#ffe700"/><rect x="228.04" y="95.52" width="3.13" height="8.66" fill="#fff700"/><rect x="230.47" y="95.52" width="3.13" height="8.66" fill="#ffe700"/><rect x="232.90" y="95.52" width="3.13" height="8.66" fill="#fff700"/><rect x="235.32" y="95.52" width="3.13" height="8.66" fill="#ffe700"/><rect x="237.75" y="95.52" width="3.13" height="8.66" fill="#ffd700"/><rect x="240.17" y="95.52" width="3.13" height="8.66" fill="#f7ff08"/><rect x="0.00" y="103.48" width="3.13" height="8.66" fill="#0000f7"/><rect x="2.43" y="103.48" width="3.13" height="8.66" fill="#0000e7"/><rect x="4.85" y="103.48" width="7.98" height="8.66" fill="#0000f7"/><rect x="12.13" y="103.48" width="5.55" height="8.66" fill="#0000e7"/><rect x="16.98" y="103.48" width="5.55" height="8.66" fill="#0000f7"/><rect x="21.83" y="103.48" width="3.13" height="8.66" fill="#0028ff"/><rect x="24.26" y="103.48" width="3.13" height="8.66" fill="#0000e7"/><rect x="26.69" y="103.48" width="3.13" height="8.66" fill="#0000f7"/><rect x="29.11" y="103.48" width="12.83" height="8.66" fill="#0000e7"/><rect x="41.24" y="103.48" width="3.13" height="8.66" fill="#0000f7"/><rect x="43.67" y="103.48" width="15.26" height="8.66" fill="#0000e7"/><rect x="58.22" y="103.48" width="3.13" height="8.66" fill="#0000f7"/><rect x="60.65" y="103.48" width="17.68" height="8.66" fill="#0000e7"/><rect x="77.63" y="103.48" width="3.13" height="8.66" fill="#0000f7"/><rect x="80.06" y="103.48" width="3.13" height="8.66" fill="#0000e7"/><rect x="82.48" y="103.48" width="3.13" height="8.66" fill="#0000f7"/><rect x="84.91" y="103.48" width="22.53" height="8.66" fill="#0000e7"/><rect x="106.74" y="103.48" width="3.13" height="8.66" fill="#0097ff"/><rect x="109.17" y="103.48" width="3.13" height="8.66" fill="#08fff7"/><rect x="111.60" y="103.48" width="3.13" height="8.66" fill="#58ffa7"/><rect x="114.02" y="103.48" width="3.13" height="8.66" fill="#ffb700"/><rect x="116.45" y="103.48" width="3.13" height="8.66" fill="#fff700"/><rect x="118.87" y="103.48" width="3.13" height="8.66" fill="#ffb700"/><rect x="121.30" y="103.48" width="5.55" height="8.66" fill="#ff5800"/><rect x="126.15" y="103.48" width="5.55" height="8.66" fill="#ffb700"/><rect x="131.00" y="103.48" width="3.13" height="8.66" fill="#fff700"/><rect x="133.43" y="103.48" width="3.13" height="8.66" fill="#ffb700"/><rect x="135.86" y="103.48" width="3.13" height="8.66" fill="#ff5800"/><rect x="138.28" y="103.48" width="5.55" height="8.66" fill="#ff6800"/><rect x="143.13" y="103.48" width="3.13" height="8.66" fill="#ff4800"/><rect x="145.56" y="103.48" width="3.13" height="8.66" fill="#ff6800"/><rect x="147.99" y="103.48" width="5.55" height="8.66" fill="#ff8700"/><rect x="152.84" y="103.48" width="3.13" height="8.66" fill="#ffa700"/><rect x="155.26" y="103.48" width="7.98" height="8.66" fill="#ffc700"/><rect x="162.54" y="103.48" width="3.13" height="8.66" fill="#ffb700"/><rect x="164.97" y="103.48" width="3.13" height="8.66" fill="#ffd700"/><rect x="167.39" y="103.48" width="3.13" height="8.66" fill="#ffb700"/><rect x="169.82" y="103.48" width="3.13" height="8.66" fill="#ffd700"/><rect x="172.25" y="103.48" width="10.40" height="8.66" fill="#ffc700"/><rect x="181.95" y="103.48" width="7.98" height="8.66" fill="#ffd700"/><rect x="189.23" y="103.48" width="3.13" height="8.66" fill="#ffe700"/><rect x="191.65" y="103.48" width="10.40" height="8.66" fill="#ffd700"/><rect x="201.36" y="103.48" width="5.55" height="8.66" fill="#ffc700"/><rect x="206.21" y="103.48" width="3.13" height="8.66" fill="#ffe700"/><rect x="208.64" y="103.48" width="7.98" height="8.66" fill="#ffd700"/><rect x="215.91" y="103.48" width="7.98" height="8.66" fill="#ffe700"/><rect x="223.19" y="103.48" width="3.13" height="8.66" fill="#ffd700"/><rect x="225.62" y="103.48" width="3.13" height="8.66" fill="#ffe700"/><rect x="228.04" y="103.48" width="7.98" height="8.66" fill="#fff700"/><rect x="235.32" y="103.48" width="3.13" height="8.66" fill="#ffe700"/><rect x="237.75" y="103.48" width="5.55" height="8.66" fill="#fff700"/><rect x="0.00" y="111.44" width="10.40" height="8.66" fill="#0000f7"/><rect x="9.70" y="111.44" width="3.13" height="8.66" fill="#0008ff"/><rect x="12.13" y="111.44" width="5.55" height="8.66" fill="#0000f7"/><rect x="16.98" y="111.44" width="5.55" height="8.66" fill="#0000e7"/><rect x="21.83" y="111.44" width="17.68" height="8.66" fill="#0000f7"/><rect x="38.82" y="111.44" width="3.13" height="8.66" fill="#0000e7"/><rect x="41.24" y="111.44" width="7.98" height="8.66" fill="#0000f7"/><rect x="48.52" y="111.44" width="3.13" height="8.66" fill="#0008ff"/><rect x="50.95" y="111.44" width="3.13" height="8.66" fill="#0000f7"/><rect x="53.37" y="111.44" width="3.13" height="8.66" fill="#0008ff"/><rect x="55.80" y="111.44" width="7.98" height="8.66" fill="#0000f7"/><rect x="63.08" y="111.44" width="3.13" height="8.66" fill="#0000e7"/><rect x="65.50" y="111.44" width="3.13" height="8.66" fill="#0038ff"/><rect x="67.93" y="111.44" width="3.13" height="8.66" fill="#0000f7"/><rect x="70.35" y="111.44" width="3.13" height="8.66" fill="#0000e7"/><rect x="72.78" y="111.44" width="5.55" height="8.66" fill="#0000f7"/><rect x="77.63" y="111.44" width="3.13" height="8.66" fill="#0008ff"/><rect x="80.06" y="111.44" width="3.13" height="8.66" fill="#0000f7"/><rect x="82.48" y="111.44" width="3.13" height="8.66" fill="#0000e7"/><rect x="84.91" y="111.44" width="7.98" height="8.66" fill="#0000f7"/><rect x="92.19" y="111.44" width="3.13" height="8.66" fill="#0000e7"/><rect x="94.61" y="111.44" width="3.13" height="8.66" fill="#0008ff"/><rect x="97.04" y="111.44" width="3.13" height="8.66" fill="#0000f7"/><rect x="99.47" y="111.44" width="3.13" height="8.66" fill="#0008ff"/><rect x="101.89" y="111.44" width="7.98" height="8.66" fill="#0000f7"/><rect x="109.17" y="111.44" width="3.13" height="8.66" fill="#fff700"/><rect x="111.60" y="111.44" width="3.13" height="8.66" fill="#58ffa7"/><rect x="114.02" y="111.44" width="3.13" height="8.66" fill="#ffb700"/><rect x="116.45" y="111.44" width="3.13" height="8.66" fill="#ff5800"/><rect x="118.87" y="111.44" width="3.13" height="8.66" fill="#ffb700"/><rect x="121.30" y="111.44" width="3.13" height="8.66" fill="#fff700"/><rect x="123.73" y="111.44" width="5.55" height="8.66" fill="#ffb700"/><rect x="128.58" y="111.44" width="3.13" height="8.66" fill="#ff5800"/><rect x="131.00" y="111.44" width="3.13" height="8.66" fill="#fff700"/><rect x="133.43" y="111.44" width="3.13" height="8.66" fill="#ffb700"/><rect x="135.86" y="111.44" width="3.13" height="8.66" fill="#ff3800"/><rect x="138.28" y="111.44" width="3.13" height="8.66" fill="#ff2800"/><rect x="140.71" y="111.44" width="3.13" height="8.66" fill="#ff5800"/><rect x="143.13" y="111.44" width="3.13" height="8.66" fill="#ff3800"/><rect x="145.56" y="111.44" width="3.13" height="8.66" fill="#ff4800"/><rect x="147.99" y="111.44" width="3.13" height="8.66" fill="#ff3800"/><rect x="150.41" y="111.44" width="3.13" height="8.66" fill="#ff5800"/><rect x="152.84" y="111.44" width="3.13" height="8.66" fill="#ff6800"/><rect x="155.26" y="111.44" width="5.55" height="8.66" fill="#ff8700"/><rect x="160.12" y="111.44" width="3.13" height="8.66" fill="#ffb700"/><rect x="162.54" y="111.44" width="7.98" height="8.66" fill="#ffc700"/><rect x="169.82" y="111.44" width="3.13" height="8.66" fill="#ffe700"/><rect x="172.25" y="111.44" width="3.13" height="8.66" fill="#ffd700"/><rect x="174.67" y="111.44" width="3.13" height="8.66" fill="#ffc700"/><rect x="177.10" y="111.44" width="3.13" height="8.66" fill="#ffb700"/><rect x="179.52" y="111.44" width="3.13" height="8.66" fill="#ffc700"/><rect x="181.95" y="111.44" width="5.55" height="8.66" fill="#ffd700"/><rect x="186.80" y="111.44" width="3.13" height="8.66" fill="#ffc700"/><rect x="189.23" y="111.44" width="3.13" height="8.66" fill="#ffd700"/><rect x="191.65" y="111.44" width="3.13" height="8.66" fill="#ffc700"/><rect x="194.08" y="111.44" width="5.55" height="8.66" fill="#ffd700"/><rect x="198.93" y="111.44" width="3.13" height="8.66" fill="#ffe700"/><rect x="201.36" y="111.44" width="3.13" height="8.66" fill="#ffc700"/><rect x="203.78" y="111.44" width="12.83" height="8.66" fill="#ffd700"/><rect x="215.91" y="111.44" width="12.83" height="8.66" fill="#ffe700"/><rect x="228.04" y="111.44" width="3.13" height="8.66" fill="#f7ff08"/><rect x="230.47" y="111.44" width="3.13" height="8.66" fill="#fff700"/><rect x="232.90" y="111.44" width="3.13" height="8.66" fill="#f7ff08"/><rect x="235.32" y="111.44" width="3.13" height="8.66" fill="#ffe700"/><rect x="237.75" y="111.44" width="3.13" height="8.66" fill="#ffd700"/><rect x="240.17" y="111.44" width="3.13" height="8.66" fill="#fff700"/><rect x="0.00" y="119.40" width="3.13" height="8.66" fill="#0008ff"/><rect x="2.43" y="119.40" width="3.13" height="8.66" fill="#0087ff"/><rect x="4.85" y="119.40" width="3.13" height="8.66" fill="#0000f7"/><rect x="7.28" y="119.40" width="7.98" height="8.66" fill="#0008ff"/><rect x="14.56" y="119.40" width="3.13" height="8.66" fill="#0068ff"/><rect x="16.98" y="119.40" width="3.13" height="8.66" fill="#0000f7"/><rect x="19.41" y="119.40" width="3.13" height="8.66" fill="#0028ff"/><rect x="21.83" y="119.40" width="3.13" height="8.66" fill="#0000f7"/><rect x="24.26" y="119.40" width="3.13" height="8.66" fill="#0048ff"/><rect x="26.69" y="119.40" width="3.13" height="8.66" fill="#0000f7"/><rect x="29.11" y="119.40" width="3.13" height="8.66" fill="#0028ff"/><rect x="31.54" y="119.40" width="5.55" height="8.66" fill="#0008ff"/><rect x="36.39" y="119.40" width="3.13" height="8.66" fill="#0000f7"/><rect x="38.82" y="119.40" width="12.83" height="8.66" fill="#0008ff"/><rect x="50.95" y="119.40" width="3.13" height="8.66" fill="#0028ff"/><rect x="53.37" y="119.40" width="3.13" height="8.66" fill="#0008ff"/><rect x="55.80" y="119.40" width="3.13" height="8.66" fill="#0000f7"/><rect x="58.22" y="119.40" width="5.55" height="8.66" fill="#0008ff"/><rect x="63.08" y="119.40" width="3.13" height="8.66" fill="#0000f7"/><rect x="65.50" y="119.40" width="3.13" height="8.66" fill="#0008ff"/><rect x="67.93" y="119.40" width="3.13" height="8.66" fill="#0068ff"/><rect x="70.35" y="119.40" width="5.55" height="8.66" fill="#0008ff"/><rect x="75.21" y="119.40" width="3.13" height="8.66" fill="#0000f7"/><rect x="77.63" y="119.40" width="3.13" height="8.66" fill="#0008ff"/><rect x="80.06" y="119.40" width="5.55" height="8.66" fill="#0000f7"/><rect x="84.91" y="119.40" width="3.13" height="8.66" fill="#0008ff"/><rect x="87.34" y="119.40" width="5.55" height="8.66" fill="#0000f7"/><rect x="92.19" y="119.40" width="3.13" height="8.66" fill="#0008ff"/><rect x="94.61" y="119.40" width="3.13" height="8.66" fill="#0000f7"/><rect x="97.04" y="119.40" width="5.55" height="8.66" fill="#0008ff"/><rect x="101.89" y="119.40" width="3.13" height="8.66" fill="#ff0800"/><rect x="104.32" y="119.40" width="5.55" height="8.66" fill="#fff700"/><rect x="109.17" y="119.40" width="3.13" height="8.66" fill="#08fff7"/><rect x="111.60" y="119.40" width="5.55" height="8.66" fill="#ffb700"/><rect x="116.45" y="119.40" width="3.13" height="8.66" fill="#ff5800"/><rect x="118.87" y="119.40" width="3.13" height="8.66" fill="#ffb700"/><rect x="121.30" y="119.40" width="3.13" height="8.66" fill="#ff0800"/><rect x="123.73" y="119.40" width="3.13" height="8.66" fill="#ffb700"/><rect x="126.15" y="119.40" width="3.13" height="8.66" fill="#fff700"/><rect x="128.58" y="119.40" width="5.55" height="8.66" fill="#ffb700"/><rect x="133.43" y="119.40" width="5.55" height="8.66" fill="#ff1800"/><rect x="138.28" y="119.40" width="3.13" height="8.66" fill="#ff3800"/><rect x="140.71" y="119.40" width="3.13" height="8.66" fill="#ff2800"/><rect x="143.13" y="119.40" width="3.13" height="8.66" fill="#ff1800"/><rect x="145.56" y="119.40" width="3.13" height="8.66" fill="#ff3800"/><rect x="147.99" y="119.40" width="5.55" height="8.66" fill="#ff6800"/><rect x="152.84" y="119.40" width="3.13" height="8.66" fill="#ff9700"/><rect x="155.26" y="119.40" width="3.13" height="8.66" fill="#ffa700"/><rect x="157.69" y="119.40" width="12.83" height="8.66" fill="#ffc700"/><rect x="169.82" y="119.40" width="3.13" height="8.66" fill="#ffe700"/><rect x="172.25" y="119.40" width="5.55" height="8.66" fill="#ffc700"/><rect x="177.10" y="119.40" width="3.13" height="8.66" fill="#ff8700"/><rect x="179.52" y="119.40" width="17.68" height="8.66" fill="#ffd700"/><rect x="196.51" y="119.40" width="3.13" height="8.66" fill="#ff8700"/><rect x="198.93" y="119.40" width="3.13" height="8.66" fill="#ffe700"/><rect x="201.36" y="119.40" width="3.13" height="8.66" fill="#ffb700"/><rect x="203.78" y="119.40" width="3.13" height="8.66" fill="#ffe700"/><rect x="206.21" y="119.40" width="3.13" height="8.66" fill="#ffd700"/><rect x="208.64" y="119.40" width="3.13" height="8.66" fill="#ffe700"/><rect x="211.06" y="119.40" width="3.13" height="8.66" fill="#ffd700"/><rect x="213.49" y="119.40" width="3.13" height="8.66" fill="#ffe700"/><rect x="215.91" y="119.40" width="7.98" height="8.66" fill="#ffd700"/><rect x="223.19" y="119.40" width="3.13" height="8.66" fill="#fff700"/><rect x="225.62" y="119.40" width="3.13" height="8.66" fill="#ffe700"/><rect x="228.04" y="119.40" width="3.13" height="8.66" fill="#fff700"/><rect x="230.47" y="119.40" width="3.13" height="8.66" fill="#ffe700"/><rect x="232.90" y="119.40" width="3.13" height="8.66" fill="#f7ff08"/><rect x="235.32" y="119.40" width="3.13" height="8.66" fill="#ffe700"/><rect x="237.75" y="119.40" width="3.13" height="8.66" fill="#ffd700"/><rect x="240.17" y="119.40" width="3.13" height="8.66" fill="#ff8700"/><rect x="0.00" y="127.36" width="3.13" height="8.66" fill="#0068ff"/><rect x="2.43" y="127.36" width="3.13" height="8.66" fill="#0018ff"/><rect x="4.85" y="127.36" width="3.13" height="8.66" fill="#0028ff"/><rect x="7.28" y="127.36" width="3.13" height="8.66" fill="#0008ff"/><rect x="9.70" y="127.36" width="5.55" height="8.66" fill="#0018ff"/><rect x="14.56" y="127.36" width="3.13" height="8.66" fill="#0008ff"/><rect x="16.98" y="127.36" width="7.98" height="8.66" fill="#0018ff"/><rect x="24.26" y="127.36" width="3.13" height="8.66" fill="#0008ff"/><rect x="26.69" y="127.36" width="3.13" height="8.66" fill="#0018ff"/><rect x="29.11" y="127.36" width="3.13" height="8.66" fill="#0038ff"/><rect x="31.54" y="127.36" width="10.40" height="8.66" fill="#0008ff"/><rect x="41.24" y="127.36" width="5.55" height="8.66" fill="#0018ff"/><rect x="46.09" y="127.36" width="3.13" height="8.66" fill="#0008ff"/><rect x="48.52" y="127.36" width="10.40" height="8.66" fill="#0018ff"/><rect x="58.22" y="127.36" width="3.13" height="8.66" fill="#0028ff"/><rect x="60.65" y="127.36" width="3.13" height="8.66" fill="#0008ff"/><rect x="63.08" y="127.36" width="3.13" height="8.66" fill="#0018ff"/><rect x="65.50" y="127.36" width="3.13" height="8.66" fill="#0008ff"/><rect x="67.93" y="127.36" width="3.13" height="8.66" fill="#0038ff"/><rect x="70.35" y="127.36" width="3.13" height="8.66" fill="#0018ff"/><rect x="72.78" y="127.36" width="7.98" height="8.66" fill="#0008ff"/><rect x="80.06" y="127.36" width="3.13" height="8.66" fill="#0018ff"/><rect x="82.48" y="127.36" width="3.13" height="8.66" fill="#0008ff"/><rect x="84.91" y="127.36" width="3.13" height="8.66" fill="#0048ff"/><rect x="87.34" y="127.36" width="5.55" height="8.66" fill="#0008ff"/><rect x="92.19" y="127.36" width="5.55" height="8.66" fill="#0018ff"/><rect x="97.04" y="127.36" width="3.13" height="8.66" fill="#fff700"/><rect x="99.47" y="127.36" width="3.13" height="8.66" fill="#ff5800"/><rect x="101.89" y="127.36" width="3.13" height="8.66" fill="#ffb700"/><rect x="104.32" y="127.36" width="3.13" height="8.66" fill="#ff0800"/><rect x="106.74" y="127.36" width="5.55" height="8.66" fill="#ffb700"/><rect x="111.60" y="127.36" width="3.13" height="8.66" fill="#ff0800"/><rect x="114.02" y="127.36" width="3.13" height="8.66" fill="#ffb700"/><rect x="116.45" y="127.36" width="3.13" height="8.66" fill="#ff0800"/><rect x="118.87" y="127.36" width="3.13" height="8.66" fill="#ff2800"/><rect x="121.30" y="127.36" width="3.13" height="8.66" fill="#ff1800"/><rect x="123.73" y="127.36" width="3.13" height="8.66" fill="#ff2800"/><rect x="126.15" y="127.36" width="5.55" height="8.66" fill="#ff0800"/><rect x="131.00" y="127.36" width="3.13" height="8.66" fill="#ff2800"/><rect x="133.43" y="127.36" width="3.13" height="8.66" fill="#ff1800"/><rect x="135.86" y="127.36" width="3.13" height="8.66" fill="#ff0800"/><rect x="138.28" y="127.36" width="3.13" height="8.66" fill="#ff1800"/><rect x="140.71" y="127.36" width="3.13" height="8.66" fill="#ff3800"/><rect x="143.13" y="127.36" width="3.13" height="8.66" fill="#ff5800"/><rect x="145.56" y="127.36" width="3.13" height="8.66" fill="#ff7800"/><rect x="147.99" y="127.36" width="3.13" height="8.66" fill="#ff9700"/><rect x="150.41" y="127.36" width="3.13" height="8.66" fill="#ffa700"/><rect x="152.84" y="127.36" width="3.13" height="8.66" fill="#ffc700"/><rect x="155.26" y="127.36" width="7.98" height="8.66" fill="#ffd700"/><rect x="162.54" y="127.36" width="3.13" height="8.66" fill="#ffb700"/><rect x="164.97" y="127.36" width="3.13" height="8.66" fill="#ffc700"/><rect x="167.39" y="127.36" width="3.13" height="8.66" fill="#ffd700"/><rect x="169.82" y="127.36" width="3.13" height="8.66" fill="#ffe700"/><rect x="172.25" y="127.36" width="3.13" height="8.66" fill="#ffd700"/><rect x="174.67" y="127.36" width="5.55" height="8.66" fill="#ffc700"/><rect x="179.52" y="127.36" width="5.55" height="8.66" fill="#ffd700"/><rect x="184.38" y="127.36" width="5.55" height="8.66" fill="#ffc700"/><rect x="189.23" y="127.36" width="3.13" height="8.66" fill="#ffe700"/><rect x="191.65" y="127.36" width="7.98" height="8.66" fill="#ffd700"/><rect x="198.93" y="127.36" width="3.13" height="8.66" fill="#ffe700"/><rect x="201.36" y="127.36" width="12.83" height="8.66" fill="#ffd700"/><rect x="213.49" y="127.36" width="5.55" height="8.66" fill="#ffe700"/><rect x="218.34" y="127.36" width="3.13" height="8.66" fill="#ffd700"/><rect x="220.77" y="127.36" width="3.13" height="8.66" fill="#ffe700"/><rect x="223.19" y="127.36" width="5.55" height="8.66" fill="#ffd700"/><rect x="228.04" y="127.36" width="5.55" height="8.66" fill="#fff700"/><rect x="232.90" y="127.36" width="5.55" height="8.66" fill="#ffe700"/><rect x="237.75" y="127.36" width="5.55" height="8.66" fill="#fff700"/><rect x="0.00" y="135.32" width="5.55" height="8.66" fill="#0018ff"/><rect x="4.85" y="135.32" width="3.13" height="8.66" fill="#0028ff"/><rect x="7.28" y="135.32" width="5.55" height="8.66" fill="#0068ff"/><rect x="12.13" y="135.32" width="10.40" height="8.66" fill="#0018ff"/><rect x="21.83" y="135.32" width="3.13" height="8.66" fill="#0048ff"/><rect x="24.26" y="135.32" width="3.13" height="8.66" fill="#0028ff"/><rect x="26.69" y="135.32" width="3.13" height="8.66" fill="#0048ff"/><rect x="29.11" y="135.32" width="7.98" height="8.66" fill="#0018ff"/><rect x="36.39" y="135.32" width="3.13" height="8.66" fill="#0038ff"/><rect x="38.82" y="135.32" width="3.13" height="8.66" fill="#0048ff"/><rect x="41.24" y="135.32" width="5.55" height="8.66" fill="#0018ff"/><rect x="46.09" y="135.32" width="3.13" height="8.66" fill="#0028ff"/><rect x="48.52" y="135.32" width="3.13" height="8.66" fill="#0018ff"/><rect x="50.95" y="135.32" width="3.13" height="8.66" fill="#0038ff"/><rect x="53.37" y="135.32" width="10.40" height="8.66" fill="#0018ff"/><rect x="63.08" y="135.32" width="3.13" height="8.66" fill="#0038ff"/><rect x="65.50" y="135.32" width="3.13" height="8.66" fill="#0068ff"/><rect x="67.93" y="135.32" width="7.98" height="8.66" fill="#0028ff"/><rect x="75.21" y="135.32" width="3.13" height="8.66" fill="#0018ff"/><rect x="77.63" y="135.32" width="3.13" height="8.66" fill="#0028ff"/><rect x="80.06" y="135.32" width="5.55" height="8.66" fill="#0018ff"/><rect x="84.91" y="135.32" width="3.13" height="8.66" fill="#0038ff"/><rect x="87.34" y="135.32" width="3.13" height="8.66" fill="#0097ff"/><rect x="89.76" y="135.32" width="7.98" height="8.66" fill="#0068ff"/><rect x="97.04" y="135.32" width="3.13" height="8.66" fill="#08fff7"/><rect x="99.47" y="135.32" width="3.13" height="8.66" fill="#ff5800"/><rect x="101.89" y="135.32" width="5.55" height="8.66" fill="#ffb700"/><rect x="106.74" y="135.32" width="3.13" height="8.66" fill="#fff700"/><rect x="109.17" y="135.32" width="3.13" height="8.66" fill="#ffb700"/><rect x="111.60" y="135.32" width="3.13" height="8.66" fill="#ff0800"/><rect x="114.02" y="135.32" width="3.13" height="8.66" fill="#ffb700"/><rect x="116.45" y="135.32" width="3.13" height="8.66" fill="#ff0800"/><rect x="118.87" y="135.32" width="5.55" height="8.66" fill="#ff1800"/><rect x="123.73" y="135.32" width="3.13" height="8.66" fill="#ff2800"/><rect x="126.15" y="135.32" width="7.98" height="8.66" fill="#ff1800"/><rect x="133.43" y="135.32" width="3.13" height="8.66" fill="#ff0800"/><rect x="135.86" y="135.32" width="3.13" height="8.66" fill="#ff2800"/><rect x="138.28" y="135.32" width="3.13" height="8.66" fill="#ff3800"/><rect x="140.71" y="135.32" width="5.55" height="8.66" fill="#ff5800"/><rect x="145.56" y="135.32" width="3.13" height="8.66" fill="#ff9700"/><rect x="147.99" y="135.32" width="3.13" height="8.66" fill="#ffb700"/><rect x="150.41" y="135.32" width="3.13" height="8.66" fill="#ff8700"/><rect x="152.84" y="135.32" width="7.98" height="8.66" fill="#ffc700"/><rect x="160.12" y="135.32" width="3.13" height="8.66" fill="#ffb700"/><rect x="162.54" y="135.32" width="5.55" height="8.66" fill="#ffd700"/><rect x="167.39" y="135.32" width="3.13" height="8.66" fill="#ffc700"/><rect x="169.82" y="135.32" width="3.13" height="8.66" fill="#ffd700"/><rect x="172.25" y="135.32" width="3.13" height="8.66" fill="#ffc700"/><rect x="174.67" y="135.32" width="3.13" height="8.66" fill="#ffd700"/><rect x="177.10" y="135.32" width="3.13" height="8.66" fill="#ffc700"/><rect x="179.52" y="135.32" width="3.13" height="8.66" fill="#ffb700"/><rect x="181.95" y="135.32" width="5.55" height="8.66" fill="#ffd700"/><rect x="186.80" y="135.32" width="3.13" height="8.66" fill="#ffc700"/><rect x="189.23" y="135.32" width="7.98" height="8.66" fill="#ffd700"/><rect x="196.51" y="135.32" width="3.13" height="8.66" fill="#ffc700"/><rect x="198.93" y="135.32" width="3.13" height="8.66" fill="#ffe700"/><rect x="201.36" y="135.32" width="5.55" height="8.66" fill="#ffd700"/><rect x="206.21" y="135.32" width="3.13" height="8.66" fill="#ff8700"/><rect x="208.64" y="135.32" width="3.13" height="8.66" fill="#ffc700"/><rect x="211.06" y="135.32" width="3.13" height="8.66" fill="#ffd700"/><rect x="213.49" y="135.32" width="3.13" height="8.66" fill="#fff700"/><rect x="215.91" y="135.32" width="3.13" height="8.66" fill="#ffd700"/><rect x="218.34" y="135.32" width="3.13" height="8.66" fill="#ff8700"/><rect x="220.77" y="135.32" width="5.55" height="8.66" fill="#ffd700"/><rect x="225.62" y="135.32" width="7.98" height="8.66" fill="#fff700"/><rect x="232.90" y="135.32" width="7.98" height="8.66" fill="#ffe700"/><rect x="240.17" y="135.32" width="3.13" height="8.66" fill="#fff700"/><rect x="0.00" y="143.28" width="5.55" height="8.66" fill="#0028ff"/><rect x="4.85" y="143.28" width="3.13" height="8.66" fill="#0087ff"/><rect x="7.28" y="143.28" width="3.13" height="8.66" fill="#0038ff"/><rect x="9.70" y="143.28" width="3.13" height="8.66" fill="#0087ff"/><rect x="12.13" y="143.28" width="10.40" height="8.66" fill="#0028ff"/><rect x="21.83" y="143.28" width="3.13" height="8.66" fill="#0068ff"/><rect x="24.26" y="143.28" width="5.55" height="8.66" fill="#0038ff"/><rect x="29.11" y="143.28" width="5.55" height="8.66" fill="#0028ff"/><rect x="33.96" y="143.28" width="3.13" height="8.66" fill="#0018ff"/><rect x="36.39" y="143.28" width="3.13" height="8.66" fill="#0028ff"/><rect x="38.82" y="143.28" width="3.13" height="8.66" fill="#0068ff"/><rect x="41.24" y="143.28" width="5.55" height="8.66" fill="#0028ff"/><rect x="46.09" y="143.28" width="3.13" height="8.66" fill="#0048ff"/><rect x="48.52" y="143.28" width="3.13" height="8.66" fill="#0087ff"/><rect x="50.95" y="143.28" width="10.40" height="8.66" fill="#0028ff"/><rect x="60.65" y="143.28" width="3.13" height="8.66" fill="#0048ff"/><rect x="63.08" y="143.28" width="5.55" height="8.66" fill="#0028ff"/><rect x="67.93" y="143.28" width="3.13" height="8.66" fill="#0038ff"/><rect x="70.35" y="143.28" width="3.13" height="8.66" fill="#0068ff"/><rect x="72.78" y="143.28" width="3.13" height="8.66" fill="#0028ff"/><rect x="75.21" y="143.28" width="3.13" height="8.66" fill="#0068ff"/><rect x="77.63" y="143.28" width="3.13" height="8.66" fill="#0038ff"/><rect x="80.06" y="143.28" width="5.55" height="8.66" fill="#0097ff"/><rect x="84.91" y="143.28" width="7.98" height="8.66" fill="#0028ff"/><rect x="92.19" y="143.28" width="3.13" height="8.66" fill="#0087ff"/><rect x="94.61" y="143.28" width="3.13" height="8.66" fill="#ff5800"/><rect x="97.04" y="143.28" width="7.98" height="8.66" fill="#ff0800"/><rect x="104.32" y="143.28" width="3.13" height="8.66" fill="#ffb700"/><rect x="106.74" y="143.28" width="3.13" height="8.66" fill="#ff0800"/><rect x="109.17" y="143.28" width="3.13" height="8.66" fill="#ffb700"/><rect x="111.60" y="143.28" width="3.13" height="8.66" fill="#ff5800"/><rect x="114.02" y="143.28" width="3.13" height="8.66" fill="#ff0800"/><rect x="116.45" y="143.28" width="3.13" height="8.66" fill="#ff1800"/><rect x="118.87" y="143.28" width="5.55" height="8.66" fill="#ff0800"/><rect x="123.73" y="143.28" width="3.13" height="8.66" fill="#ff2800"/><rect x="126.15" y="143.28" width="3.13" height="8.66" fill="#ff1800"/><rect x="128.58" y="143.28" width="3.13" height="8.66" fill="#ff0800"/><rect x="131.00" y="143.28" width="3.13" height="8.66" fill="#ff1800"/><rect x="133.43" y="143.28" width="3.13" height="8.66" fill="#ff4800"/><rect x="135.86" y="143.28" width="5.55" height="8.66" fill="#ff6800"/><rect x="140.71" y="143.28" width="3.13" height="8.66" fill="#ff9700"/><rect x="143.13" y="143.28" width="3.13" height="8.66" fill="#ffb700"/><rect x="145.56" y="143.28" width="5.55" height="8.66" fill="#ffc700"/><rect x="150.41" y="143.28" width="7.98" height="8.66" fill="#ffd700"/><rect x="157.69" y="143.28" width="7.98" height="8.66" fill="#ffc700"/><rect x="164.97" y="143.28" width="7.98" height="8.66" fill="#ffd700"/><rect x="172.25" y="143.28" width="5.55" height="8.66" fill="#ffc700"/><rect x="177.10" y="143.28" width="3.13" height="8.66" fill="#ffb700"/><rect x="179.52" y="143.28" width="3.13" height="8.66" fill="#ffc700"/><rect x="181.95" y="143.28" width="5.55" height="8.66" fill="#ffd700"/><rect x="186.80" y="143.28" width="3.13" height="8.66" fill="#ffc700"/><rect x="189.23" y="143.28" width="3.13" height="8.66" fill="#ffe700"/><rect x="191.65" y="143.28" width="3.13" height="8.66" fill="#ffc700"/><rect x="194.08" y="143.28" width="5.55" height="8.66" fill="#ffd700"/><rect x="198.93" y="143.28" width="3.13" height="8.66" fill="#ffe700"/><rect x="201.36" y="143.28" width="3.13" height="8.66" fill="#ffc700"/><rect x="203.78" y="143.28" width="10.40" height="8.66" fill="#ffd700"/><rect x="213.49" y="143.28" width="3.13" height="8.66" fill="#fff700"/><rect x="215.91" y="143.28" width="3.13" height="8.66" fill="#ffd700"/><rect x="218.34" y="143.28" width="3.13" height="8.66" fill="#ffe700"/><rect x="220.77" y="143.28" width="3.13" height="8.66" fill="#ffd700"/><rect x="223.19" y="143.28" width="5.55" height="8.66" fill="#ffe700"/><rect x="228.04" y="143.28" width="7.98" height="8.66" fill="#fff700"/><rect x="235.32" y="143.28" width="5.55" height="8.66" fill="#ffe700"/><rect x="240.17" y="143.28" width="3.13" height="8.66" fill="#f7ff08"/><rect x="0.00" y="151.24" width="3.13" height="8.66" fill="#0068ff"/><rect x="2.43" y="151.24" width="3.13" height="8.66" fill="#0048ff"/><rect x="4.85" y="151.24" width="3.13" height="8.66" fill="#0028ff"/><rect x="7.28" y="151.24" width="5.55" height="8.66" fill="#0038ff"/><rect x="12.13" y="151.24" width="3.13" height="8.66" fill="#0048ff"/><rect x="14.56" y="151.24" width="3.13" height="8.66" fill="#0038ff"/><rect x="16.98" y="151.24" width="3.13" height="8.66" fill="#0028ff"/><rect x="19.41" y="151.24" width="3.13" height="8.66" fill="#0087ff"/><rect x="21.83" y="151.24" width="3.13" height="8.66" fill="#0048ff"/><rect x="24.26" y="151.24" width="3.13" height="8.66" fill="#0038ff"/><rect x="26.69" y="151.24" width="3.13" height="8.66" fill="#0048ff"/><rect x="29.11" y="151.24" width="5.55" height="8.66" fill="#0038ff"/><rect x="33.96" y="151.24" width="3.13" height="8.66" fill="#0048ff"/><rect x="36.39" y="151.24" width="3.13" height="8.66" fill="#0028ff"/><rect x="38.82" y="151.24" width="3.13" height="8.66" fill="#0068ff"/><rect x="41.24" y="151.24" width="3.13" height="8.66" fill="#0028ff"/><rect x="43.67" y="151.24" width="3.13" height="8.66" fill="#0038ff"/><rect x="46.09" y="151.24" width="3.13" height="8.66" fill="#0097ff"/><rect x="48.52" y="151.24" width="3.13" height="8.66" fill="#0038ff"/><rect x="50.95" y="151.24" width="3.13" height="8.66" fill="#0068ff"/><rect x="53.37" y="151.24" width="5.55" height="8.66" fill="#0038ff"/><rect x="58.22" y="151.24" width="3.13" height="8.66" fill="#0087ff"/><rect x="60.65" y="151.24" width="5.55" height="8.66" fill="#0097ff"/><rect x="65.50" y="151.24" width="3.13" height="8.66" fill="#0038ff"/><rect x="67.93" y="151.24" width="3.13" height="8.66" fill="#0048ff"/><rect x="70.35" y="151.24" width="3.13" height="8.66" fill="#0038ff"/><rect x="72.78" y="151.24" width="3.13" height="8.66" fill="#0028ff"/><rect x="75.21" y="151.24" width="3.13" height="8.66" fill="#0087ff"/><rect x="77.63" y="151.24" width="3.13" height="8.66" fill="#0097ff"/><rect x="80.06" y="151.24" width="3.13" height="8.66" fill="#0087ff"/><rect x="82.48" y="151.24" width="3.13" height="8.66" fill="#0048ff"/><rect x="84.91" y="151.24" width="3.13" height="8.66" fill="#0028ff"/><rect x="87.34" y="151.24" width="3.13" height="8.66" fill="#0038ff"/><rect x="89.76" y="151.24" width="5.55" height="8.66" fill="#ff5800"/><rect x="94.61" y="151.24" width="5.55" height="8.66" fill="#ffb700"/><rect x="99.47" y="151.24" width="3.13" height="8.66" fill="#ff0800"/><rect x="101.89" y="151.24" width="3.13" height="8.66" fill="#ffb700"/><rect x="104.32" y="151.24" width="3.13" height="8.66" fill="#fff700"/><rect x="106.74" y="151.24" width="3.13" height="8.66" fill="#ffb700"/><rect x="109.17" y="151.24" width="3.13" height="8.66" fill="#ff2800"/><rect x="111.60" y="151.24" width="3.13" height="8.66" fill="#ff3800"/><rect x="114.02" y="151.24" width="3.13" height="8.66" fill="#ff1800"/><rect x="116.45" y="151.24" width="5.55" height="8.66" fill="#ff2800"/><rect x="121.30" y="151.24" width="3.13" height="8.66" fill="#ff3800"/><rect x="123.73" y="151.24" width="3.13" height="8.66" fill="#ff1800"/><rect x="126.15" y="151.24" width="3.13" height="8.66" fill="#ff4800"/><rect x="128.58" y="151.24" width="3.13" height="8.66" fill="#ff6800"/><rect x="131.00" y="151.24" width="3.13" height="8.66" fill="#ff8700"/><rect x="133.43" y="151.24" width="3.13" height="8.66" fill="#ff9700"/><rect x="135.86" y="151.24" width="3.13" height="8.66" fill="#ffb700"/><rect x="138.28" y="151.24" width="5.55" height="8.66" fill="#ffc700"/><rect x="143.13" y="151.24" width="3.13" height="8.66" fill="#ffd700"/><rect x="145.56" y="151.24" width="3.13" height="8.66" fill="#ffb700"/><rect x="147.99" y="151.24" width="7.98" height="8.66" fill="#ffd700"/><rect x="155.26" y="151.24" width="5.55" height="8.66" fill="#ffc700"/><rect x="160.12" y="151.24" width="3.13" height="8.66" fill="#ffb700"/><rect x="162.54" y="151.24" width="3.13" height="8.66" fill="#ffd700"/><rect x="164.97" y="151.24" width="5.55" height="8.66" fill="#ffc700"/><rect x="169.82" y="151.24" width="7.98" height="8.66" fill="#ffd700"/><rect x="177.10" y="151.24" width="5.55" height="8.66" fill="#ffb700"/><rect x="181.95" y="151.24" width="3.13" height="8.66" fill="#ffd700"/><rect x="184.38" y="151.24" width="5.55" height="8.66" fill="#ffc700"/><rect x="189.23" y="151.24" width="7.98" height="8.66" fill="#ffd700"/><rect x="196.51" y="151.24" width="3.13" height="8.66" fill="#ffe700"/><rect x="198.93" y="151.24" width="3.13" height="8.66" fill="#ffd700"/><rect x="201.36" y="151.24" width="3.13" height="8.66" fill="#ffc700"/><rect x="203.78" y="151.24" width="3.13" height="8.66" fill="#ffe700"/><rect x="206.21" y="151.24" width="7.98" height="8.66" fill="#ffd700"/><rect x="213.49" y="151.24" width="10.40" height="8.66" fill="#ffe700"/><rect x="223.19" y="151.24" width="3.13" height="8.66" fill="#ffd700"/><rect x="225.62" y="151.24" width="3.13" height="8.66" fill="#ffe700"/><rect x="228.04" y="151.24" width="3.13" height="8.66" fill="#fff700"/><rect x="230.47" y="151.24" width="3.13" height="8.66" fill="#f7ff08"/><rect x="232.90" y="151.24" width="10.40" height="8.66" fill="#fff700"/><rect x="0.00" y="159.20" width="3.13" height="8.66" fill="#0038ff"/><rect x="2.43" y="159.20" width="3.13" height="8.66" fill="#0000e7"/><rect x="4.85" y="159.20" width="3.13" height="8.66" fill="#0038ff"/><rect x="7.28" y="159.20" width="3.13" height="8.66" fill="#0097ff"/><rect x="9.70" y="159.20" width="3.13" height="8.66" fill="#0000e7"/><rect x="12.13" y="159.20" width="3.13" height="8.66" fill="#0038ff"/><rect x="14.56" y="159.20" width="3.13" height="8.66" fill="#0000e7"/><rect x="16.98" y="159.20" width="3.13" height="8.66" fill="#0097ff"/><rect x="19.41" y="159.20" width="3.13" height="8.66" fill="#0038ff"/><rect x="21.83" y="159.20" width="5.55" height="8.66" fill="#0000e7"/><rect x="26.69" y="159.20" width="3.13" height="8.66" fill="#0038ff"/><rect x="29.11" y="159.20" width="3.13" height="8.66" fill="#0097ff"/><rect x="31.54" y="159.20" width="3.13" height="8.66" fill="#0000e7"/><rect x="33.96" y="159.20" width="3.13" height="8.66" fill="#0038ff"/><rect x="36.39" y="159.20" width="3.13" height="8.66" fill="#0097ff"/><rect x="38.82" y="159.20" width="3.13" height="8.66" fill="#0038ff"/><rect x="41.24" y="159.20" width="3.13" height="8.66" fill="#0000e7"/><rect x="43.67" y="159.20" width="3.13" height="8.66" fill="#0097ff"/><rect x="46.09" y="159.20" width="3.13" height="8.66" fill="#0038ff"/><rect x="48.52" y="159.20" width="3.13" height="8.66" fill="#0000e7"/><rect x="50.95" y="159.20" width="3.13" height="8.66" fill="#0097ff"/><rect x="53.37" y="159.20" width="3.13" height="8.66" fill="#0038ff"/><rect x="55.80" y="159.20" width="3.13" height="8.66" fill="#0000e7"/><rect x="58.22" y="159.20" width="5.55" height="8.66" fill="#0097ff"/><rect x="63.08" y="159.20" width="3.13" height="8.66" fill="#0000e7"/><rect x="65.50" y="159.20" width="3.13" height="8.66" fill="#0097ff"/><rect x="67.93" y="159.20" width="3.13" height="8.66" fill="#0038ff"/><rect x="70.35" y="159.20" width="3.13" height="8.66" fill="#0000e7"/><rect x="72.78" y="159.20" width="3.13" height="8.66" fill="#0097ff"/><rect x="75.21" y="159.20" width="3.13" height="8.66" fill="#0038ff"/><rect x="77.63" y="159.20" width="5.55" height="8.66" fill="#0068ff"/><rect x="82.48" y="159.20" width="3.13" height="8.66" fill="#0087ff"/><rect x="84.91" y="159.20" width="3.13" height="8.66" fill="#08fff7"/><rect x="87.34" y="159.20" width="3.13" height="8.66" fill="#ffb700"/><rect x="89.76" y="159.20" width="5.55" height="8.66" fill="#ff0800"/><rect x="94.61" y="159.20" width="3.13" height="8.66" fill="#ff5800"/><rect x="97.04" y="159.20" width="3.13" height="8.66" fill="#ffb700"/><rect x="99.47" y="159.20" width="3.13" height="8.66" fill="#ff0800"/><rect x="101.89" y="159.20" width="3.13" height="8.66" fill="#ffb700"/><rect x="104.32" y="159.20" width="3.13" height="8.66" fill="#ff5800"/><rect x="106.74" y="159.20" width="3.13" height="8.66" fill="#ff8700"/><rect x="109.17" y="159.20" width="5.55" height="8.66" fill="#ff3800"/><rect x="114.02" y="159.20" width="3.13" height="8.66" fill="#ff5800"/><rect x="116.45" y="159.20" width="3.13" height="8.66" fill="#ff4800"/><rect x="118.87" y="159.20" width="3.13" height="8.66" fill="#ff6800"/><rect x="121.30" y="159.20" width="5.55" height="8.66" fill="#ff7800"/><rect x="126.15" y="159.20" width="5.55" height="8.66" fill="#ffa700"/><rect x="131.00" y="159.20" width="3.13" height="8.66" fill="#ff8700"/><rect x="133.43" y="159.20" width="3.13" height="8.66" fill="#ffc700"/><rect x="135.86" y="159.20" width="3.13" height="8.66" fill="#ffd700"/><rect x="138.28" y="159.20" width="5.55" height="8.66" fill="#ffc700"/><rect x="143.13" y="159.20" width="3.13" height="8.66" fill="#ffd700"/><rect x="145.56" y="159.20" width="3.13" height="8.66" fill="#ffc700"/><rect x="147.99" y="159.20" width="3.13" height="8.66" fill="#ffd700"/><rect x="150.41" y="159.20" width="3.13" height="8.66" fill="#ffb700"/><rect x="152.84" y="159.20" width="3.13" height="8.66" fill="#ffc700"/><rect x="155.26" y="159.20" width="5.55" height="8.66" fill="#ffd700"/><rect x="160.12" y="159.20" width="3.13" height="8.66" fill="#ffc700"/><rect x="162.54" y="159.20" width="3.13" height="8.66" fill="#ffb700"/><rect x="164.97" y="159.20" width="7.98" height="8.66" fill="#ffd700"/><rect x="172.25" y="159.20" width="7.98" height="8.66" fill="#ffc700"/><rect x="179.52" y="159.20" width="7.98" height="8.66" fill="#ffd700"/><rect x="186.80" y="159.20" width="3.13" height="8.66" fill="#ffc700"/><rect x="189.23" y="159.20" width="3.13" height="8.66" fill="#ffd700"/><rect x="191.65" y="159.20" width="3.13" height="8.66" fill="#ffc700"/><rect x="194.08" y="159.20" width="5.55" height="8.66" fill="#ffe700"/><rect x="198.93" y="159.20" width="7.98" height="8.66" fill="#ffd700"/><rect x="206.21" y="159.20" width="3.13" height="8.66" fill="#ffe700"/><rect x="208.64" y="159.20" width="5.55" height="8.66" fill="#ffd700"/><rect x="213.49" y="159.20" width="3.13" height="8.66" fill="#ffe700"/><rect x="215.91" y="159.20" width="7.98" height="8.66" fill="#ffd700"/><rect x="223.19" y="159.20" width="3.13" height="8.66" fill="#ffe700"/><rect x="225.62" y="159.20" width="3.13" height="8.66" fill="#ffd700"/><rect x="228.04" y="159.20" width="3.13" height="8.66" fill="#fff700"/><rect x="230.47" y="159.20" width="3.13" height="8.66" fill="#ff8700"/><rect x="232.90" y="159.20" width="3.13" height="8.66" fill="#fff700"/><rect x="235.32" y="159.20" width="3.13" height="8.66" fill="#ffe700"/><rect x="237.75" y="159.20" width="5.55" height="8.66" fill="#fff700"/><rect x="0.00" y="167.16" width="3.13" height="8.66" fill="#0038ff"/><rect x="2.43" y="167.16" width="5.55" height="8.66" fill="#0097ff"/><rect x="7.28" y="167.16" width="3.13" height="8.66" fill="#0038ff"/><rect x="9.70" y="167.16" width="3.13" height="8.66" fill="#0097ff"/><rect x="12.13" y="167.16" width="3.13" height="8.66" fill="#0038ff"/><rect x="14.56" y="167.16" width="3.13" height="8.66" fill="#0000e7"/><rect x="16.98" y="167.16" width="3.13" height="8.66" fill="#0097ff"/><rect x="19.41" y="167.16" width="3.13" height="8.66" fill="#0038ff"/><rect x="21.83" y="167.16" width="3.13" height="8.66" fill="#0000e7"/><rect x="24.26" y="167.16" width="3.13" height="8.66" fill="#0097ff"/><rect x="26.69" y="167.16" width="5.55" height="8.66" fill="#0038ff"/><rect x="31.54" y="167.16" width="3.13" height="8.66" fill="#0097ff"/><rect x="33.96" y="167.16" width="5.55" height="8.66" fill="#0038ff"/><rect x="38.82" y="167.16" width="3.13" height="8.66" fill="#0097ff"/><rect x="41.24" y="167.16" width="3.13" height="8.66" fill="#0038ff"/><rect x="43.67" y="167.16" width="5.55" height="8.66" fill="#0097ff"/><rect x="48.52" y="167.16" width="3.13" height="8.66" fill="#0000e7"/><rect x="50.95" y="167.16" width="3.13" height="8.66" fill="#0097ff"/><rect x="53.37" y="167.16" width="3.13" height="8.66" fill="#0038ff"/><rect x="55.80" y="167.16" width="3.13" height="8.66" fill="#0097ff"/><rect x="58.22" y="167.16" width="3.13" height="8.66" fill="#0038ff"/><rect x="60.65" y="167.16" width="3.13" height="8.66" fill="#0097ff"/><rect x="63.08" y="167.16" width="3.13" height="8.66" fill="#0038ff"/><rect x="65.50" y="167.16" width="3.13" height="8.66" fill="#0097ff"/><rect x="67.93" y="167.16" width="3.13" height="8.66" fill="#0038ff"/><rect x="70.35" y="167.16" width="3.13" height="8.66" fill="#0097ff"/><rect x="72.78" y="167.16" width="5.55" height="8.66" fill="#0038ff"/><rect x="77.63" y="167.16" width="5.55" height="8.66" fill="#0058ff"/><rect x="82.48" y="167.16" width="3.13" height="8.66" fill="#0038ff"/><rect x="84.91" y="167.16" width="3.13" height="8.66" fill="#fff700"/><rect x="87.34" y="167.16" width="3.13" height="8.66" fill="#ff5800"/><rect x="89.76" y="167.16" width="5.55" height="8.66" fill="#ff0800"/><rect x="94.61" y="167.16" width="3.13" height="8.66" fill="#ff5800"/><rect x="97.04" y="167.16" width="5.55" height="8.66" fill="#ffb700"/><rect x="101.89" y="167.16" width="3.13" height="8.66" fill="#ff0800"/><rect x="104.32" y="167.16" width="3.13" height="8.66" fill="#ff6800"/><rect x="106.74" y="167.16" width="3.13" height="8.66" fill="#ff5800"/><rect x="109.17" y="167.16" width="3.13" height="8.66" fill="#ff6800"/><rect x="111.60" y="167.16" width="3.13" height="8.66" fill="#ff7800"/><rect x="114.02" y="167.16" width="3.13" height="8.66" fill="#ff5800"/><rect x="116.45" y="167.16" width="3.13" height="8.66" fill="#ff6800"/><rect x="118.87" y="167.16" width="3.13" height="8.66" fill="#ff7800"/><rect x="121.30" y="167.16" width="3.13" height="8.66" fill="#ff8700"/><rect x="123.73" y="167.16" width="3.13" height="8.66" fill="#ffa700"/><rect x="126.15" y="167.16" width="3.13" height="8.66" fill="#ffb700"/><rect x="128.58" y="167.16" width="7.98" height="8.66" fill="#ffc700"/><rect x="135.86" y="167.16" width="3.13" height="8.66" fill="#ffe700"/><rect x="138.28" y="167.16" width="10.40" height="8.66" fill="#ffc700"/><rect x="147.99" y="167.16" width="3.13" height="8.66" fill="#ffd700"/><rect x="150.41" y="167.16" width="3.13" height="8.66" fill="#ffc700"/><rect x="152.84" y="167.16" width="5.55" height="8.66" fill="#ffd700"/><rect x="157.69" y="167.16" width="3.13" height="8.66" fill="#ffc700"/><rect x="160.12" y="167.16" width="3.13" height="8.66" fill="#ffd700"/><rect x="162.54" y="167.16" width="3.13" height="8.66" fill="#ffb700"/><rect x="164.97" y="167.16" width="3.13" height="8.66" fill="#ffc700"/><rect x="167.39" y="167.16" width="3.13" height="8.66" fill="#ffd700"/><rect x="169.82" y="167.16" width="3.13" height="8.66" fill="#ffe700"/><rect x="172.25" y="167.16" width="3.13" height="8.66" fill="#ffd700"/><rect x="174.67" y="167.16" width="7.98" height="8.66" fill="#ffc700"/><rect x="181.95" y="167.16" width="3.13" height="8.66" fill="#ffd700"/><rect x="184.38" y="167.16" width="3.13" height="8.66" fill="#ffc700"/><rect x="186.80" y="167.16" width="7.98" height="8.66" fill="#ffd700"/><rect x="194.08" y="167.16" width="3.13" height="8.66" fill="#ffe700"/><rect x="196.51" y="167.16" width="3.13" height="8.66" fill="#ffc700"/><rect x="198.93" y="167.16" width="10.40" height="8.66" fill="#ffd700"/><rect x="208.64" y="167.16" width="3.13" height="8.66" fill="#ffe700"/><rect x="211.06" y="167.16" width="3.13" height="8.66" fill="#ffd700"/><rect x="213.49" y="167.16" width="5.55" height="8.66" fill="#ffe700"/><rect x="218.34" y="167.16" width="5.55" height="8.66" fill="#ffd700"/><rect x="223.19" y="167.16" width="5.55" height="8.66" fill="#ffe700"/><rect x="228.04" y="167.16" width="3.13" height="8.66" fill="#fff700"/><rect x="230.47" y="167.16" width="3.13" height="8.66" fill="#f7ff08"/><rect x="232.90" y="167.16" width="3.13" height="8.66" fill="#ffe700"/><rect x="235.32" y="167.16" width="3.13" height="8.66" fill="#fff700"/><rect x="237.75" y="167.16" width="3.13" height="8.66" fill="#ffe700"/><rect x="240.17" y="167.16" width="3.13" height="8.66" fill="#fff700"/><rect x="0.00" y="175.12" width="3.13" height="8.66" fill="#0000e7"/><rect x="2.43" y="175.12" width="3.13" height="8.66" fill="#0038ff"/><rect x="4.85" y="175.12" width="3.13" height="8.66" fill="#0097ff"/><rect x="7.28" y="175.12" width="3.13" height="8.66" fill="#0000e7"/><rect x="9.70" y="175.12" width="3.13" height="8.66" fill="#0038ff"/><rect x="12.13" y="175.12" width="3.13" height="8.66" fill="#0097ff"/><rect x="14.56" y="175.12" width="5.55" height="8.66" fill="#08fff7"/><rect x="19.41" y="175.12" width="5.55" height="8.66" fill="#0000e7"/><rect x="24.26" y="175.12" width="3.13" height="8.66" fill="#0097ff"/><rect x="26.69" y="175.12" width="3.13" height="8.66" fill="#0000e7"/><rect x="29.11" y="175.12" width="3.13" height="8.66" fill="#0097ff"/><rect x="31.54" y="175.12" width="3.13" height="8.66" fill="#0000e7"/><rect x="33.96" y="175.12" width="3.13" height="8.66" fill="#0097ff"/><rect x="36.39" y="175.12" width="3.13" height="8.66" fill="#08fff7"/><rect x="38.82" y="175.12" width="3.13" height="8.66" fill="#0097ff"/><rect x="41.24" y="175.12" width="3.13" height="8.66" fill="#0000e7"/><rect x="43.67" y="175.12" width="3.13" height="8.66" fill="#0097ff"/><rect x="46.09" y="175.12" width="3.13" height="8.66" fill="#0038ff"/><rect x="48.52" y="175.12" width="3.13" height="8.66" fill="#08fff7"/><rect x="50.95" y="175.12" width="3.13" height="8.66" fill="#58ffa7"/><rect x="53.37" y="175.12" width="3.13" height="8.66" fill="#0097ff"/><rect x="55.80" y="175.12" width="3.13" height="8.66" fill="#0000e7"/><rect x="58.22" y="175.12" width="3.13" height="8.66" fill="#08fff7"/><rect x="60.65" y="175.12" width="3.13" height="8.66" fill="#87ff78"/><rect x="63.08" y="175.12" width="3.13" height="8.66" fill="#08fff7"/><rect x="65.50" y="175.12" width="3.13" height="8.66" fill="#58ffa7"/><rect x="67.93" y="175.12" width="3.13" height="8.66" fill="#0097ff"/><rect x="70.35" y="175.12" width="3.13" height="8.66" fill="#08fff7"/><rect x="72.78" y="175.12" width="3.13" height="8.66" fill="#ffb700"/><rect x="75.21" y="175.12" width="3.13" height="8.66" fill="#0097ff"/><rect x="77.63" y="175.12" width="3.13" height="8.66" fill="#ffb700"/><rect x="80.06" y="175.12" width="3.13" height="8.66" fill="#ff5800"/><rect x="82.48" y="175.12" width="5.55" height="8.66" fill="#ff0800"/><rect x="87.34" y="175.12" width="5.55" height="8.66" fill="#ffb700"/><rect x="92.19" y="175.12" width="3.13" height="8.66" fill="#ff6800"/><rect x="94.61" y="175.12" width="5.55" height="8.66" fill="#ff8700"/><rect x="99.47" y="175.12" width="5.55" height="8.66" fill="#ff6800"/><rect x="104.32" y="175.12" width="3.13" height="8.66" fill="#ff8700"/><rect x="106.74" y="175.12" width="3.13" height="8.66" fill="#ff9700"/><rect x="109.17" y="175.12" width="3.13" height="8.66" fill="#ffa700"/><rect x="111.60" y="175.12" width="5.55" height="8.66" fill="#ffb700"/><rect x="116.45" y="175.12" width="5.55" height="8.66" fill="#ffd700"/><rect x="121.30" y="175.12" width="3.13" height="8.66" fill="#ffb700"/><rect x="123.73" y="175.12" width="3.13" height="8.66" fill="#ffd700"/><rect x="126.15" y="175.12" width="5.55" height="8.66" fill="#ffc700"/><rect x="131.00" y="175.12" width="3.13" height="8.66" fill="#ffe700"/><rect x="133.43" y="175.12" width="3.13" height="8.66" fill="#ff8700"/><rect x="135.86" y="175.12" width="3.13" height="8.66" fill="#ffd700"/><rect x="138.28" y="175.12" width="10.40" height="8.66" fill="#ffc700"/><rect x="147.99" y="175.12" width="3.13" height="8.66" fill="#ffd700"/><rect x="150.41" y="175.12" width="3.13" height="8.66" fill="#ffc700"/><rect x="152.84" y="175.12" width="5.55" height="8.66" fill="#ffd700"/><rect x="157.69" y="175.12" width="3.13" height="8.66" fill="#ffc700"/><rect x="160.12" y="175.12" width="3.13" height="8.66" fill="#ffb700"/><rect x="162.54" y="175.12" width="5.55" height="8.66" fill="#ffc700"/><rect x="167.39" y="175.12" width="5.55" height="8.66" fill="#ffd700"/><rect x="172.25" y="175.12" width="5.55" height="8.66" fill="#ffc700"/><rect x="177.10" y="175.12" width="3.13" height="8.66" fill="#ffb700"/><rect x="179.52" y="175.12" width="10.40" height="8.66" fill="#ffc700"/><rect x="189.23" y="175.12" width="3.13" height="8.66" fill="#ffe700"/><rect x="191.65" y="175.12" width="3.13" height="8.66" fill="#ffc700"/><rect x="194.08" y="175.12" width="7.98" height="8.66" fill="#ffd700"/><rect x="201.36" y="175.12" width="3.13" height="8.66" fill="#ff8700"/><rect x="203.78" y="175.12" width="3.13" height="8.66" fill="#ffd700"/><rect x="206.21" y="175.12" width="3.13" height="8.66" fill="#ffe700"/><rect x="208.64" y="175.12" width="5.55" height="8.66" fill="#ffd700"/><rect x="213.49" y="175.12" width="3.13" height="8.66" fill="#ffe700"/><rect x="215.91" y="175.12" width="3.13" height="8.66" fill="#ffd700"/><rect x="218.34" y="175.12" width="7.98" height="8.66" fill="#ffe700"/><rect x="225.62" y="175.12" width="3.13" height="8.66" fill="#ffd700"/><rect x="228.04" y="175.12" width="3.13" height="8.66" fill="#ffe700"/><rect x="230.47" y="175.12" width="3.13" height="8.66" fill="#ff8700"/><rect x="232.90" y="175.12" width="10.40" height="8.66" fill="#fff700"/><rect x="0.00" y="183.08" width="3.13" height="8.66" fill="#08fff7"/><rect x="2.43" y="183.08" width="3.13" height="8.66" fill="#0000e7"/><rect x="4.85" y="183.08" width="3.13" height="8.66" fill="#0038ff"/><rect x="7.28" y="183.08" width="3.13" height="8.66" fill="#0097ff"/><rect x="9.70" y="183.08" width="7.98" height="8.66" fill="#08fff7"/><rect x="16.98" y="183.08" width="3.13" height="8.66" fill="#58ffa7"/><rect x="19.41" y="183.08" width="3.13" height="8.66" fill="#08fff7"/><rect x="21.83" y="183.08" width="3.13" height="8.66" fill="#58ffa7"/><rect x="24.26" y="183.08" width="3.13" height="8.66" fill="#08fff7"/><rect x="26.69" y="183.08" width="3.13" height="8.66" fill="#58ffa7"/><rect x="29.11" y="183.08" width="3.13" height="8.66" fill="#0097ff"/><rect x="31.54" y="183.08" width="5.55" height="8.66" fill="#0000e7"/><rect x="36.39" y="183.08" width="5.55" height="8.66" fill="#08fff7"/><rect x="41.24" y="183.08" width="3.13" height="8.66" fill="#0097ff"/><rect x="43.67" y="183.08" width="3.13" height="8.66" fill="#0000e7"/><rect x="46.09" y="183.08" width="3.13" height="8.66" fill="#08fff7"/><rect x="48.52" y="183.08" width="3.13" height="8.66" fill="#0000e7"/><rect x="50.95" y="183.08" width="3.13" height="8.66" fill="#0097ff"/><rect x="53.37" y="183.08" width="5.55" height="8.66" fill="#0000e7"/><rect x="58.22" y="183.08" width="5.55" height="8.66" fill="#08fff7"/><rect x="63.08" y="183.08" width="3.13" height="8.66" fill="#58ffa7"/><rect x="65.50" y="183.08" width="3.13" height="8.66" fill="#08fff7"/><rect x="67.93" y="183.08" width="3.13" height="8.66" fill="#58ffa7"/><rect x="70.35" y="183.08" width="3.13" height="8.66" fill="#0097ff"/><rect x="72.78" y="183.08" width="3.13" height="8.66" fill="#ff0800"/><rect x="75.21" y="183.08" width="5.55" height="8.66" fill="#ffb700"/><rect x="80.06" y="183.08" width="3.13" height="8.66" fill="#ff5800"/><rect x="82.48" y="183.08" width="3.13" height="8.66" fill="#ffb700"/><rect x="84.91" y="183.08" width="3.13" height="8.66" fill="#fff700"/><rect x="87.34" y="183.08" width="3.13" height="8.66" fill="#ffb700"/><rect x="89.76" y="183.08" width="3.13" height="8.66" fill="#fff700"/><rect x="92.19" y="183.08" width="3.13" height="8.66" fill="#ff7800"/><rect x="94.61" y="183.08" width="3.13" height="8.66" fill="#ff8700"/><rect x="97.04" y="183.08" width="10.40" height="8.66" fill="#ff9700"/><rect x="106.74" y="183.08" width="3.13" height="8.66" fill="#ffc700"/><rect x="109.17" y="183.08" width="3.13" height="8.66" fill="#ffb700"/><rect x="111.60" y="183.08" width="5.55" height="8.66" fill="#ffc700"/><rect x="116.45" y="183.08" width="3.13" height="8.66" fill="#ffb700"/><rect x="118.87" y="183.08" width="3.13" height="8.66" fill="#ffd700"/><rect x="121.30" y="183.08" width="3.13" height="8.66" fill="#ffb700"/><rect x="123.73" y="183.08" width="3.13" height="8.66" fill="#ffd700"/><rect x="126.15" y="183.08" width="5.55" height="8.66" fill="#ffc700"/><rect x="131.00" y="183.08" width="3.13" height="8.66" fill="#ffd700"/><rect x="133.43" y="183.08" width="3.13" height="8.66" fill="#ffc700"/><rect x="135.86" y="183.08" width="5.55" height="8.66" fill="#ffd700"/><rect x="140.71" y="183.08" width="7.98" height="8.66" fill="#ffc700"/><rect x="147.99" y="183.08" width="3.13" height="8.66" fill="#ffd700"/><rect x="150.41" y="183.08" width="3.13" height="8.66" fill="#ff8700"/><rect x="152.84" y="183.08" width="5.55" height="8.66" fill="#ffc700"/><rect x="157.69" y="183.08" width="3.13" height="8.66" fill="#ffd700"/><rect x="160.12" y="183.08" width="3.13" height="8.66" fill="#ffc700"/><rect x="162.54" y="183.08" width="3.13" height="8.66" fill="#ffb700"/><rect x="164.97" y="183.08" width="5.55" height="8.66" fill="#ffc700"/><rect x="169.82" y="183.08" width="7.98" height="8.66" fill="#ffd700"/><rect x="177.10" y="183.08" width="3.13" height="8.66" fill="#ffc700"/><rect x="179.52" y="183.08" width="3.13" height="8.66" fill="#ffb700"/><rect x="181.95" y="183.08" width="3.13" height="8.66" fill="#ffd700"/><rect x="184.38" y="183.08" width="3.13" height="8.66" fill="#ffc700"/><rect x="186.80" y="183.08" width="3.13" height="8.66" fill="#ffd700"/><rect x="189.23" y="183.08" width="3.13" height="8.66" fill="#ffe700"/><rect x="191.65" y="183.08" width="3.13" height="8.66" fill="#ffd700"/><rect x="194.08" y="183.08" width="3.13" height="8.66" fill="#ffe700"/><rect x="196.51" y="183.08" width="5.55" height="8.66" fill="#ffd700"/><rect x="201.36" y="183.08" width="3.13" height="8.66" fill="#ffc700"/><rect x="203.78" y="183.08" width="5.55" height="8.66" fill="#ffd700"/><rect x="208.64" y="183.08" width="3.13" height="8.66" fill="#ffc700"/><rect x="211.06" y="183.08" width="3.13" height="8.66" fill="#ffd700"/><rect x="213.49" y="183.08" width="10.40" height="8.66" fill="#ffe700"/><rect x="223.19" y="183.08" width="3.13" height="8.66" fill="#ffd700"/><rect x="225.62" y="183.08" width="5.55" height="8.66" fill="#ffe700"/><rect x="230.47" y="183.08" width="5.55" height="8.66" fill="#fff700"/><rect x="235.32" y="183.08" width="5.55" height="8.66" fill="#ffe700"/><rect x="240.17" y="183.08" width="3.13" height="8.66" fill="#fff700"/><rect x="0.00" y="191.04" width="3.13" height="8.66" fill="#08fff7"/><rect x="2.43" y="191.04" width="3.13" height="8.66" fill="#ffb700"/><rect x="4.85" y="191.04" width="3.13" height="8.66" fill="#08fff7"/><rect x="7.28" y="191.04" width="3.13" height="8.66" fill="#c7ff38"/><rect x="9.70" y="191.04" width="3.13" height="8.66" fill="#87ff78"/><rect x="12.13" y="191.04" width="3.13" height="8.66" fill="#fff700"/><rect x="14.56" y="191.04" width="3.13" height="8.66" fill="#87ff78"/><rect x="16.98" y="191.04" width="3.13" height="8.66" fill="#c7ff38"/><rect x="19.41" y="191.04" width="3.13" height="8.66" fill="#ff5800"/><rect x="21.83" y="191.04" width="3.13" height="8.66" fill="#fff700"/><rect x="24.26" y="191.04" width="3.13" height="8.66" fill="#ffb700"/><rect x="26.69" y="191.04" width="3.13" height="8.66" fill="#ff5800"/><rect x="29.11" y="191.04" width="3.13" height="8.66" fill="#c70000"/><rect x="31.54" y="191.04" width="3.13" height="8.66" fill="#c7ff38"/><rect x="33.96" y="191.04" width="5.55" height="8.66" fill="#ffb700"/><rect x="38.82" y="191.04" width="5.55" height="8.66" fill="#fff700"/><rect x="43.67" y="191.04" width="5.55" height="8.66" fill="#ffb700"/><rect x="48.52" y="191.04" width="3.13" height="8.66" fill="#08fff7"/><rect x="50.95" y="191.04" width="3.13" height="8.66" fill="#ff0800"/><rect x="53.37" y="191.04" width="5.55" height="8.66" fill="#fff700"/><rect x="58.22" y="191.04" width="3.13" height="8.66" fill="#ffb700"/><rect x="60.65" y="191.04" width="3.13" height="8.66" fill="#c70000"/><rect x="63.08" y="191.04" width="3.13" height="8.66" fill="#ffb700"/><rect x="65.50" y="191.04" width="3.13" height="8.66" fill="#fff700"/><rect x="67.93" y="191.04" width="3.13" height="8.66" fill="#ffb700"/><rect x="70.35" y="191.04" width="3.13" height="8.66" fill="#fff700"/><rect x="72.78" y="191.04" width="5.55" height="8.66" fill="#ffb700"/><rect x="77.63" y="191.04" width="3.13" height="8.66" fill="#fff700"/><rect x="80.06" y="191.04" width="3.13" height="8.66" fill="#ffb700"/><rect x="82.48" y="191.04" width="5.55" height="8.66" fill="#fff700"/><rect x="87.34" y="191.04" width="3.13" height="8.66" fill="#ffa700"/><rect x="89.76" y="191.04" width="3.13" height="8.66" fill="#ff9700"/><rect x="92.19" y="191.04" width="7.98" height="8.66" fill="#ffa700"/><rect x="99.47" y="191.04" width="3.13" height="8.66" fill="#ffb700"/><rect x="101.89" y="191.04" width="3.13" height="8.66" fill="#ffd700"/><rect x="104.32" y="191.04" width="3.13" height="8.66" fill="#ffc700"/><rect x="106.74" y="191.04" width="5.55" height="8.66" fill="#ffd700"/><rect x="111.60" y="191.04" width="7.98" height="8.66" fill="#ffc700"/><rect x="118.87" y="191.04" width="3.13" height="8.66" fill="#ffd700"/><rect x="121.30" y="191.04" width="3.13" height="8.66" fill="#ffc700"/><rect x="123.73" y="191.04" width="3.13" height="8.66" fill="#ffe700"/><rect x="126.15" y="191.04" width="5.55" height="8.66" fill="#ffc700"/><rect x="131.00" y="191.04" width="5.55" height="8.66" fill="#ffd700"/><rect x="135.86" y="191.04" width="3.13" height="8.66" fill="#ffe700"/><rect x="138.28" y="191.04" width="3.13" height="8.66" fill="#ffd700"/><rect x="140.71" y="191.04" width="7.98" height="8.66" fill="#ffc700"/><rect x="147.99" y="191.04" width="3.13" height="8.66" fill="#ffd700"/><rect x="150.41" y="191.04" width="3.13" height="8.66" fill="#ffc700"/><rect x="152.84" y="191.04" width="10.40" height="8.66" fill="#ffd700"/><rect x="162.54" y="191.04" width="5.55" height="8.66" fill="#ffc700"/><rect x="167.39" y="191.04" width="5.55" height="8.66" fill="#ffd700"/><rect x="172.25" y="191.04" width="7.98" height="8.66" fill="#ffc700"/><rect x="179.52" y="191.04" width="3.13" height="8.66" fill="#ffb700"/><rect x="181.95" y="191.04" width="5.55" height="8.66" fill="#ffd700"/><rect x="186.80" y="191.04" width="3.13" height="8.66" fill="#ffc700"/><rect x="189.23" y="191.04" width="5.55" height="8.66" fill="#ffd700"/><rect x="194.08" y="191.04" width="3.13" height="8.66" fill="#ffe700"/><rect x="196.51" y="191.04" width="5.55" height="8.66" fill="#ffd700"/><rect x="201.36" y="191.04" width="5.55" height="8.66" fill="#ffc700"/><rect x="206.21" y="191.04" width="3.13" height="8.66" fill="#ffe700"/><rect x="208.64" y="191.04" width="5.55" height="8.66" fill="#ffd700"/><rect x="213.49" y="191.04" width="5.55" height="8.66" fill="#ffe700"/><rect x="218.34" y="191.04" width="3.13" height="8.66" fill="#ffd700"/><rect x="220.77" y="191.04" width="7.98" height="8.66" fill="#ffe700"/><rect x="228.04" y="191.04" width="3.13" height="8.66" fill="#f7ff08"/><rect x="230.47" y="191.04" width="3.13" height="8.66" fill="#ffe700"/><rect x="232.90" y="191.04" width="3.13" height="8.66" fill="#f7ff08"/><rect x="235.32" y="191.04" width="3.13" height="8.66" fill="#ffd700"/><rect x="237.75" y="191.04" width="3.13" height="8.66" fill="#ffe700"/><rect x="240.17" y="191.04" width="3.13" height="8.66" fill="#fff700"/><path d="M0.30 0V199.00M2.43 0V199.00M4.85 0V199.00M7.28 0V199.00M9.70 0V199.00M12.13 0V199.00M14.56 0V199.00M16.98 0V199.00M19.41 0V199.00M21.83 0V199.00M24.26 0V199.00M26.69 0V199.00M29.11 0V199.00M31.54 0V199.00M33.96 0V199.00M36.39 0V199.00M38.82 0V199.00M41.24 0V199.00M43.67 0V199.00M46.09 0V199.00M48.52 0V199.00M50.95 0V199.00M53.37 0V199.00M55.80 0V199.00M58.22 0V199.00M60.65 0V199.00M63.08 0V199.00M65.50 0V199.00M67.93 0V199.00M70.35 0V199.00M72.78 0V199.00M75.21 0V199.00M77.63 0V199.00M80.06 0V199.00M82.48 0V199.00M84.91 0V199.00M87.34 0V199.00M89.76 0V199.00M92.19 0V199.00M94.61 0V199.00M97.04 0V199.00M99.47 0V199.00M101.89 0V199.00M104.32 0V199.00M106.74 0V199.00M109.17 0V199.00M111.60 0V199.00M114.02 0V199.00M116.45 0V199.00M118.87 0V199.00M121.30 0V199.00M123.73 0V199.00M126.15 0V199.00M128.58 0V199.00M131.00 0V199.00M133.43 0V199.00M135.86 0V199.00M138.28 0V199.00M140.71 0V199.00M143.13 0V199.00M145.56 0V199.00M147.99 0V199.00M150.41 0V199.00M152.84 0V199.00M155.26 0V199.00M157.69 0V199.00M160.12 0V199.00M162.54 0V199.00M164.97 0V199.00M167.39 0V199.00M169.82 0V199.00M172.25 0V199.00M174.67 0V199.00M177.10 0V199.00M179.52 0V199.00M181.95 0V199.00M184.38 0V199.00M186.80 0V199.00M189.23 0V199.00M191.65 0V199.00M194.08 0V199.00M196.51 0V199.00M198.93 0V199.00M201.36 0V199.00M203.78 0V199.00M206.21 0V199.00M208.64 0V199.00M211.06 0V199.00M213.49 0V199.00M215.91 0V199.00M218.34 0V199.00M220.77 0V199.00M223.19 0V199.00M225.62 0V199.00M228.04 0V199.00M230.47 0V199.00M232.90 0V199.00M235.32 0V199.00M237.75 0V199.00M240.17 0V199.00M242.30 0V199.00M0 0.30H242.60M0 7.96H242.60M0 15.92H242.60M0 23.88H242.60M0 31.84H242.60M0 39.80H242.60M0 47.76H242.60M0 55.72H242.60M0 63.68H242.60M0 71.64H242.60M0 79.60H242.60M0 87.56H242.60M0 95.52H242.60M0 103.48H242.60M0 111.44H242.60M0 119.40H242.60M0 127.36H242.60M0 135.32H242.60M0 143.28H242.60M0 151.24H242.60M0 159.20H242.60M0 167.16H242.60M0 175.12H242.60M0 183.08H242.60M0 191.04H242.60M0 198.70H242.60" stroke="#000" stroke-opacity="0.38" stroke-width="0.8" fill="none" shape-rendering="crispEdges"/></svg></div><div class="abs" style="left:297px;top:46px"><svg width="12.5" height="201" style="display:block"><defs><linearGradient id="jg12.5201" x1="0" y1="0" x2="0" y2="1"><stop offset="0.0000" stop-color="#800000"/><stop offset="0.0156" stop-color="#8f0000"/><stop offset="0.0312" stop-color="#9f0000"/><stop offset="0.0469" stop-color="#af0000"/><stop offset="0.0625" stop-color="#bf0000"/><stop offset="0.0781" stop-color="#cf0000"/><stop offset="0.0938" stop-color="#df0000"/><stop offset="0.1094" stop-color="#ef0000"/><stop offset="0.1250" stop-color="#ff0000"/><stop offset="0.1406" stop-color="#ff1000"/><stop offset="0.1562" stop-color="#ff2000"/><stop offset="0.1719" stop-color="#ff3000"/><stop offset="0.1875" stop-color="#ff4000"/><stop offset="0.2031" stop-color="#ff5000"/><stop offset="0.2188" stop-color="#ff6000"/><stop offset="0.2344" stop-color="#ff7000"/><stop offset="0.2500" stop-color="#ff8000"/><stop offset="0.2656" stop-color="#ff8f00"/><stop offset="0.2812" stop-color="#ff9f00"/><stop offset="0.2969" stop-color="#ffaf00"/><stop offset="0.3125" stop-color="#ffbf00"/><stop offset="0.3281" stop-color="#ffcf00"/><stop offset="0.3438" stop-color="#ffdf00"/><stop offset="0.3594" stop-color="#ffef00"/><stop offset="0.3750" stop-color="#ffff00"/><stop offset="0.3906" stop-color="#efff10"/><stop offset="0.4062" stop-color="#dfff20"/><stop offset="0.4219" stop-color="#cfff30"/><stop offset="0.4375" stop-color="#bfff40"/><stop offset="0.4531" stop-color="#afff50"/><stop offset="0.4688" stop-color="#9fff60"/><stop offset="0.4844" stop-color="#8fff70"/><stop offset="0.5000" stop-color="#80ff80"/><stop offset="0.5156" stop-color="#70ff8f"/><stop offset="0.5312" stop-color="#60ff9f"/><stop offset="0.5469" stop-color="#50ffaf"/><stop offset="0.5625" stop-color="#40ffbf"/><stop offset="0.5781" stop-color="#30ffcf"/><stop offset="0.5938" stop-color="#20ffdf"/><stop offset="0.6094" stop-color="#10ffef"/><stop offset="0.6250" stop-color="#00ffff"/><stop offset="0.6406" stop-color="#00efff"/><stop offset="0.6562" stop-color="#00dfff"/><stop offset="0.6719" stop-color="#00cfff"/><stop offset="0.6875" stop-color="#00bfff"/><stop offset="0.7031" stop-color="#00afff"/><stop offset="0.7188" stop-color="#009fff"/><stop offset="0.7344" stop-color="#008fff"/><stop offset="0.7500" stop-color="#0080ff"/><stop offset="0.7656" stop-color="#0070ff"/><stop offset="0.7812" stop-color="#0060ff"/><stop offset="0.7969" stop-color="#0050ff"/><stop offset="0.8125" stop-color="#0040ff"/><stop offset="0.8281" stop-color="#0030ff"/><stop offset="0.8438" stop-color="#0020ff"/><stop offset="0.8594" stop-color="#0010ff"/><stop offset="0.8750" stop-color="#0000ff"/><stop offset="0.8906" stop-color="#0000ef"/><stop offset="0.9062" stop-color="#0000df"/><stop offset="0.9219" stop-color="#0000cf"/><stop offset="0.9375" stop-color="#0000bf"/><stop offset="0.9531" stop-color="#0000af"/><stop offset="0.9688" stop-color="#00009f"/><stop offset="0.9844" stop-color="#00008f"/><stop offset="1.0000" stop-color="#000080"/></linearGradient></defs><rect width="12.5" height="201" fill="url(#jg12.5201)"/><rect x="0.25" y="0.25" width="12.0" height="200.5" fill="none" stroke="#000" stroke-opacity="0.35" stroke-width="0.5"/><path d="M0 5.99h1.5M12.50 5.99h-1.5M0 30.92h1.5M12.50 30.92h-1.5M0 55.86h1.5M12.50 55.86h-1.5M0 80.80h1.5M12.50 80.80h-1.5M0 105.74h1.5M12.50 105.74h-1.5M0 130.67h1.5M12.50 130.67h-1.5M0 155.61h1.5M12.50 155.61h-1.5M0 180.55h1.5M12.50 180.55h-1.5" stroke="#000" stroke-width="0.6" stroke-opacity="0.6"/></svg></div><div class="abs" style="left:641.4px;top:48px"><svg width="12" height="198" style="display:block"><defs><linearGradient id="jg12198" x1="0" y1="0" x2="0" y2="1"><stop offset="0.0000" stop-color="#800000"/><stop offset="0.0156" stop-color="#8f0000"/><stop offset="0.0312" stop-color="#9f0000"/><stop offset="0.0469" stop-color="#af0000"/><stop offset="0.0625" stop-color="#bf0000"/><stop offset="0.0781" stop-color="#cf0000"/><stop offset="0.0938" stop-color="#df0000"/><stop offset="0.1094" stop-color="#ef0000"/><stop offset="0.1250" stop-color="#ff0000"/><stop offset="0.1406" stop-color="#ff1000"/><stop offset="0.1562" stop-color="#ff2000"/><stop offset="0.1719" stop-color="#ff3000"/><stop offset="0.1875" stop-color="#ff4000"/><stop offset="0.2031" stop-color="#ff5000"/><stop offset="0.2188" stop-color="#ff6000"/><stop offset="0.2344" stop-color="#ff7000"/><stop offset="0.2500" stop-color="#ff8000"/><stop offset="0.2656" stop-color="#ff8f00"/><stop offset="0.2812" stop-color="#ff9f00"/><stop offset="0.2969" stop-color="#ffaf00"/><stop offset="0.3125" stop-color="#ffbf00"/><stop offset="0.3281" stop-color="#ffcf00"/><stop offset="0.3438" stop-color="#ffdf00"/><stop offset="0.3594" stop-color="#ffef00"/><stop offset="0.3750" stop-color="#ffff00"/><stop offset="0.3906" stop-color="#efff10"/><stop offset="0.4062" stop-color="#dfff20"/><stop offset="0.4219" stop-color="#cfff30"/><stop offset="0.4375" stop-color="#bfff40"/><stop offset="0.4531" stop-color="#afff50"/><stop offset="0.4688" stop-color="#9fff60"/><stop offset="0.4844" stop-color="#8fff70"/><stop offset="0.5000" stop-color="#80ff80"/><stop offset="0.5156" stop-color="#70ff8f"/><stop offset="0.5312" stop-color="#60ff9f"/><stop offset="0.5469" stop-color="#50ffaf"/><stop offset="0.5625" stop-color="#40ffbf"/><stop offset="0.5781" stop-color="#30ffcf"/><stop offset="0.5938" stop-color="#20ffdf"/><stop offset="0.6094" stop-color="#10ffef"/><stop offset="0.6250" stop-color="#00ffff"/><stop offset="0.6406" stop-color="#00efff"/><stop offset="0.6562" stop-color="#00dfff"/><stop offset="0.6719" stop-color="#00cfff"/><stop offset="0.6875" stop-color="#00bfff"/><stop offset="0.7031" stop-color="#00afff"/><stop offset="0.7188" stop-color="#009fff"/><stop offset="0.7344" stop-color="#008fff"/><stop offset="0.7500" stop-color="#0080ff"/><stop offset="0.7656" stop-color="#0070ff"/><stop offset="0.7812" stop-color="#0060ff"/><stop offset="0.7969" stop-color="#0050ff"/><stop offset="0.8125" stop-color="#0040ff"/><stop offset="0.8281" stop-color="#0030ff"/><stop offset="0.8438" stop-color="#0020ff"/><stop offset="0.8594" stop-color="#0010ff"/><stop offset="0.8750" stop-color="#0000ff"/><stop offset="0.8906" stop-color="#0000ef"/><stop offset="0.9062" stop-color="#0000df"/><stop offset="0.9219" stop-color="#0000cf"/><stop offset="0.9375" stop-color="#0000bf"/><stop offset="0.9531" stop-color="#0000af"/><stop offset="0.9688" stop-color="#00009f"/><stop offset="0.9844" stop-color="#00008f"/><stop offset="1.0000" stop-color="#000080"/></linearGradient></defs><rect width="12" height="198" fill="url(#jg12198)"/><rect x="0.25" y="0.25" width="11.5" height="197.5" fill="none" stroke="#000" stroke-opacity="0.35" stroke-width="0.5"/><path d="M0 6.64h1.5M12.00 6.64h-1.5M0 24.33h1.5M12.00 24.33h-1.5M0 42.02h1.5M12.00 42.02h-1.5M0 59.72h1.5M12.00 59.72h-1.5M0 77.41h1.5M12.00 77.41h-1.5M0 95.11h1.5M12.00 95.11h-1.5M0 112.80h1.5M12.00 112.80h-1.5M0 130.50h1.5M12.00 130.50h-1.5M0 148.19h1.5M12.00 148.19h-1.5M0 165.88h1.5M12.00 165.88h-1.5M0 183.58h1.5M12.00 183.58h-1.5" stroke="#000" stroke-width="0.6" stroke-opacity="0.6"/></svg></div><svg class="txt" width="685" height="282" viewBox="0 0 685 282"><text transform="translate(310.70,54.79) scale(0.93,1)" text-anchor="start" font-size="7.6" >0.62</text><text transform="translate(310.70,79.72) scale(0.93,1)" text-anchor="start" font-size="7.6" >0.6</text><text transform="translate(310.70,104.66) scale(0.93,1)" text-anchor="start" font-size="7.6" >0.58</text><text transform="translate(310.70,129.60) scale(0.93,1)" text-anchor="start" font-size="7.6" >0.56</text><text transform="translate(310.70,154.54) scale(0.93,1)" text-anchor="start" font-size="7.6" >0.54</text><text transform="translate(310.70,179.47) scale(0.93,1)" text-anchor="start" font-size="7.6" >0.52</text><text transform="translate(310.70,204.41) scale(0.93,1)" text-anchor="start" font-size="7.6" >0.5</text><text transform="translate(310.70,229.35) scale(0.93,1)" text-anchor="start" font-size="7.6" >0.48</text><text transform="translate(654.70,57.54) scale(0.93,1)" text-anchor="start" font-size="7.6" >0.044</text><text transform="translate(654.70,75.23) scale(0.93,1)" text-anchor="start" font-size="7.6" >0.042</text><text transform="translate(654.70,92.92) scale(0.93,1)" text-anchor="start" font-size="7.6" >0.04</text><text transform="translate(654.70,110.62) scale(0.93,1)" text-anchor="start" font-size="7.6" >0.038</text><text transform="translate(654.70,128.31) scale(0.93,1)" text-anchor="start" font-size="7.6" >0.036</text><text transform="translate(654.70,146.01) scale(0.93,1)" text-anchor="start" font-size="7.6" >0.034</text><text transform="translate(654.70,163.70) scale(0.93,1)" text-anchor="start" font-size="7.6" >0.032</text><text transform="translate(654.70,181.40) scale(0.93,1)" text-anchor="start" font-size="7.6" >0.03</text><text transform="translate(654.70,199.09) scale(0.93,1)" text-anchor="start" font-size="7.6" >0.028</text><text transform="translate(654.70,216.78) scale(0.93,1)" text-anchor="start" font-size="7.6" >0.026</text><text transform="translate(654.70,234.48) scale(0.93,1)" text-anchor="start" font-size="7.6" >0.024</text><text transform="translate(43.90,49.10) scale(0.93,1)" text-anchor="end" font-size="7.6" >0.05</text><text transform="translate(387.80,50.70) scale(0.93,1)" text-anchor="end" font-size="7.6" >0.05</text><text transform="translate(43.90,69.20) scale(0.93,1)" text-anchor="end" font-size="7.6" >0.045</text><text transform="translate(387.80,70.60) scale(0.93,1)" text-anchor="end" font-size="7.6" >0.045</text><text transform="translate(43.90,89.30) scale(0.93,1)" text-anchor="end" font-size="7.6" >0.04</text><text transform="translate(387.80,90.50) scale(0.93,1)" text-anchor="end" font-size="7.6" >0.04</text><text transform="translate(43.90,109.40) scale(0.93,1)" text-anchor="end" font-size="7.6" >0.035</text><text transform="translate(387.80,110.40) scale(0.93,1)" text-anchor="end" font-size="7.6" >0.035</text><text transform="translate(43.90,129.50) scale(0.93,1)" text-anchor="end" font-size="7.6" >0.03</text><text transform="translate(387.80,130.30) scale(0.93,1)" text-anchor="end" font-size="7.6" >0.03</text><text transform="translate(43.90,149.60) scale(0.93,1)" text-anchor="end" font-size="7.6" >0.025</text><text transform="translate(387.80,150.20) scale(0.93,1)" text-anchor="end" font-size="7.6" >0.025</text><text transform="translate(43.90,169.70) scale(0.93,1)" text-anchor="end" font-size="7.6" >0.02</text><text transform="translate(387.80,170.10) scale(0.93,1)" text-anchor="end" font-size="7.6" >0.02</text><text transform="translate(43.90,189.80) scale(0.93,1)" text-anchor="end" font-size="7.6" >0.015</text><text transform="translate(387.80,190.00) scale(0.93,1)" text-anchor="end" font-size="7.6" >0.015</text><text transform="translate(43.90,209.90) scale(0.93,1)" text-anchor="end" font-size="7.6" >0.01</text><text transform="translate(387.80,209.90) scale(0.93,1)" text-anchor="end" font-size="7.6" >0.01</text><text transform="translate(43.90,230.00) scale(0.93,1)" text-anchor="end" font-size="7.6" >0.005</text><text transform="translate(387.80,229.80) scale(0.93,1)" text-anchor="end" font-size="7.6" >0.005</text><text transform="translate(43.90,250.10) scale(0.93,1)" text-anchor="end" font-size="7.6" >0</text><text transform="translate(387.80,249.70) scale(0.93,1)" text-anchor="end" font-size="7.6" >0</text><text transform="translate(45.00,255.70) scale(0.93,1)" text-anchor="middle" font-size="7.6" >0</text><text transform="translate(389.20,255.70) scale(0.93,1)" text-anchor="middle" font-size="7.6" >0</text><text transform="translate(126.00,255.70) scale(0.93,1)" text-anchor="middle" font-size="7.6" >0.05</text><text transform="translate(470.07,255.70) scale(0.93,1)" text-anchor="middle" font-size="7.6" >0.05</text><text transform="translate(207.00,255.70) scale(0.93,1)" text-anchor="middle" font-size="7.6" >0.1</text><text transform="translate(550.93,255.70) scale(0.93,1)" text-anchor="middle" font-size="7.6" >0.1</text><text transform="translate(288.00,255.70) scale(0.93,1)" text-anchor="middle" font-size="7.6" >0.15</text><text transform="translate(631.80,255.70) scale(0.93,1)" text-anchor="middle" font-size="7.6" >0.15</text><text x="20.80" y="23.00" text-anchor="start" font-size="17.4" >A</text><text x="365.80" y="22.70" text-anchor="start" font-size="17.4" >B</text><g transform="translate(151.50,271.10)" stroke-width="0.1"><text transform="scale(1.18,1)" font-family="Liberation Serif,serif" font-size="14.5">&#945;</text><text x="9.0" y="-4.8" font-size="8.0">(DE)</text></g><g transform="translate(501.30,271.10)" stroke-width="0.1"><text transform="scale(1.18,1)" font-family="Liberation Serif,serif" font-size="14.5">&#945;</text><text x="9.0" y="-4.8" font-size="8.0">(DE)</text></g><g transform="translate(20.50,152.50) rotate(-90)" stroke-width="0.1"><text transform="scale(1.18,1)" font-family="Liberation Serif,serif" font-size="14.5">&#945;</text><text x="8.8" y="-6.6" font-size="8.0">(NDE)</text></g><g transform="translate(365.30,153.60) rotate(-90)" stroke-width="0.1"><text transform="scale(1.18,1)" font-family="Liberation Serif,serif" font-size="14.5">&#945;</text><text x="8.8" y="-6.6" font-size="8.0">(NDE)</text></g></svg></body></html>
